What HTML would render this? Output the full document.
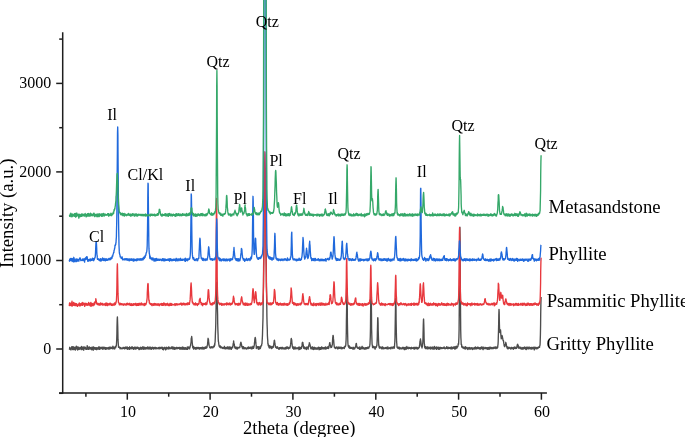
<!DOCTYPE html>
<html><head><meta charset="utf-8"><style>
html,body{margin:0;padding:0;background:#fff;}
svg{display:block;will-change:transform;}
text{font-family:"Liberation Serif",serif;fill:#000;}
</style></head><body>
<svg width="685" height="437" viewBox="0 0 685 437">
<rect width="685" height="437" fill="#fff"/>
<g fill="none" stroke-width="1.35" stroke-linejoin="round"><path d="M69.3 349.8L69.5 349.3L69.7 347.3L69.8 348.6L70.0 348.8L70.2 348.2L70.3 348.1L70.5 348.4L70.7 349.0L70.8 349.9L71.0 349.9L71.1 348.2L71.3 347.8L71.5 348.8L71.6 346.8L71.8 348.3L72.0 348.2L72.1 348.7L72.3 349.0L72.5 346.8L72.6 349.6L72.8 347.9L73.0 348.4L73.1 346.7L73.3 348.6L73.5 347.1L73.6 349.5L73.8 347.1L74.0 349.2L74.1 348.2L74.3 349.0L74.5 349.4L74.6 347.5L74.8 349.2L75.0 347.3L75.1 347.5L75.3 350.1L75.5 348.7L75.6 347.8L75.8 349.1L76.0 348.8L76.1 346.8L76.3 346.1L76.4 348.0L76.6 348.6L76.8 348.8L76.9 349.0L77.1 346.8L77.3 348.7L77.4 347.1L77.6 350.0L77.8 348.5L77.9 347.0L78.1 348.0L78.3 347.1L78.4 347.9L78.6 348.5L78.8 348.4L78.9 349.5L79.1 347.3L79.3 348.3L79.4 349.4L79.6 348.6L79.8 347.9L79.9 349.0L80.1 348.5L80.3 348.4L80.4 348.8L80.6 347.8L80.8 347.3L80.9 349.0L81.1 348.0L81.3 349.6L81.4 349.0L81.6 346.5L81.7 346.7L81.9 348.7L82.1 349.5L82.2 347.4L82.4 347.8L82.6 348.2L82.7 347.4L82.9 347.1L83.1 349.0L83.2 349.3L83.4 348.8L83.6 347.4L83.7 350.2L83.9 347.9L84.1 346.8L84.2 348.7L84.4 348.5L84.6 348.1L84.7 348.5L84.9 347.8L85.1 347.1L85.2 348.5L85.4 349.1L85.6 348.9L85.7 348.9L85.9 347.9L86.1 349.2L86.2 348.9L86.4 349.2L86.6 348.1L86.7 349.0L86.9 349.2L87.0 348.1L87.2 345.6L87.4 348.6L87.5 349.0L87.7 348.2L87.9 348.6L88.0 347.0L88.2 348.2L88.4 348.8L88.5 349.4L88.7 347.8L88.9 348.0L89.0 348.7L89.2 348.4L89.4 346.9L89.5 348.4L89.7 347.2L89.9 349.1L90.0 348.6L90.2 348.7L90.4 348.1L90.5 348.4L90.7 347.7L90.9 348.9L91.0 349.0L91.2 348.6L91.4 347.8L91.5 347.9L91.7 349.8L91.9 347.2L92.0 349.4L92.2 347.8L92.3 349.2L92.5 348.7L92.7 348.0L92.8 347.4L93.0 347.3L93.2 350.3L93.3 346.8L93.5 348.8L93.7 349.2L93.8 347.6L94.0 347.3L94.2 347.6L94.3 348.5L94.5 349.1L94.7 348.2L94.8 348.7L95.0 347.8L95.2 348.0L95.3 349.3L95.5 347.8L95.7 349.0L95.8 348.0L96.0 348.0L96.2 347.6L96.3 348.2L96.5 347.9L96.7 349.7L96.8 348.9L97.0 348.5L97.2 348.8L97.3 348.5L97.5 348.1L97.7 347.7L97.8 349.0L98.0 347.6L98.1 348.2L98.3 348.4L98.5 349.0L98.6 347.0L98.8 348.0L99.0 347.5L99.1 347.8L99.3 346.9L99.5 349.4L99.6 348.0L99.8 348.5L100.0 347.5L100.1 348.3L100.3 348.3L100.5 347.9L100.6 347.8L100.8 348.8L101.0 348.5L101.1 347.3L101.3 348.3L101.5 347.6L101.6 348.0L101.8 347.6L102.0 347.2L102.1 347.7L102.3 348.3L102.5 349.2L102.6 347.5L102.8 348.4L103.0 348.6L103.1 349.1L103.3 348.9L103.4 347.7L103.6 347.2L103.8 348.4L103.9 347.7L104.1 348.7L104.3 347.8L104.4 348.5L104.6 348.6L104.8 347.7L104.9 347.3L105.1 348.3L105.3 349.4L105.4 348.3L105.6 347.7L105.8 348.7L105.9 348.4L106.1 347.6L106.3 347.7L106.4 349.0L106.6 348.0L106.8 348.2L106.9 348.9L107.1 348.5L107.3 348.0L107.4 348.4L107.6 348.7L107.8 348.5L107.9 347.8L108.1 347.9L108.3 347.4L108.4 347.9L108.6 348.9L108.7 348.4L108.9 349.2L109.1 348.9L109.2 348.3L109.4 348.2L109.6 347.3L109.7 348.7L109.9 349.0L110.1 347.0L110.2 348.1L110.4 348.6L110.6 348.5L110.7 347.7L110.9 347.8L111.1 347.5L111.2 348.3L111.4 348.3L111.6 347.4L111.7 347.5L111.9 348.2L112.1 347.4L112.2 347.5L112.4 348.9L112.6 348.0L112.7 347.9L112.9 346.2L113.1 347.5L113.2 347.3L113.4 347.5L113.6 348.7L113.7 347.5L113.9 347.7L114.0 347.2L114.2 348.1L114.4 347.6L114.5 347.6L114.7 349.0L114.9 347.6L115.0 348.0L115.2 346.9L115.4 347.4L115.5 346.2L115.7 347.7L115.9 346.4L116.0 346.0L116.2 346.3L116.4 345.4L116.5 343.7L116.7 339.7L116.9 333.4L117.0 326.7L117.2 319.4L117.4 316.9L117.5 319.5L117.7 325.2L117.9 333.9L118.0 339.4L118.2 342.6L118.4 345.3L118.5 347.3L118.7 347.1L118.9 347.2L119.0 346.8L119.2 346.8L119.3 347.3L119.5 347.6L119.7 347.9L119.8 347.3L120.0 348.7L120.2 348.0L120.3 347.6L120.5 347.5L120.7 348.5L120.8 348.8L121.0 348.2L121.2 348.8L121.3 348.5L121.5 348.1L121.7 348.2L121.8 348.5L122.0 348.3L122.2 348.5L122.3 348.7L122.5 348.2L122.7 348.5L122.8 348.6L123.0 347.4L123.2 348.0L123.3 348.4L123.5 347.4L123.7 348.1L123.8 347.9L124.0 348.5L124.2 348.4L124.3 348.0L124.5 348.9L124.6 347.4L124.8 348.6L125.0 348.0L125.1 348.2L125.3 348.4L125.5 348.3L125.6 348.5L125.8 346.9L126.0 348.1L126.1 347.8L126.3 348.4L126.5 348.4L126.6 347.9L126.8 347.1L127.0 347.3L127.1 346.9L127.3 349.4L127.5 348.5L127.6 347.6L127.8 347.5L128.0 347.6L128.1 348.9L128.3 347.6L128.5 348.7L128.6 347.8L128.8 347.6L129.0 349.1L129.1 349.4L129.3 348.6L129.5 348.2L129.6 346.8L129.8 349.4L130.0 347.8L130.1 348.4L130.3 348.3L130.4 347.8L130.6 347.9L130.8 347.9L130.9 347.9L131.1 347.9L131.3 348.4L131.4 347.1L131.6 348.1L131.8 348.8L131.9 348.5L132.1 346.6L132.3 348.2L132.4 347.9L132.6 348.6L132.8 347.7L132.9 348.2L133.1 347.7L133.3 347.8L133.4 348.2L133.6 349.3L133.8 348.3L133.9 347.9L134.1 348.8L134.3 347.3L134.4 348.5L134.6 347.7L134.8 348.9L134.9 347.3L135.1 348.7L135.3 349.0L135.4 347.3L135.6 348.7L135.7 349.0L135.9 348.5L136.1 347.3L136.2 348.9L136.4 347.9L136.6 348.6L136.7 347.9L136.9 348.2L137.1 347.3L137.2 347.1L137.4 348.4L137.6 347.5L137.7 347.9L137.9 347.5L138.1 347.4L138.2 348.4L138.4 347.8L138.6 348.9L138.7 348.4L138.9 348.0L139.1 349.6L139.2 348.8L139.4 347.9L139.6 349.3L139.7 348.1L139.9 348.4L140.1 348.4L140.2 348.3L140.4 347.5L140.6 349.0L140.7 347.2L140.9 348.3L141.0 347.6L141.2 347.9L141.4 348.0L141.5 349.2L141.7 347.6L141.9 347.6L142.0 347.9L142.2 348.7L142.4 347.1L142.5 348.0L142.7 348.7L142.9 346.6L143.0 347.8L143.2 349.1L143.4 348.1L143.5 347.4L143.7 349.1L143.9 349.4L144.0 347.4L144.2 347.2L144.4 348.6L144.5 347.7L144.7 348.0L144.9 347.5L145.0 348.4L145.2 348.2L145.4 349.1L145.5 348.6L145.7 348.4L145.9 348.2L146.0 347.6L146.2 348.4L146.3 347.7L146.5 348.8L146.7 348.2L146.8 348.6L147.0 348.6L147.2 347.7L147.3 348.4L147.5 346.9L147.7 347.1L147.8 347.8L148.0 349.0L148.2 347.8L148.3 347.8L148.5 348.1L148.7 348.8L148.8 348.9L149.0 347.2L149.2 347.4L149.3 348.7L149.5 348.7L149.7 347.8L149.8 347.1L150.0 349.0L150.2 347.5L150.3 348.6L150.5 347.1L150.7 348.1L150.8 348.2L151.0 347.4L151.2 349.3L151.3 348.5L151.5 348.1L151.6 349.1L151.8 348.3L152.0 348.0L152.1 347.7L152.3 348.4L152.5 347.1L152.6 347.5L152.8 348.4L153.0 348.8L153.1 348.1L153.3 348.6L153.5 347.6L153.6 349.1L153.8 347.7L154.0 347.4L154.1 348.1L154.3 347.7L154.5 347.8L154.6 348.5L154.8 348.2L155.0 348.5L155.1 348.1L155.3 347.3L155.5 348.7L155.6 348.8L155.8 348.2L156.0 348.3L156.1 348.7L156.3 348.7L156.5 347.8L156.6 348.5L156.8 347.9L156.9 348.6L157.1 347.8L157.3 348.2L157.4 348.4L157.6 348.2L157.8 348.4L157.9 348.6L158.1 348.1L158.3 347.7L158.4 348.0L158.6 348.1L158.8 348.7L158.9 347.5L159.1 348.7L159.3 347.9L159.4 347.5L159.6 348.0L159.8 348.9L159.9 347.4L160.1 347.7L160.3 348.1L160.4 347.6L160.6 348.1L160.8 347.4L160.9 348.2L161.1 347.8L161.3 347.9L161.4 347.7L161.6 347.3L161.8 348.4L161.9 347.7L162.1 348.7L162.3 348.2L162.4 347.4L162.6 349.4L162.7 347.5L162.9 348.7L163.1 348.3L163.2 349.1L163.4 349.8L163.6 348.4L163.7 348.0L163.9 348.7L164.1 348.3L164.2 347.8L164.4 347.3L164.6 348.6L164.7 348.7L164.9 348.1L165.1 348.4L165.2 348.3L165.4 348.3L165.6 349.9L165.7 348.4L165.9 347.5L166.1 348.1L166.2 348.7L166.4 348.3L166.6 347.3L166.7 348.1L166.9 349.0L167.1 348.7L167.2 348.3L167.4 348.6L167.6 347.8L167.7 348.1L167.9 348.4L168.0 348.6L168.2 348.8L168.4 347.5L168.5 347.0L168.7 347.2L168.9 349.0L169.0 348.9L169.2 348.6L169.4 348.3L169.5 347.6L169.7 348.1L169.9 347.3L170.0 347.8L170.2 348.2L170.4 348.2L170.5 348.3L170.7 348.7L170.9 348.5L171.0 348.1L171.2 348.1L171.4 348.5L171.5 347.0L171.7 347.9L171.9 347.6L172.0 348.4L172.2 348.6L172.4 348.8L172.5 347.6L172.7 348.7L172.9 346.7L173.0 347.6L173.2 348.1L173.3 349.1L173.5 348.0L173.7 347.6L173.8 347.8L174.0 348.7L174.2 348.8L174.3 348.1L174.5 347.5L174.7 349.4L174.8 348.1L175.0 347.9L175.2 348.7L175.3 347.9L175.5 348.8L175.7 347.8L175.8 348.3L176.0 348.4L176.2 348.9L176.3 347.4L176.5 347.8L176.7 347.9L176.8 347.5L177.0 347.9L177.2 348.3L177.3 348.3L177.5 348.7L177.7 347.8L177.8 348.4L178.0 347.5L178.2 347.7L178.3 348.2L178.5 347.7L178.6 348.3L178.8 347.7L179.0 348.4L179.1 348.5L179.3 348.0L179.5 348.8L179.6 347.4L179.8 349.1L180.0 347.5L180.1 349.0L180.3 348.2L180.5 349.0L180.6 347.7L180.8 347.6L181.0 349.0L181.1 348.8L181.3 348.7L181.5 348.2L181.6 347.7L181.8 347.9L182.0 349.2L182.1 349.2L182.3 347.0L182.5 349.2L182.6 347.9L182.8 348.0L183.0 348.2L183.1 347.7L183.3 348.2L183.5 349.2L183.6 347.4L183.8 348.3L183.9 347.5L184.1 348.6L184.3 348.6L184.4 348.4L184.6 348.4L184.8 349.4L184.9 348.5L185.1 347.7L185.3 348.0L185.4 348.5L185.6 348.4L185.8 348.5L185.9 347.8L186.1 349.2L186.3 349.2L186.4 348.8L186.6 348.5L186.8 348.3L186.9 349.1L187.1 348.5L187.3 347.0L187.4 349.4L187.6 348.0L187.8 347.6L187.9 349.0L188.1 347.8L188.3 347.3L188.4 348.1L188.6 347.0L188.8 347.7L188.9 348.1L189.1 347.4L189.2 347.8L189.4 347.2L189.6 348.9L189.7 347.8L189.9 347.0L190.1 347.2L190.2 346.4L190.4 345.8L190.6 345.6L190.7 344.4L190.9 343.0L191.1 341.8L191.2 338.9L191.4 338.3L191.6 336.9L191.7 336.5L191.9 338.1L192.1 340.5L192.2 342.3L192.4 344.0L192.6 346.2L192.7 347.4L192.9 346.8L193.1 348.1L193.2 347.7L193.4 348.2L193.6 349.1L193.7 346.5L193.9 347.6L194.1 348.8L194.2 347.6L194.4 347.8L194.5 347.9L194.7 348.5L194.9 347.6L195.0 347.6L195.2 348.1L195.4 347.7L195.5 347.7L195.7 347.7L195.9 349.3L196.0 348.9L196.2 348.3L196.4 347.4L196.5 348.1L196.7 348.1L196.9 348.7L197.0 348.4L197.2 348.6L197.4 348.1L197.5 347.5L197.7 348.2L197.9 348.3L198.0 348.3L198.2 348.6L198.4 347.5L198.5 348.4L198.7 348.3L198.9 348.8L199.0 347.8L199.2 348.8L199.4 348.6L199.5 349.1L199.7 347.8L199.9 347.6L200.0 348.2L200.2 348.5L200.3 347.9L200.5 347.8L200.7 347.7L200.8 347.6L201.0 347.9L201.2 348.9L201.3 348.1L201.5 347.6L201.7 348.5L201.8 347.7L202.0 347.8L202.2 347.2L202.3 349.0L202.5 347.7L202.7 347.5L202.8 347.5L203.0 347.4L203.2 348.6L203.3 348.3L203.5 348.9L203.7 348.7L203.8 348.3L204.0 349.2L204.2 348.1L204.3 347.3L204.5 347.9L204.7 348.5L204.8 347.9L205.0 348.1L205.2 347.4L205.3 347.3L205.5 347.4L205.6 348.4L205.8 347.5L206.0 346.8L206.1 347.7L206.3 348.0L206.5 347.4L206.6 348.0L206.8 347.1L207.0 347.5L207.1 345.7L207.3 345.4L207.5 345.0L207.6 343.6L207.8 341.6L208.0 338.7L208.1 338.3L208.3 339.1L208.5 339.8L208.6 341.6L208.8 342.7L209.0 344.6L209.1 345.3L209.3 346.2L209.5 346.5L209.6 347.1L209.8 347.5L210.0 347.7L210.1 347.8L210.3 347.7L210.5 346.9L210.6 347.3L210.8 348.0L210.9 347.8L211.1 347.9L211.3 347.6L211.4 347.6L211.6 346.7L211.8 347.4L211.9 347.5L212.1 347.1L212.3 347.2L212.4 347.7L212.6 347.2L212.8 347.9L212.9 346.7L213.1 346.8L213.3 347.2L213.4 346.7L213.6 347.0L213.8 347.1L213.9 346.0L214.1 345.5L214.3 346.4L214.4 346.3L214.6 343.7L214.8 345.1L214.9 343.2L215.1 342.1L215.3 337.5L215.4 333.9L215.6 329.5L215.8 323.0L215.9 315.3L216.1 306.9L216.2 297.1L216.4 289.4L216.6 284.1L216.7 282.1L216.9 285.3L217.1 289.7L217.2 298.6L217.4 307.6L217.6 314.4L217.7 323.5L217.9 330.1L218.1 334.9L218.2 338.7L218.4 341.8L218.6 342.0L218.7 343.5L218.9 344.7L219.1 345.9L219.2 346.2L219.4 346.4L219.6 346.6L219.7 345.8L219.9 347.3L220.1 346.5L220.2 346.6L220.4 346.0L220.6 347.8L220.7 347.3L220.9 347.9L221.1 347.9L221.2 347.3L221.4 346.9L221.5 347.1L221.7 347.2L221.9 347.9L222.0 347.7L222.2 347.9L222.4 348.3L222.5 348.0L222.7 348.0L222.9 347.4L223.0 347.6L223.2 348.5L223.4 347.8L223.5 347.8L223.7 347.9L223.9 348.0L224.0 347.9L224.2 348.2L224.4 346.3L224.5 347.4L224.7 347.3L224.9 347.4L225.0 348.9L225.2 347.9L225.4 348.0L225.5 348.6L225.7 348.0L225.9 348.8L226.0 347.5L226.2 348.7L226.4 348.3L226.5 347.9L226.7 347.4L226.8 347.9L227.0 347.7L227.2 348.5L227.3 346.9L227.5 347.5L227.7 348.6L227.8 346.9L228.0 347.7L228.2 348.9L228.3 347.6L228.5 347.9L228.7 347.1L228.8 347.8L229.0 347.0L229.2 347.8L229.3 349.1L229.5 348.3L229.7 347.6L229.8 347.0L230.0 347.8L230.2 347.5L230.3 348.8L230.5 347.2L230.7 348.0L230.8 348.4L231.0 348.2L231.2 347.9L231.3 349.4L231.5 347.7L231.7 348.2L231.8 348.1L232.0 347.5L232.2 347.4L232.3 346.7L232.5 347.7L232.6 347.9L232.8 346.1L233.0 346.0L233.1 344.4L233.3 343.1L233.5 343.1L233.6 340.9L233.8 342.4L234.0 343.0L234.1 343.7L234.3 344.3L234.5 346.0L234.6 347.2L234.8 347.1L235.0 346.7L235.1 348.2L235.3 347.7L235.5 347.7L235.6 348.3L235.8 347.6L236.0 348.6L236.1 347.2L236.3 348.9L236.5 348.2L236.6 347.7L236.8 348.0L237.0 348.7L237.1 347.2L237.3 349.0L237.5 349.0L237.6 348.1L237.8 347.9L237.9 347.9L238.1 347.9L238.3 347.5L238.4 348.0L238.6 347.6L238.8 347.9L238.9 347.7L239.1 347.5L239.3 347.2L239.4 347.8L239.6 347.4L239.8 347.6L239.9 346.4L240.1 345.9L240.3 345.0L240.4 344.1L240.6 343.0L240.8 342.4L240.9 342.3L241.1 342.8L241.3 343.8L241.4 343.9L241.6 345.2L241.8 346.8L241.9 347.0L242.1 346.1L242.3 347.1L242.4 348.1L242.6 347.3L242.8 348.7L242.9 348.0L243.1 346.7L243.2 347.7L243.4 347.5L243.6 346.8L243.7 348.4L243.9 348.6L244.1 348.9L244.2 348.0L244.4 347.8L244.6 347.8L244.7 347.7L244.9 348.5L245.1 348.2L245.2 348.4L245.4 347.8L245.6 348.6L245.7 348.6L245.9 347.9L246.1 348.1L246.2 348.1L246.4 349.0L246.6 348.7L246.7 348.2L246.9 348.2L247.1 348.2L247.2 348.7L247.4 348.6L247.6 348.3L247.7 347.4L247.9 348.2L248.1 347.7L248.2 348.6L248.4 346.9L248.5 348.0L248.7 348.6L248.9 347.4L249.0 347.7L249.2 347.9L249.4 348.4L249.5 347.4L249.7 348.3L249.9 348.2L250.0 348.1L250.2 347.2L250.4 347.8L250.5 348.0L250.7 348.1L250.9 347.2L251.0 348.6L251.2 348.8L251.4 347.1L251.5 347.2L251.7 348.2L251.9 347.2L252.0 348.9L252.2 347.3L252.4 347.7L252.5 347.4L252.7 348.1L252.9 348.2L253.0 346.3L253.2 347.5L253.4 347.6L253.5 348.3L253.7 347.0L253.8 347.6L254.0 346.4L254.2 345.6L254.3 344.9L254.5 342.6L254.7 341.7L254.8 339.6L255.0 338.3L255.2 337.4L255.3 337.7L255.5 338.6L255.7 340.5L255.8 342.7L256.0 344.2L256.2 345.3L256.3 348.5L256.5 346.1L256.7 347.1L256.8 347.2L257.0 346.6L257.2 346.9L257.3 347.6L257.5 346.9L257.7 348.0L257.8 347.0L258.0 347.0L258.2 348.9L258.3 347.2L258.5 348.1L258.7 346.6L258.8 349.4L259.0 348.9L259.1 346.9L259.3 347.8L259.5 348.5L259.6 348.6L259.8 347.2L260.0 346.8L260.1 347.2L260.3 348.6L260.5 347.8L260.6 347.6L260.8 346.4L261.0 345.7L261.1 346.0L261.3 345.9L261.5 345.8L261.6 345.3L261.8 343.8L262.0 343.7L262.1 341.2L262.3 338.6L262.5 334.4L262.6 330.3L262.8 324.1L263.0 317.8L263.1 307.4L263.3 295.4L263.5 280.9L263.6 267.7L263.8 252.0L264.0 234.5L264.1 218.2L264.3 202.5L264.4 190.1L264.6 179.3L264.8 171.6L264.9 170.8L265.1 172.8L265.3 179.9L265.4 190.3L265.6 203.4L265.8 218.7L265.9 234.6L266.1 252.4L266.3 267.2L266.4 282.1L266.6 295.4L266.8 307.2L266.9 316.3L267.1 324.8L267.3 329.8L267.4 335.5L267.6 338.6L267.8 340.8L267.9 343.9L268.1 343.6L268.3 345.7L268.4 344.7L268.6 345.1L268.8 346.4L268.9 347.3L269.1 346.6L269.3 348.0L269.4 347.6L269.6 347.9L269.8 347.8L269.9 345.7L270.1 346.9L270.2 346.3L270.4 347.6L270.6 347.0L270.7 347.7L270.9 347.2L271.1 347.7L271.2 346.4L271.4 347.8L271.6 347.7L271.7 348.6L271.9 347.7L272.1 346.9L272.2 347.0L272.4 347.9L272.6 347.7L272.7 346.9L272.9 346.4L273.1 346.2L273.2 346.1L273.4 347.2L273.6 345.3L273.7 345.3L273.9 342.9L274.1 342.6L274.2 340.8L274.4 340.2L274.6 340.8L274.7 341.9L274.9 343.7L275.1 344.8L275.2 345.2L275.4 346.2L275.5 347.3L275.7 347.0L275.9 347.2L276.0 346.6L276.2 347.4L276.4 348.2L276.5 348.1L276.7 348.1L276.9 347.8L277.0 347.4L277.2 347.6L277.4 346.8L277.5 347.1L277.7 347.6L277.9 348.3L278.0 347.9L278.2 347.9L278.4 348.1L278.5 348.2L278.7 348.5L278.9 349.3L279.0 348.3L279.2 347.6L279.4 348.4L279.5 349.0L279.7 348.0L279.9 347.8L280.0 348.3L280.2 347.7L280.4 348.3L280.5 348.1L280.7 348.6L280.8 347.4L281.0 348.3L281.2 348.9L281.3 347.8L281.5 348.1L281.7 348.5L281.8 348.8L282.0 347.5L282.2 347.2L282.3 347.9L282.5 347.8L282.7 347.9L282.8 348.4L283.0 348.9L283.2 347.8L283.3 348.4L283.5 348.5L283.7 348.3L283.8 348.7L284.0 348.4L284.2 348.3L284.3 348.8L284.5 348.1L284.7 348.6L284.8 347.8L285.0 349.1L285.2 347.7L285.3 347.8L285.5 348.5L285.7 348.6L285.8 347.4L286.0 348.9L286.1 348.0L286.3 347.3L286.5 348.7L286.6 347.0L286.8 347.4L287.0 348.1L287.1 348.2L287.3 347.7L287.5 347.4L287.6 347.0L287.8 347.8L288.0 347.5L288.1 347.3L288.3 348.6L288.5 348.9L288.6 347.8L288.8 347.8L289.0 347.6L289.1 348.1L289.3 347.8L289.5 347.3L289.6 347.4L289.8 348.2L290.0 347.8L290.1 346.7L290.3 346.2L290.5 345.0L290.6 344.4L290.8 342.8L291.0 340.1L291.1 339.1L291.3 338.4L291.4 340.0L291.6 339.4L291.8 340.8L291.9 343.1L292.1 344.1L292.3 346.4L292.4 346.3L292.6 347.6L292.8 347.2L292.9 348.4L293.1 347.7L293.3 347.7L293.4 347.2L293.6 347.0L293.8 349.3L293.9 347.9L294.1 347.9L294.3 347.4L294.4 347.8L294.6 348.8L294.8 347.9L294.9 347.8L295.1 346.9L295.3 347.9L295.4 348.8L295.6 348.2L295.8 348.1L295.9 348.7L296.1 348.1L296.3 348.3L296.4 348.0L296.6 348.2L296.7 348.3L296.9 347.6L297.1 347.6L297.2 348.9L297.4 348.1L297.6 348.2L297.7 348.2L297.9 348.3L298.1 348.1L298.2 347.6L298.4 348.4L298.6 347.9L298.7 347.3L298.9 349.7L299.1 348.3L299.2 346.9L299.4 347.6L299.6 348.9L299.7 348.5L299.9 348.3L300.1 349.4L300.2 349.0L300.4 347.4L300.6 348.1L300.7 347.7L300.9 347.6L301.1 347.6L301.2 348.4L301.4 348.6L301.6 346.5L301.7 347.4L301.9 346.7L302.1 345.6L302.2 343.1L302.4 342.4L302.5 342.9L302.7 342.3L302.9 342.8L303.0 344.1L303.2 344.6L303.4 346.4L303.5 346.6L303.7 348.2L303.9 348.4L304.0 347.7L304.2 348.3L304.4 347.0L304.5 347.5L304.7 348.1L304.9 348.9L305.0 347.6L305.2 348.9L305.4 348.5L305.5 347.9L305.7 347.8L305.9 348.5L306.0 348.3L306.2 347.2L306.4 347.5L306.5 349.5L306.7 348.4L306.9 347.1L307.0 347.4L307.2 348.2L307.4 347.1L307.5 347.5L307.7 347.4L307.8 347.4L308.0 347.9L308.2 349.1L308.3 347.3L308.5 346.2L308.7 346.6L308.8 345.2L309.0 345.2L309.2 343.9L309.3 342.8L309.5 342.9L309.7 344.0L309.8 343.9L310.0 344.9L310.2 345.0L310.3 346.8L310.5 347.1L310.7 347.5L310.8 348.6L311.0 347.8L311.2 348.9L311.3 347.1L311.5 348.2L311.7 348.0L311.8 348.5L312.0 347.8L312.2 347.2L312.3 347.9L312.5 349.1L312.7 346.8L312.8 348.6L313.0 347.9L313.1 348.1L313.3 347.9L313.5 349.5L313.6 347.6L313.8 349.0L314.0 349.2L314.1 348.5L314.3 347.8L314.5 347.3L314.6 348.8L314.8 347.9L315.0 348.0L315.1 348.2L315.3 349.2L315.5 348.1L315.6 347.8L315.8 348.7L316.0 348.8L316.1 348.2L316.3 348.3L316.5 348.5L316.6 348.4L316.8 347.9L317.0 349.3L317.1 348.5L317.3 349.1L317.5 348.1L317.6 348.3L317.8 347.8L318.0 347.5L318.1 348.6L318.3 348.4L318.4 347.9L318.6 347.3L318.8 349.3L318.9 347.3L319.1 349.7L319.3 348.4L319.4 347.8L319.6 349.5L319.8 348.2L319.9 347.5L320.1 349.3L320.3 347.8L320.4 348.4L320.6 347.8L320.8 348.9L320.9 347.8L321.1 349.3L321.3 348.4L321.4 347.5L321.6 347.9L321.8 346.8L321.9 347.6L322.1 348.5L322.3 347.4L322.4 347.8L322.6 348.1L322.8 348.8L322.9 347.6L323.1 347.6L323.3 348.9L323.4 347.8L323.6 347.9L323.7 348.8L323.9 348.1L324.1 347.6L324.2 347.7L324.4 347.8L324.6 348.8L324.7 347.4L324.9 347.7L325.1 348.0L325.2 347.6L325.4 347.8L325.6 347.0L325.7 348.4L325.9 349.2L326.1 348.6L326.2 347.9L326.4 347.9L326.6 348.4L326.7 348.0L326.9 348.0L327.1 347.3L327.2 348.1L327.4 348.4L327.6 348.3L327.7 348.0L327.9 346.8L328.1 347.8L328.2 347.1L328.4 346.8L328.6 348.5L328.7 347.1L328.9 347.6L329.0 345.9L329.2 345.9L329.4 344.6L329.5 343.7L329.7 342.6L329.9 342.8L330.0 344.1L330.2 344.6L330.4 345.4L330.5 345.6L330.7 346.7L330.9 347.5L331.0 347.0L331.2 346.6L331.4 347.4L331.5 347.3L331.7 347.0L331.9 346.3L332.0 345.5L332.2 345.1L332.4 344.1L332.5 341.6L332.7 337.8L332.9 336.5L333.0 335.4L333.2 335.5L333.4 337.4L333.5 338.9L333.7 340.5L333.9 343.3L334.0 344.4L334.2 346.3L334.4 347.2L334.5 347.7L334.7 347.6L334.8 347.8L335.0 347.5L335.2 347.4L335.3 348.1L335.5 348.6L335.7 347.8L335.8 348.0L336.0 347.4L336.2 347.2L336.3 347.8L336.5 347.9L336.7 347.6L336.8 347.0L337.0 347.2L337.2 348.5L337.3 347.8L337.5 348.9L337.7 347.5L337.8 347.8L338.0 348.4L338.2 347.4L338.3 348.2L338.5 348.2L338.7 348.6L338.8 347.0L339.0 347.6L339.2 348.4L339.3 347.8L339.5 348.0L339.7 348.2L339.8 347.3L340.0 348.2L340.1 347.5L340.3 347.7L340.5 348.0L340.6 347.2L340.8 348.3L341.0 347.9L341.1 348.8L341.3 347.1L341.5 348.7L341.6 347.4L341.8 347.7L342.0 348.3L342.1 347.7L342.3 347.9L342.5 347.9L342.6 348.6L342.8 348.4L343.0 347.8L343.1 347.9L343.3 347.5L343.5 347.8L343.6 347.9L343.8 347.7L344.0 347.3L344.1 347.4L344.3 348.6L344.5 347.7L344.6 347.3L344.8 346.3L345.0 346.9L345.1 346.9L345.3 346.1L345.4 346.5L345.6 345.9L345.8 345.1L345.9 342.9L346.1 340.0L346.3 331.7L346.4 321.0L346.6 309.9L346.8 295.9L346.9 289.5L347.1 295.8L347.3 308.2L347.4 322.5L347.6 332.5L347.8 340.5L347.9 343.2L348.1 345.2L348.3 346.4L348.4 346.4L348.6 346.3L348.8 347.5L348.9 346.7L349.1 347.7L349.3 347.6L349.4 345.9L349.6 347.0L349.8 347.6L349.9 348.3L350.1 347.7L350.3 347.8L350.4 348.1L350.6 347.9L350.7 347.3L350.9 348.3L351.1 347.5L351.2 348.2L351.4 348.4L351.6 348.1L351.7 348.2L351.9 347.8L352.1 348.4L352.2 348.1L352.4 348.2L352.6 347.9L352.7 349.0L352.9 348.5L353.1 347.1L353.2 348.1L353.4 348.0L353.6 349.0L353.7 347.7L353.9 347.7L354.1 347.9L354.2 348.6L354.4 348.6L354.6 349.0L354.7 348.8L354.9 348.1L355.1 347.8L355.2 347.5L355.4 347.1L355.6 346.0L355.7 346.5L355.9 345.5L356.0 343.8L356.2 344.4L356.4 343.5L356.5 344.4L356.7 346.9L356.9 347.1L357.0 347.3L357.2 347.9L357.4 347.3L357.5 348.0L357.7 347.2L357.9 348.4L358.0 348.2L358.2 347.4L358.4 348.0L358.5 348.0L358.7 348.6L358.9 348.6L359.0 348.2L359.2 348.6L359.4 348.2L359.5 347.6L359.7 349.4L359.9 346.8L360.0 347.5L360.2 349.0L360.4 348.5L360.5 349.1L360.7 348.7L360.9 348.4L361.0 347.9L361.2 348.4L361.3 348.9L361.5 347.8L361.7 347.0L361.8 347.6L362.0 348.2L362.2 346.3L362.3 348.1L362.5 348.7L362.7 347.3L362.8 348.3L363.0 347.9L363.2 348.0L363.3 347.4L363.5 348.4L363.7 348.9L363.8 348.4L364.0 348.2L364.2 348.1L364.3 348.3L364.5 348.4L364.7 349.2L364.8 347.8L365.0 347.8L365.2 348.4L365.3 348.4L365.5 349.0L365.7 347.6L365.8 348.6L366.0 348.2L366.2 347.7L366.3 348.4L366.5 348.9L366.6 348.6L366.8 347.7L367.0 347.9L367.1 347.7L367.3 348.4L367.5 347.4L367.6 347.1L367.8 348.3L368.0 348.0L368.1 348.5L368.3 347.3L368.5 347.2L368.6 348.0L368.8 348.1L369.0 347.3L369.1 347.1L369.3 346.7L369.5 346.5L369.6 346.4L369.8 345.2L370.0 343.8L370.1 341.3L370.3 336.7L370.5 326.8L370.6 314.1L370.8 298.6L371.0 289.4L371.1 289.4L371.3 299.8L371.5 313.7L371.6 328.3L371.8 335.3L372.0 341.5L372.1 344.1L372.3 345.1L372.4 345.9L372.6 347.6L372.8 346.1L372.9 347.6L373.1 346.6L373.3 346.3L373.4 347.3L373.6 347.4L373.8 347.7L373.9 347.7L374.1 347.0L374.3 347.6L374.4 347.1L374.6 348.0L374.8 347.3L374.9 346.8L375.1 349.2L375.3 347.1L375.4 346.9L375.6 348.0L375.8 347.4L375.9 347.4L376.1 347.5L376.3 347.1L376.4 347.0L376.6 346.3L376.8 345.0L376.9 345.5L377.1 341.6L377.3 336.4L377.4 330.8L377.6 323.2L377.7 317.8L377.9 317.9L378.1 323.0L378.2 330.4L378.4 336.5L378.6 342.2L378.7 344.7L378.9 346.1L379.1 345.8L379.2 347.7L379.4 347.2L379.6 346.8L379.7 348.2L379.9 347.7L380.1 346.9L380.2 347.6L380.4 347.9L380.6 347.8L380.7 347.8L380.9 347.3L381.1 347.7L381.2 348.2L381.4 347.1L381.6 348.7L381.7 347.7L381.9 348.6L382.1 348.0L382.2 348.9L382.4 347.3L382.6 347.5L382.7 346.8L382.9 347.6L383.0 348.1L383.2 347.6L383.4 347.6L383.5 348.0L383.7 348.8L383.9 348.3L384.0 347.8L384.2 348.6L384.4 348.5L384.5 348.2L384.7 348.5L384.9 347.9L385.0 347.6L385.2 347.8L385.4 348.2L385.5 348.2L385.7 347.9L385.9 348.0L386.0 347.4L386.2 348.6L386.4 348.4L386.5 347.4L386.7 348.6L386.9 348.2L387.0 348.6L387.2 348.7L387.4 348.9L387.5 348.8L387.7 348.8L387.9 346.8L388.0 347.5L388.2 348.8L388.3 348.2L388.5 348.1L388.7 348.1L388.8 348.1L389.0 348.0L389.2 348.2L389.3 347.8L389.5 348.3L389.7 347.9L389.8 348.3L390.0 348.6L390.2 347.8L390.3 348.1L390.5 347.8L390.7 348.8L390.8 348.8L391.0 347.3L391.2 347.5L391.3 347.6L391.5 347.2L391.7 348.0L391.8 347.3L392.0 347.8L392.2 347.2L392.3 347.2L392.5 347.1L392.7 348.3L392.8 348.6L393.0 347.4L393.2 347.7L393.3 347.7L393.5 347.2L393.6 346.9L393.8 346.7L394.0 347.5L394.1 346.9L394.3 348.2L394.5 346.7L394.6 344.7L394.8 342.3L395.0 337.5L395.1 330.7L395.3 318.6L395.5 306.8L395.6 298.2L395.8 298.1L396.0 307.2L396.1 319.8L396.3 330.0L396.5 338.0L396.6 341.9L396.8 343.6L397.0 346.8L397.1 347.5L397.3 346.8L397.5 347.3L397.6 347.8L397.8 347.3L398.0 348.4L398.1 348.2L398.3 347.7L398.5 347.3L398.6 348.5L398.8 348.5L398.9 347.3L399.1 347.4L399.3 347.2L399.4 348.9L399.6 348.9L399.8 349.1L399.9 348.1L400.1 348.2L400.3 348.2L400.4 347.8L400.6 348.0L400.8 348.0L400.9 348.1L401.1 348.4L401.3 348.9L401.4 347.9L401.6 348.8L401.8 348.9L401.9 348.1L402.1 348.4L402.3 348.2L402.4 348.3L402.6 347.4L402.8 348.5L402.9 347.4L403.1 347.4L403.3 348.7L403.4 347.9L403.6 348.3L403.8 347.4L403.9 347.9L404.1 349.1L404.3 348.8L404.4 349.6L404.6 347.9L404.7 349.0L404.9 349.6L405.1 347.5L405.2 348.0L405.4 348.0L405.6 348.8L405.7 347.9L405.9 348.1L406.1 347.3L406.2 349.3L406.4 346.9L406.6 347.9L406.7 348.4L406.9 346.5L407.1 347.6L407.2 347.4L407.4 347.8L407.6 347.8L407.7 347.6L407.9 348.5L408.1 348.0L408.2 348.6L408.4 348.1L408.6 348.3L408.7 348.7L408.9 347.3L409.1 348.3L409.2 347.4L409.4 347.9L409.6 348.4L409.7 348.2L409.9 347.9L410.0 348.2L410.2 348.1L410.4 347.7L410.5 348.0L410.7 348.4L410.9 349.0L411.0 348.1L411.2 348.6L411.4 348.1L411.5 347.3L411.7 348.6L411.9 348.3L412.0 348.1L412.2 348.3L412.4 347.9L412.5 348.3L412.7 347.8L412.9 348.4L413.0 348.4L413.2 347.9L413.4 348.3L413.5 348.1L413.7 347.4L413.9 348.1L414.0 348.2L414.2 349.3L414.4 347.4L414.5 347.9L414.7 348.4L414.9 347.6L415.0 347.5L415.2 348.2L415.3 347.3L415.5 347.7L415.7 348.4L415.8 347.7L416.0 348.9L416.2 348.6L416.3 348.7L416.5 347.5L416.7 348.2L416.8 348.0L417.0 347.3L417.2 347.9L417.3 347.8L417.5 348.2L417.7 349.0L417.8 348.2L418.0 347.9L418.2 348.0L418.3 348.6L418.5 348.3L418.7 347.9L418.8 348.0L419.0 347.4L419.2 347.0L419.3 347.4L419.5 345.6L419.7 345.2L419.8 343.6L420.0 341.3L420.2 340.9L420.3 339.8L420.5 338.9L420.6 339.9L420.8 341.0L421.0 342.7L421.1 343.8L421.3 346.2L421.5 346.1L421.6 346.6L421.8 346.9L422.0 348.0L422.1 347.1L422.3 346.7L422.5 346.2L422.6 344.2L422.8 342.6L423.0 337.8L423.1 332.8L423.3 324.4L423.5 319.2L423.6 319.0L423.8 324.4L424.0 331.9L424.1 338.2L424.3 343.7L424.5 344.5L424.6 345.6L424.8 347.9L425.0 347.4L425.1 347.9L425.3 347.8L425.5 346.7L425.6 348.6L425.8 348.2L425.9 347.1L426.1 347.4L426.3 347.1L426.4 347.3L426.6 347.2L426.8 348.6L426.9 348.9L427.1 347.7L427.3 347.7L427.4 346.8L427.6 347.3L427.8 348.7L427.9 348.5L428.1 347.9L428.3 348.7L428.4 347.2L428.6 348.3L428.8 347.5L428.9 347.6L429.1 348.5L429.3 347.5L429.4 348.5L429.6 347.9L429.8 348.0L429.9 347.8L430.1 347.1L430.3 348.5L430.4 347.2L430.6 348.5L430.8 348.2L430.9 349.2L431.1 347.7L431.2 348.6L431.4 348.1L431.6 348.2L431.7 348.1L431.9 348.2L432.1 346.9L432.2 348.2L432.4 348.1L432.6 348.0L432.7 347.5L432.9 349.2L433.1 348.0L433.2 347.1L433.4 348.8L433.6 347.3L433.7 348.7L433.9 348.8L434.1 347.6L434.2 349.2L434.4 347.8L434.6 346.4L434.7 347.8L434.9 348.3L435.1 347.8L435.2 348.2L435.4 347.7L435.6 348.2L435.7 348.2L435.9 348.7L436.1 348.2L436.2 348.1L436.4 349.4L436.5 346.9L436.7 348.0L436.9 347.7L437.0 348.2L437.2 347.9L437.4 348.6L437.5 348.3L437.7 348.7L437.9 347.1L438.0 348.5L438.2 347.7L438.4 349.1L438.5 347.3L438.7 349.3L438.9 348.0L439.0 347.5L439.2 347.6L439.4 347.6L439.5 348.3L439.7 347.8L439.9 349.2L440.0 347.4L440.2 347.3L440.4 348.1L440.5 347.8L440.7 347.9L440.9 348.3L441.0 347.7L441.2 348.3L441.4 348.3L441.5 347.8L441.7 348.5L441.9 347.7L442.0 347.8L442.2 348.3L442.3 348.5L442.5 347.9L442.7 348.1L442.8 348.0L443.0 347.8L443.2 348.1L443.3 348.2L443.5 347.8L443.7 347.2L443.8 348.1L444.0 347.9L444.2 347.0L444.3 347.7L444.5 348.5L444.7 347.9L444.8 348.3L445.0 348.2L445.2 348.3L445.3 348.4L445.5 348.7L445.7 348.0L445.8 347.8L446.0 347.7L446.2 347.9L446.3 348.3L446.5 348.2L446.7 346.6L446.8 346.9L447.0 348.1L447.2 348.3L447.3 347.7L447.5 347.6L447.6 348.7L447.8 348.3L448.0 347.1L448.1 347.3L448.3 348.6L448.5 348.3L448.6 348.2L448.8 348.0L449.0 347.4L449.1 348.4L449.3 347.8L449.5 348.3L449.6 347.7L449.8 348.4L450.0 348.1L450.1 348.0L450.3 347.6L450.5 348.5L450.6 347.5L450.8 347.7L451.0 348.9L451.1 347.7L451.3 347.0L451.5 348.3L451.6 348.6L451.8 347.7L452.0 348.8L452.1 348.0L452.3 347.6L452.5 348.2L452.6 347.6L452.8 347.2L452.9 348.5L453.1 348.2L453.3 347.6L453.4 347.7L453.6 348.1L453.8 346.9L453.9 347.3L454.1 348.4L454.3 347.9L454.4 347.7L454.6 347.5L454.8 349.1L454.9 346.6L455.1 348.4L455.3 347.8L455.4 347.6L455.6 346.9L455.8 348.7L455.9 347.5L456.1 347.4L456.3 346.1L456.4 347.2L456.6 346.5L456.8 347.8L456.9 348.1L457.1 346.6L457.3 347.0L457.4 347.2L457.6 346.8L457.8 346.6L457.9 346.0L458.1 345.3L458.2 343.8L458.4 344.2L458.6 344.2L458.7 341.8L458.9 337.7L459.1 329.5L459.2 315.6L459.4 294.4L459.6 265.7L459.7 237.9L459.9 227.2L460.1 238.6L460.2 265.4L460.4 293.5L460.6 318.0L460.7 330.0L460.9 337.8L461.1 341.0L461.2 344.4L461.4 344.2L461.6 344.5L461.7 346.9L461.9 345.9L462.1 346.7L462.2 347.4L462.4 347.0L462.6 346.8L462.7 347.6L462.9 348.1L463.1 346.9L463.2 347.6L463.4 347.5L463.5 347.8L463.7 347.6L463.9 348.2L464.0 348.5L464.2 347.1L464.4 347.7L464.5 348.3L464.7 347.9L464.9 347.9L465.0 348.9L465.2 348.4L465.4 347.6L465.5 346.6L465.7 349.0L465.9 348.3L466.0 347.8L466.2 347.7L466.4 347.6L466.5 347.5L466.7 347.9L466.9 348.0L467.0 348.1L467.2 348.3L467.4 348.6L467.5 349.0L467.7 347.9L467.9 349.5L468.0 347.4L468.2 348.2L468.4 348.3L468.5 347.9L468.7 348.3L468.8 348.6L469.0 348.0L469.2 348.7L469.3 347.8L469.5 348.9L469.7 348.5L469.8 347.5L470.0 349.3L470.2 349.1L470.3 347.9L470.5 348.1L470.7 348.3L470.8 348.5L471.0 348.7L471.2 348.6L471.3 347.6L471.5 348.8L471.7 348.8L471.8 348.4L472.0 348.2L472.2 348.8L472.3 348.1L472.5 349.5L472.7 347.9L472.8 348.8L473.0 347.8L473.2 348.1L473.3 348.6L473.5 348.5L473.7 348.7L473.8 348.2L474.0 349.1L474.2 348.8L474.3 348.1L474.5 347.5L474.6 348.8L474.8 348.4L475.0 348.7L475.1 348.2L475.3 348.9L475.5 348.3L475.6 347.0L475.8 348.4L476.0 348.4L476.1 348.5L476.3 348.9L476.5 348.8L476.6 347.7L476.8 348.9L477.0 348.5L477.1 348.5L477.3 347.9L477.5 347.1L477.6 348.4L477.8 348.4L478.0 348.1L478.1 347.4L478.3 348.1L478.5 347.5L478.6 348.4L478.8 348.1L479.0 348.7L479.1 348.8L479.3 347.7L479.5 347.8L479.6 347.8L479.8 347.9L479.9 348.7L480.1 349.3L480.3 348.5L480.4 347.9L480.6 347.7L480.8 347.5L480.9 348.5L481.1 347.1L481.3 348.5L481.4 347.8L481.6 348.2L481.8 347.0L481.9 347.3L482.1 348.2L482.3 348.7L482.4 348.2L482.6 347.4L482.8 347.3L482.9 348.5L483.1 349.6L483.3 347.4L483.4 348.4L483.6 347.4L483.8 348.3L483.9 348.1L484.1 347.3L484.3 348.5L484.4 348.1L484.6 348.4L484.8 348.1L484.9 348.5L485.1 348.0L485.2 348.5L485.4 348.6L485.6 347.4L485.7 347.9L485.9 348.6L486.1 347.8L486.2 348.3L486.4 347.7L486.6 348.6L486.7 348.5L486.9 348.8L487.1 349.1L487.2 347.8L487.4 348.0L487.6 347.7L487.7 348.3L487.9 349.4L488.1 347.7L488.2 349.4L488.4 347.8L488.6 348.0L488.7 347.9L488.9 348.1L489.1 348.2L489.2 347.3L489.4 347.5L489.6 348.9L489.7 349.2L489.9 347.6L490.1 347.2L490.2 348.4L490.4 348.6L490.5 348.1L490.7 347.5L490.9 348.2L491.0 348.3L491.2 348.1L491.4 347.7L491.5 348.6L491.7 348.3L491.9 347.4L492.0 348.0L492.2 348.8L492.4 348.4L492.5 348.3L492.7 347.9L492.9 348.0L493.0 348.3L493.2 348.2L493.4 347.8L493.5 347.3L493.7 348.6L493.9 347.6L494.0 348.2L494.2 348.4L494.4 348.0L494.5 348.1L494.7 347.2L494.9 347.0L495.0 347.4L495.2 347.9L495.4 347.7L495.5 347.0L495.7 348.3L495.8 348.2L496.0 348.7L496.2 347.4L496.3 347.2L496.5 347.6L496.7 347.2L496.8 347.6L497.0 347.4L497.2 348.2L497.3 347.1L497.5 347.0L497.7 347.4L497.8 345.6L498.0 344.6L498.2 341.5L498.3 337.2L498.5 331.0L498.7 322.4L498.8 315.1L499.0 309.4L499.2 312.3L499.3 319.7L499.5 327.0L499.7 332.2L499.8 332.3L500.0 332.5L500.2 329.8L500.3 329.8L500.5 329.9L500.7 331.9L500.8 334.2L501.0 336.4L501.1 337.4L501.3 338.8L501.5 338.2L501.6 336.8L501.8 336.5L502.0 335.5L502.1 335.8L502.3 336.4L502.5 337.2L502.6 338.2L502.8 339.2L503.0 339.6L503.1 340.6L503.3 340.2L503.5 340.9L503.6 341.7L503.8 343.4L504.0 344.2L504.1 345.4L504.3 346.2L504.5 346.2L504.6 346.2L504.8 346.7L505.0 345.2L505.1 344.6L505.3 345.0L505.5 344.0L505.6 343.6L505.8 342.3L506.0 343.9L506.1 343.5L506.3 344.2L506.4 345.6L506.6 346.0L506.8 347.0L506.9 347.1L507.1 348.1L507.3 347.8L507.4 346.8L507.6 347.9L507.8 348.8L507.9 348.5L508.1 347.8L508.3 348.5L508.4 348.7L508.6 348.4L508.8 347.1L508.9 348.4L509.1 347.5L509.3 348.4L509.4 348.0L509.6 347.7L509.8 348.0L509.9 347.5L510.1 347.7L510.3 348.2L510.4 347.8L510.6 348.3L510.8 348.4L510.9 349.2L511.1 348.4L511.3 347.7L511.4 347.9L511.6 347.7L511.8 348.1L511.9 347.3L512.1 347.9L512.2 348.6L512.4 348.1L512.6 348.4L512.7 348.0L512.9 348.1L513.1 347.8L513.2 347.8L513.4 349.3L513.6 347.5L513.7 347.9L513.9 348.3L514.1 347.5L514.2 347.6L514.4 348.1L514.6 348.5L514.7 346.9L514.9 348.3L515.1 347.7L515.2 348.1L515.4 347.5L515.6 347.4L515.7 347.8L515.9 348.6L516.1 348.4L516.2 348.2L516.4 347.1L516.6 348.4L516.7 348.1L516.9 347.6L517.1 346.3L517.2 344.9L517.4 345.2L517.5 344.5L517.7 344.3L517.9 345.1L518.0 345.4L518.2 345.3L518.4 347.7L518.5 346.9L518.7 346.3L518.9 347.7L519.0 348.4L519.2 347.6L519.4 347.7L519.5 347.8L519.7 347.4L519.9 347.3L520.0 347.8L520.2 347.2L520.4 348.6L520.5 347.6L520.7 348.7L520.9 348.3L521.0 348.6L521.2 348.6L521.4 348.0L521.5 349.0L521.7 348.2L521.9 347.5L522.0 348.4L522.2 348.3L522.4 349.1L522.5 348.3L522.7 348.0L522.8 347.8L523.0 349.1L523.2 347.8L523.3 348.8L523.5 347.6L523.7 347.4L523.8 347.6L524.0 347.8L524.2 347.9L524.3 347.8L524.5 348.6L524.7 347.0L524.8 347.4L525.0 348.3L525.2 348.2L525.3 347.7L525.5 348.2L525.7 348.3L525.8 349.4L526.0 347.5L526.2 349.0L526.3 349.5L526.5 348.1L526.7 348.0L526.8 347.1L527.0 348.5L527.2 348.3L527.3 347.6L527.5 348.5L527.7 347.2L527.8 348.4L528.0 347.7L528.1 348.9L528.3 347.6L528.5 348.2L528.6 348.8L528.8 347.5L529.0 348.6L529.1 347.0L529.3 347.7L529.5 348.5L529.6 348.2L529.8 347.9L530.0 348.2L530.1 348.5L530.3 347.6L530.5 348.6L530.6 348.7L530.8 348.8L531.0 347.8L531.1 349.1L531.3 347.3L531.5 349.0L531.6 348.7L531.8 348.0L532.0 347.7L532.1 348.1L532.3 348.2L532.5 347.5L532.6 347.8L532.8 348.8L533.0 348.1L533.1 348.4L533.3 347.5L533.4 348.1L533.6 348.5L533.8 348.2L533.9 347.1L534.1 348.1L534.3 349.9L534.4 347.5L534.6 348.9L534.8 347.4L534.9 347.4L535.1 348.6L535.3 347.5L535.4 347.9L535.6 347.8L535.8 347.5L535.9 348.5L536.1 347.4L536.3 347.6L536.4 348.7L536.6 348.8L536.8 348.9L536.9 348.4L537.1 348.0L537.3 348.7L537.4 348.0L537.6 347.5L537.8 348.2L537.9 347.4L538.1 348.2L538.3 347.9L538.4 347.9L538.6 346.9L538.7 347.5L538.9 347.1L539.1 347.3L539.2 347.1L539.4 347.0L539.6 347.2L539.7 345.8L539.9 345.7L540.1 344.1L540.2 341.0L540.4 334.9L540.6 324.6L540.7 314.1L540.9 303.0L541.1 297.0" stroke="#4d4d4d"/><path d="M69.3 306.1L69.5 303.2L69.7 305.4L69.8 302.8L70.0 303.5L70.2 303.2L70.3 303.8L70.5 305.4L70.7 305.5L70.8 303.7L71.0 304.6L71.1 304.2L71.3 303.0L71.5 305.9L71.6 304.2L71.8 304.2L72.0 301.1L72.1 303.8L72.3 306.0L72.5 303.8L72.6 304.4L72.8 303.3L73.0 305.2L73.1 304.5L73.3 303.3L73.5 305.2L73.6 302.5L73.8 304.8L74.0 305.3L74.1 304.3L74.3 303.9L74.5 303.1L74.6 304.7L74.8 303.6L75.0 305.6L75.1 304.2L75.3 303.5L75.5 304.5L75.6 304.2L75.8 305.5L76.0 304.5L76.1 304.4L76.3 305.2L76.4 303.6L76.6 303.7L76.8 304.2L76.9 305.7L77.1 304.8L77.3 304.8L77.4 306.4L77.6 304.9L77.8 304.8L77.9 305.8L78.1 305.7L78.3 305.4L78.4 304.1L78.6 304.8L78.8 305.1L78.9 304.4L79.1 304.2L79.3 302.9L79.4 303.3L79.6 305.6L79.8 304.8L79.9 306.0L80.1 303.8L80.3 304.0L80.4 304.3L80.6 305.6L80.8 304.6L80.9 303.7L81.1 303.6L81.3 305.2L81.4 304.1L81.6 305.1L81.7 304.0L81.9 304.5L82.1 304.6L82.2 302.4L82.4 304.8L82.6 304.2L82.7 305.4L82.9 303.5L83.1 303.1L83.2 303.0L83.4 304.4L83.6 304.3L83.7 304.3L83.9 304.5L84.1 304.4L84.2 303.3L84.4 304.4L84.6 305.3L84.7 306.4L84.9 303.6L85.1 304.3L85.2 303.2L85.4 304.5L85.6 304.7L85.7 304.1L85.9 304.4L86.1 303.8L86.2 305.2L86.4 304.3L86.6 304.6L86.7 303.3L86.9 303.3L87.0 305.0L87.2 304.8L87.4 305.1L87.5 305.3L87.7 305.1L87.9 304.0L88.0 304.8L88.2 304.3L88.4 305.0L88.5 303.3L88.7 302.4L88.9 303.9L89.0 303.3L89.2 304.1L89.4 304.8L89.5 304.0L89.7 304.5L89.9 305.5L90.0 303.5L90.2 303.7L90.4 304.6L90.5 305.6L90.7 303.5L90.9 302.4L91.0 306.4L91.2 305.0L91.4 305.0L91.5 303.9L91.7 303.8L91.9 303.8L92.0 303.4L92.2 305.5L92.3 305.2L92.5 305.3L92.7 304.6L92.8 305.2L93.0 303.7L93.2 305.7L93.3 303.9L93.5 304.2L93.7 304.7L93.8 304.6L94.0 304.9L94.2 303.9L94.3 302.5L94.5 304.8L94.7 303.8L94.8 303.3L95.0 301.7L95.2 301.9L95.3 302.3L95.5 301.7L95.7 300.5L95.8 298.7L96.0 299.5L96.2 301.0L96.3 301.0L96.5 303.6L96.7 303.5L96.8 303.2L97.0 303.1L97.2 304.5L97.3 304.6L97.5 303.2L97.7 304.3L97.8 304.3L98.0 304.6L98.1 303.7L98.3 303.5L98.5 304.0L98.6 304.4L98.8 305.0L99.0 305.1L99.1 304.6L99.3 303.9L99.5 304.3L99.6 304.0L99.8 303.4L100.0 304.5L100.1 305.0L100.3 304.1L100.5 303.0L100.6 304.9L100.8 303.9L101.0 304.1L101.1 304.7L101.3 304.1L101.5 304.3L101.6 303.5L101.8 304.0L102.0 304.2L102.1 304.5L102.3 303.3L102.5 303.8L102.6 304.9L102.8 305.2L103.0 305.0L103.1 304.2L103.3 304.3L103.4 304.2L103.6 304.9L103.8 303.9L103.9 304.6L104.1 304.5L104.3 304.8L104.4 304.2L104.6 304.6L104.8 304.6L104.9 303.8L105.1 304.0L105.3 305.4L105.4 304.0L105.6 303.2L105.8 305.5L105.9 303.7L106.1 304.3L106.3 305.1L106.4 304.4L106.6 304.5L106.8 302.9L106.9 304.9L107.1 304.4L107.3 304.4L107.4 305.6L107.6 303.7L107.8 304.2L107.9 304.2L108.1 303.9L108.3 305.0L108.4 304.3L108.6 304.0L108.7 304.2L108.9 304.8L109.1 304.4L109.2 304.7L109.4 303.4L109.6 304.8L109.7 304.9L109.9 303.6L110.1 303.2L110.2 304.4L110.4 304.3L110.6 303.9L110.7 303.5L110.9 304.7L111.1 303.8L111.2 304.2L111.4 305.3L111.6 304.2L111.7 303.9L111.9 304.6L112.1 305.3L112.2 305.5L112.4 304.9L112.6 304.2L112.7 304.4L112.9 304.3L113.1 304.4L113.2 304.1L113.4 305.1L113.6 304.5L113.7 303.9L113.9 303.8L114.0 304.7L114.2 305.3L114.4 303.4L114.5 303.0L114.7 303.9L114.9 303.9L115.0 304.2L115.2 304.0L115.4 304.6L115.5 302.7L115.7 303.4L115.9 303.2L116.0 302.5L116.2 301.8L116.4 300.4L116.5 299.0L116.7 294.2L116.9 285.8L117.0 277.2L117.2 266.9L117.4 263.8L117.5 267.6L117.7 277.4L117.9 287.1L118.0 293.4L118.2 297.9L118.4 302.1L118.5 302.7L118.7 302.5L118.9 302.8L119.0 302.8L119.2 303.4L119.3 304.8L119.5 303.5L119.7 304.3L119.8 304.8L120.0 304.5L120.2 303.6L120.3 304.1L120.5 303.3L120.7 304.3L120.8 303.6L121.0 303.8L121.2 304.8L121.3 304.7L121.5 304.2L121.7 304.3L121.8 303.6L122.0 303.6L122.2 304.3L122.3 304.6L122.5 304.7L122.7 304.9L122.8 304.8L123.0 304.0L123.2 303.9L123.3 304.4L123.5 304.5L123.7 305.2L123.8 304.3L124.0 304.3L124.2 304.6L124.3 304.0L124.5 304.2L124.6 303.8L124.8 304.3L125.0 304.3L125.1 304.8L125.3 304.2L125.5 304.1L125.6 304.9L125.8 305.0L126.0 304.9L126.1 305.2L126.3 304.0L126.5 303.5L126.6 304.9L126.8 304.7L127.0 304.2L127.1 304.7L127.3 303.6L127.5 304.3L127.6 303.1L127.8 304.5L128.0 304.4L128.1 304.1L128.3 304.1L128.5 304.4L128.6 304.7L128.8 303.8L129.0 304.4L129.1 304.2L129.3 304.7L129.5 304.8L129.6 303.3L129.8 303.4L130.0 305.0L130.1 304.5L130.3 304.1L130.4 305.4L130.6 304.4L130.8 304.8L130.9 305.0L131.1 305.3L131.3 304.0L131.4 303.6L131.6 304.4L131.8 304.6L131.9 305.5L132.1 304.6L132.3 304.5L132.4 304.3L132.6 304.1L132.8 304.4L132.9 305.4L133.1 304.8L133.3 304.4L133.4 303.7L133.6 304.7L133.8 305.3L133.9 304.7L134.1 303.9L134.3 304.1L134.4 304.7L134.6 304.0L134.8 304.1L134.9 303.6L135.1 304.6L135.3 304.7L135.4 304.7L135.6 305.1L135.7 304.2L135.9 303.3L136.1 305.0L136.2 304.5L136.4 304.9L136.6 305.5L136.7 304.6L136.9 304.0L137.1 304.2L137.2 303.8L137.4 304.7L137.6 305.4L137.7 303.7L137.9 304.3L138.1 305.4L138.2 303.4L138.4 304.2L138.6 303.6L138.7 305.3L138.9 303.7L139.1 304.4L139.2 304.4L139.4 304.1L139.6 304.7L139.7 303.3L139.9 303.7L140.1 304.2L140.2 305.0L140.4 304.4L140.6 304.4L140.7 303.7L140.9 304.9L141.0 304.9L141.2 302.9L141.4 304.3L141.5 304.9L141.7 304.0L141.9 304.7L142.0 303.3L142.2 304.2L142.4 304.1L142.5 304.9L142.7 304.3L142.9 304.6L143.0 304.9L143.2 304.1L143.4 303.9L143.5 304.0L143.7 304.3L143.9 304.1L144.0 304.0L144.2 305.6L144.4 303.4L144.5 303.9L144.7 303.7L144.9 303.8L145.0 305.2L145.2 303.6L145.4 304.1L145.5 304.3L145.7 304.7L145.9 304.0L146.0 304.5L146.2 303.4L146.3 303.1L146.5 302.4L146.7 302.0L146.8 300.4L147.0 299.3L147.2 297.2L147.3 292.5L147.5 289.3L147.7 285.4L147.8 283.8L148.0 283.5L148.2 284.3L148.3 289.8L148.5 292.5L148.7 296.6L148.8 299.4L149.0 301.0L149.2 300.4L149.3 302.9L149.5 303.2L149.7 303.5L149.8 303.5L150.0 303.6L150.2 303.8L150.3 304.5L150.5 303.3L150.7 304.0L150.8 304.0L151.0 303.9L151.2 303.6L151.3 303.7L151.5 304.5L151.6 305.0L151.8 305.0L152.0 305.1L152.1 305.6L152.3 303.9L152.5 304.9L152.6 304.1L152.8 304.5L153.0 304.5L153.1 304.6L153.3 303.8L153.5 305.1L153.6 304.1L153.8 305.3L154.0 304.4L154.1 304.7L154.3 303.5L154.5 304.6L154.6 305.0L154.8 304.4L155.0 304.3L155.1 304.3L155.3 303.7L155.5 304.5L155.6 305.0L155.8 304.9L156.0 304.0L156.1 304.5L156.3 304.8L156.5 305.1L156.6 304.5L156.8 304.2L156.9 304.0L157.1 304.8L157.3 304.4L157.4 304.8L157.6 305.2L157.8 303.9L157.9 304.1L158.1 303.6L158.3 304.3L158.4 304.1L158.6 305.0L158.8 304.2L158.9 304.9L159.1 305.6L159.3 305.7L159.4 304.3L159.6 304.5L159.8 304.3L159.9 304.5L160.1 304.2L160.3 304.3L160.4 303.8L160.6 304.5L160.8 304.2L160.9 304.8L161.1 304.5L161.3 303.9L161.4 305.2L161.6 303.4L161.8 304.6L161.9 304.0L162.1 303.7L162.3 303.8L162.4 305.4L162.6 303.6L162.7 304.7L162.9 303.9L163.1 304.8L163.2 304.9L163.4 305.3L163.6 304.6L163.7 303.0L163.9 304.0L164.1 304.5L164.2 304.3L164.4 304.4L164.6 303.7L164.7 303.3L164.9 303.8L165.1 305.5L165.2 304.6L165.4 305.3L165.6 304.1L165.7 304.2L165.9 304.5L166.1 304.3L166.2 303.7L166.4 304.3L166.6 303.9L166.7 305.1L166.9 304.0L167.1 305.2L167.2 304.5L167.4 303.6L167.6 303.3L167.7 304.0L167.9 304.7L168.0 304.8L168.2 305.1L168.4 304.8L168.5 305.5L168.7 304.8L168.9 304.2L169.0 305.3L169.2 304.3L169.4 305.6L169.5 304.0L169.7 304.2L169.9 304.6L170.0 305.2L170.2 303.3L170.4 304.5L170.5 304.5L170.7 305.2L170.9 304.0L171.0 303.9L171.2 303.5L171.4 305.4L171.5 303.6L171.7 304.6L171.9 304.3L172.0 304.7L172.2 305.0L172.4 304.7L172.5 304.4L172.7 304.2L172.9 304.3L173.0 304.7L173.2 304.5L173.3 304.7L173.5 304.6L173.7 304.6L173.8 304.7L174.0 304.3L174.2 304.3L174.3 304.4L174.5 304.1L174.7 303.7L174.8 304.4L175.0 305.5L175.2 304.2L175.3 304.3L175.5 304.3L175.7 304.2L175.8 305.1L176.0 303.7L176.2 303.8L176.3 303.8L176.5 304.7L176.7 303.9L176.8 304.8L177.0 303.6L177.2 304.8L177.3 304.5L177.5 304.7L177.7 305.0L177.8 304.3L178.0 304.4L178.2 304.5L178.3 304.1L178.5 304.1L178.6 304.6L178.8 304.3L179.0 304.6L179.1 304.2L179.3 304.1L179.5 304.5L179.6 304.6L179.8 303.6L180.0 304.0L180.1 304.0L180.3 303.5L180.5 303.2L180.6 303.8L180.8 304.0L181.0 304.5L181.1 304.4L181.3 304.2L181.5 303.1L181.6 303.7L181.8 305.2L182.0 304.5L182.1 305.0L182.3 304.3L182.5 304.1L182.6 303.4L182.8 304.6L183.0 304.0L183.1 304.6L183.3 304.3L183.5 303.2L183.6 303.4L183.8 303.6L183.9 303.5L184.1 304.1L184.3 304.7L184.4 303.4L184.6 304.8L184.8 303.8L184.9 304.8L185.1 303.8L185.3 304.0L185.4 304.8L185.6 304.5L185.8 304.7L185.9 304.7L186.1 303.4L186.3 304.4L186.4 304.6L186.6 303.9L186.8 304.3L186.9 304.0L187.1 304.1L187.3 304.6L187.4 303.0L187.6 303.9L187.8 304.4L187.9 304.7L188.1 304.3L188.3 302.8L188.4 303.8L188.6 303.9L188.8 303.7L188.9 304.0L189.1 304.1L189.2 303.2L189.4 304.3L189.6 303.0L189.7 302.2L189.9 301.2L190.1 299.9L190.2 298.3L190.4 294.7L190.6 291.1L190.7 287.9L190.9 284.7L191.1 282.9L191.2 284.0L191.4 287.2L191.6 291.4L191.7 295.1L191.9 297.6L192.1 299.4L192.2 301.7L192.4 302.7L192.6 302.9L192.7 302.1L192.9 302.6L193.1 303.2L193.2 303.9L193.4 303.5L193.6 304.0L193.7 303.4L193.9 304.7L194.1 303.6L194.2 304.6L194.4 304.9L194.5 304.3L194.7 303.8L194.9 304.3L195.0 303.8L195.2 303.5L195.4 303.7L195.5 302.8L195.7 305.0L195.9 303.6L196.0 304.5L196.2 303.9L196.4 304.4L196.5 304.7L196.7 303.7L196.9 303.7L197.0 303.8L197.2 304.4L197.4 304.0L197.5 305.5L197.7 304.4L197.9 304.1L198.0 303.7L198.2 304.1L198.4 303.4L198.5 303.4L198.7 304.4L198.9 303.7L199.0 303.8L199.2 301.7L199.4 299.7L199.5 300.2L199.7 299.3L199.9 298.6L200.0 300.1L200.2 298.3L200.3 300.3L200.5 301.7L200.7 302.5L200.8 302.8L201.0 302.3L201.2 303.7L201.3 304.8L201.5 303.9L201.7 303.0L201.8 303.9L202.0 304.3L202.2 304.5L202.3 303.5L202.5 304.6L202.7 305.7L202.8 304.5L203.0 304.3L203.2 303.4L203.3 304.4L203.5 304.3L203.7 303.9L203.8 303.6L204.0 304.2L204.2 304.4L204.3 303.9L204.5 304.1L204.7 304.2L204.8 303.5L205.0 303.9L205.2 303.7L205.3 303.1L205.5 304.4L205.6 303.2L205.8 304.9L206.0 302.8L206.1 303.1L206.3 303.8L206.5 303.4L206.6 304.5L206.8 304.4L207.0 303.7L207.1 301.6L207.3 302.0L207.5 300.6L207.6 299.5L207.8 297.4L208.0 293.9L208.1 291.8L208.3 289.6L208.5 289.6L208.6 289.9L208.8 292.6L209.0 295.5L209.1 297.4L209.3 299.4L209.5 300.9L209.6 301.8L209.8 302.7L210.0 302.1L210.1 303.9L210.3 304.3L210.5 303.8L210.6 304.4L210.8 304.2L210.9 304.7L211.1 304.0L211.3 303.6L211.4 303.7L211.6 304.8L211.8 303.5L211.9 303.7L212.1 303.4L212.3 304.2L212.4 302.9L212.6 304.8L212.8 303.0L212.9 303.2L213.1 303.1L213.3 304.1L213.4 303.5L213.6 303.4L213.8 303.9L213.9 302.6L214.1 302.4L214.3 303.7L214.4 302.1L214.6 302.0L214.8 302.5L214.9 301.5L215.1 301.1L215.3 300.0L215.4 298.6L215.6 295.5L215.8 288.8L215.9 276.4L216.1 257.6L216.2 232.6L216.4 208.4L216.6 198.5L216.7 208.4L216.9 231.9L217.1 258.3L217.2 276.8L217.4 288.9L217.6 295.3L217.7 296.9L217.9 299.9L218.1 300.5L218.2 302.1L218.4 302.3L218.6 302.3L218.7 302.5L218.9 303.7L219.1 303.6L219.2 303.7L219.4 303.8L219.6 304.6L219.7 303.3L219.9 303.8L220.1 303.5L220.2 304.2L220.4 303.8L220.6 303.8L220.7 303.5L220.9 304.4L221.1 303.4L221.2 304.3L221.4 304.3L221.5 305.3L221.7 303.4L221.9 304.6L222.0 304.3L222.2 304.6L222.4 305.1L222.5 304.0L222.7 304.4L222.9 304.3L223.0 304.1L223.2 304.3L223.4 304.4L223.5 303.9L223.7 304.6L223.9 303.9L224.0 305.2L224.2 305.1L224.4 304.3L224.5 304.5L224.7 303.8L224.9 303.7L225.0 304.0L225.2 304.1L225.4 303.8L225.5 304.0L225.7 304.2L225.9 304.1L226.0 304.5L226.2 304.3L226.4 303.0L226.5 305.0L226.7 303.9L226.8 304.9L227.0 303.7L227.2 303.2L227.3 303.7L227.5 303.1L227.7 303.5L227.8 304.2L228.0 304.0L228.2 303.8L228.3 303.4L228.5 304.7L228.7 303.8L228.8 304.2L229.0 304.3L229.2 303.7L229.3 304.6L229.5 303.6L229.7 302.9L229.8 304.3L230.0 303.2L230.2 304.0L230.3 304.5L230.5 305.0L230.7 303.7L230.8 304.3L231.0 304.7L231.2 303.7L231.3 304.1L231.5 304.4L231.7 303.7L231.8 304.0L232.0 304.0L232.2 303.0L232.3 302.5L232.5 303.6L232.6 302.3L232.8 301.8L233.0 300.5L233.1 299.3L233.3 297.6L233.5 296.2L233.6 297.5L233.8 298.5L234.0 298.1L234.1 300.7L234.3 302.3L234.5 302.1L234.6 302.5L234.8 303.6L235.0 304.1L235.1 304.2L235.3 304.9L235.5 303.7L235.6 304.3L235.8 303.6L236.0 304.5L236.1 303.9L236.3 303.7L236.5 304.4L236.6 304.4L236.8 304.1L237.0 304.2L237.1 303.7L237.3 305.0L237.5 304.0L237.6 304.4L237.8 304.2L237.9 304.4L238.1 305.1L238.3 305.2L238.4 303.3L238.6 303.8L238.8 304.1L238.9 303.9L239.1 303.4L239.3 304.2L239.4 304.7L239.6 304.9L239.8 303.6L239.9 304.2L240.1 304.9L240.3 303.3L240.4 303.6L240.6 303.3L240.8 302.9L240.9 301.4L241.1 298.8L241.3 298.7L241.4 298.1L241.6 296.8L241.8 297.3L241.9 298.0L242.1 300.2L242.3 301.0L242.4 301.2L242.6 302.1L242.8 302.8L242.9 303.5L243.1 303.0L243.2 304.6L243.4 304.4L243.6 303.4L243.7 304.7L243.9 303.6L244.1 304.8L244.2 303.3L244.4 304.2L244.6 304.6L244.7 303.5L244.9 303.8L245.1 305.4L245.2 304.6L245.4 304.6L245.6 304.5L245.7 303.0L245.9 303.6L246.1 304.1L246.2 305.2L246.4 304.1L246.6 304.1L246.7 303.4L246.9 304.9L247.1 303.2L247.2 303.9L247.4 305.0L247.6 305.4L247.7 304.2L247.9 304.5L248.1 304.3L248.2 304.4L248.4 305.0L248.5 303.8L248.7 304.4L248.9 304.3L249.0 304.0L249.2 305.0L249.4 304.4L249.5 304.4L249.7 304.2L249.9 304.5L250.0 304.1L250.2 303.9L250.4 303.8L250.5 303.5L250.7 304.8L250.9 304.2L251.0 304.5L251.2 304.0L251.4 304.4L251.5 303.5L251.7 303.1L251.9 302.1L252.0 301.8L252.2 299.7L252.4 297.1L252.5 294.0L252.7 291.0L252.9 289.6L253.0 288.7L253.2 289.2L253.4 291.5L253.5 293.7L253.7 296.8L253.8 298.9L254.0 300.6L254.2 300.3L254.3 302.7L254.5 302.5L254.7 299.3L254.8 299.7L255.0 297.8L255.2 294.6L255.3 293.5L255.5 292.0L255.7 291.7L255.8 292.2L256.0 293.7L256.2 295.9L256.3 298.5L256.5 299.0L256.7 302.5L256.8 303.2L257.0 303.2L257.2 304.0L257.3 303.7L257.5 303.1L257.7 303.2L257.8 302.6L258.0 304.2L258.2 305.1L258.3 303.1L258.5 303.3L258.7 304.1L258.8 304.1L259.0 303.4L259.1 303.7L259.3 302.5L259.5 304.0L259.6 302.9L259.8 303.6L260.0 304.7L260.1 303.3L260.3 305.1L260.5 304.1L260.6 303.8L260.8 304.4L261.0 302.9L261.1 304.1L261.3 303.5L261.5 303.2L261.6 303.3L261.8 303.0L262.0 304.7L262.1 302.9L262.3 303.4L262.5 302.5L262.6 303.0L262.8 302.1L263.0 300.3L263.1 297.0L263.3 292.7L263.5 286.6L263.6 276.3L263.8 264.7L264.0 247.3L264.1 227.0L264.3 205.6L264.4 185.4L264.6 166.9L264.8 155.1L264.9 151.8L265.1 155.3L265.3 168.1L265.4 184.6L265.6 205.0L265.8 227.5L265.9 246.2L266.1 263.5L266.3 277.2L266.4 286.5L266.6 292.0L266.8 297.5L266.9 299.7L267.1 302.0L267.3 303.1L267.4 302.7L267.6 302.8L267.8 303.4L267.9 303.5L268.1 303.7L268.3 303.0L268.4 303.8L268.6 303.3L268.8 304.6L268.9 303.6L269.1 304.2L269.3 303.2L269.4 303.5L269.6 303.2L269.8 303.5L269.9 303.4L270.1 303.4L270.2 304.9L270.4 304.0L270.6 303.0L270.7 304.0L270.9 302.9L271.1 302.9L271.2 304.1L271.4 304.7L271.6 303.3L271.7 304.5L271.9 303.7L272.1 304.3L272.2 303.4L272.4 303.6L272.6 302.7L272.7 303.6L272.9 303.5L273.1 302.8L273.2 303.0L273.4 303.3L273.6 300.8L273.7 299.7L273.9 297.7L274.1 295.3L274.2 292.8L274.4 289.5L274.6 290.2L274.7 290.4L274.9 291.9L275.1 294.6L275.2 296.6L275.4 299.7L275.5 300.9L275.7 302.7L275.9 302.7L276.0 302.3L276.2 304.0L276.4 303.5L276.5 304.5L276.7 304.5L276.9 303.7L277.0 303.8L277.2 304.2L277.4 302.5L277.5 304.3L277.7 303.8L277.9 304.1L278.0 303.6L278.2 305.1L278.4 304.2L278.5 305.2L278.7 303.6L278.9 304.3L279.0 303.4L279.2 304.8L279.4 304.1L279.5 304.9L279.7 304.4L279.9 304.2L280.0 304.7L280.2 303.5L280.4 303.3L280.5 304.7L280.7 303.3L280.8 303.7L281.0 304.5L281.2 305.0L281.3 303.6L281.5 304.4L281.7 305.0L281.8 304.5L282.0 304.6L282.2 304.2L282.3 304.4L282.5 303.7L282.7 304.1L282.8 305.1L283.0 304.4L283.2 303.8L283.3 303.5L283.5 305.1L283.7 304.7L283.8 304.0L284.0 305.0L284.2 304.4L284.3 305.0L284.5 304.7L284.7 303.2L284.8 304.0L285.0 303.9L285.2 304.6L285.3 304.9L285.5 304.7L285.7 304.3L285.8 303.9L286.0 304.7L286.1 304.6L286.3 304.1L286.5 304.7L286.6 303.7L286.8 304.5L287.0 305.3L287.1 304.9L287.3 303.9L287.5 303.8L287.6 303.6L287.8 305.2L288.0 304.2L288.1 304.4L288.3 304.4L288.5 304.9L288.6 304.7L288.8 304.3L289.0 304.4L289.1 303.5L289.3 302.7L289.5 303.8L289.6 303.9L289.8 302.6L290.0 302.9L290.1 300.8L290.3 301.6L290.5 298.9L290.6 297.6L290.8 294.7L291.0 291.5L291.1 288.0L291.3 288.7L291.4 289.8L291.6 291.6L291.8 295.2L291.9 296.5L292.1 298.7L292.3 302.1L292.4 303.2L292.6 303.3L292.8 303.4L292.9 302.6L293.1 303.4L293.3 302.5L293.4 303.0L293.6 304.3L293.8 304.8L293.9 304.6L294.1 302.7L294.3 304.8L294.4 303.9L294.6 303.3L294.8 304.1L294.9 304.5L295.1 304.6L295.3 303.3L295.4 304.0L295.6 304.6L295.8 303.8L295.9 304.9L296.1 303.6L296.3 305.5L296.4 304.4L296.6 304.4L296.7 304.7L296.9 304.5L297.1 304.6L297.2 305.2L297.4 305.1L297.6 304.3L297.7 303.7L297.9 305.0L298.1 303.8L298.2 304.0L298.4 304.6L298.6 304.0L298.7 305.1L298.9 304.4L299.1 304.4L299.2 304.6L299.4 304.1L299.6 304.0L299.7 304.1L299.9 304.6L300.1 303.3L300.2 304.6L300.4 303.5L300.6 304.8L300.7 305.0L300.9 303.6L301.1 303.1L301.2 303.7L301.4 303.7L301.6 303.8L301.7 303.0L301.9 302.3L302.1 300.6L302.2 299.7L302.4 297.8L302.5 296.3L302.7 294.1L302.9 293.7L303.0 294.8L303.2 296.0L303.4 297.7L303.5 299.4L303.7 301.6L303.9 302.3L304.0 302.8L304.2 304.0L304.4 303.4L304.5 303.7L304.7 304.2L304.9 304.0L305.0 304.6L305.2 304.5L305.4 304.0L305.5 303.8L305.7 304.7L305.9 304.3L306.0 303.4L306.2 304.4L306.4 304.6L306.5 303.6L306.7 303.8L306.9 304.1L307.0 304.4L307.2 303.9L307.4 304.3L307.5 303.5L307.7 304.1L307.8 304.8L308.0 303.6L308.2 304.7L308.3 303.5L308.5 303.4L308.7 301.2L308.8 300.4L309.0 299.8L309.2 298.5L309.3 297.6L309.5 296.6L309.7 296.9L309.8 297.8L310.0 299.5L310.2 300.4L310.3 301.5L310.5 302.9L310.7 303.6L310.8 303.3L311.0 304.9L311.2 304.2L311.3 303.8L311.5 303.3L311.7 304.3L311.8 304.8L312.0 304.4L312.2 305.4L312.3 304.1L312.5 304.0L312.7 304.4L312.8 304.3L313.0 304.2L313.1 304.6L313.3 305.7L313.5 304.9L313.6 303.5L313.8 303.0L314.0 304.4L314.1 303.8L314.3 304.5L314.5 304.1L314.6 305.1L314.8 305.1L315.0 304.7L315.1 304.3L315.3 304.4L315.5 304.5L315.6 303.6L315.8 303.8L316.0 304.8L316.1 305.7L316.3 305.0L316.5 305.4L316.6 304.2L316.8 304.4L317.0 303.5L317.1 303.6L317.3 304.7L317.5 304.3L317.6 304.3L317.8 304.3L318.0 303.7L318.1 304.5L318.3 305.0L318.4 305.0L318.6 303.5L318.8 304.0L318.9 305.2L319.1 304.1L319.3 304.5L319.4 303.9L319.6 304.8L319.8 303.7L319.9 304.4L320.1 302.8L320.3 304.0L320.4 303.5L320.6 304.9L320.8 305.4L320.9 304.0L321.1 303.8L321.3 303.8L321.4 304.8L321.6 303.0L321.8 304.4L321.9 304.8L322.1 303.6L322.3 305.0L322.4 304.3L322.6 304.8L322.8 303.3L322.9 304.1L323.1 303.5L323.3 304.0L323.4 304.8L323.6 304.7L323.7 303.6L323.9 304.7L324.1 304.9L324.2 305.2L324.4 304.6L324.6 304.8L324.7 303.8L324.9 305.0L325.1 304.1L325.2 304.7L325.4 303.9L325.6 303.9L325.7 305.1L325.9 303.2L326.1 304.1L326.2 304.6L326.4 304.9L326.6 304.1L326.7 304.3L326.9 304.3L327.1 304.5L327.2 304.4L327.4 303.8L327.6 304.4L327.7 303.7L327.9 304.7L328.1 303.5L328.2 304.1L328.4 303.0L328.6 304.0L328.7 303.7L328.9 304.4L329.0 303.4L329.2 304.5L329.4 301.4L329.5 300.9L329.7 298.7L329.9 297.4L330.0 295.4L330.2 294.7L330.4 294.9L330.5 295.1L330.7 296.3L330.9 298.0L331.0 299.9L331.2 301.8L331.4 302.1L331.5 303.7L331.7 303.6L331.9 302.4L332.0 303.1L332.2 302.5L332.4 303.2L332.5 302.2L332.7 302.2L332.9 301.2L333.0 298.8L333.2 296.7L333.4 293.6L333.5 289.5L333.7 286.3L333.9 282.0L334.0 281.8L334.2 282.7L334.4 286.5L334.5 290.3L334.7 294.5L334.8 297.3L335.0 299.0L335.2 301.4L335.3 302.1L335.5 303.0L335.7 303.1L335.8 303.4L336.0 303.8L336.2 303.2L336.3 302.9L336.5 304.7L336.7 303.5L336.8 302.5L337.0 304.2L337.2 303.5L337.3 304.0L337.5 304.1L337.7 304.8L337.8 304.5L338.0 304.5L338.2 304.6L338.3 304.0L338.5 304.0L338.7 303.8L338.8 305.0L339.0 304.7L339.2 304.6L339.3 303.1L339.5 304.0L339.7 304.1L339.8 304.2L340.0 304.5L340.1 303.6L340.3 304.3L340.5 304.4L340.6 303.4L340.8 302.5L341.0 301.9L341.1 300.9L341.3 298.3L341.5 297.2L341.6 297.5L341.8 298.2L342.0 299.4L342.1 299.4L342.3 301.0L342.5 302.1L342.6 302.8L342.8 302.6L343.0 302.5L343.1 303.8L343.3 304.1L343.5 304.4L343.6 303.2L343.8 304.3L344.0 303.7L344.1 304.6L344.3 304.0L344.5 303.3L344.6 303.6L344.8 303.9L345.0 303.4L345.1 303.0L345.3 302.4L345.4 301.4L345.6 301.5L345.8 299.1L345.9 295.8L346.1 288.5L346.3 278.3L346.4 266.3L346.6 258.6L346.8 258.7L346.9 266.3L347.1 277.9L347.3 287.9L347.4 294.5L347.6 298.0L347.8 301.2L347.9 303.3L348.1 302.2L348.3 302.3L348.4 303.0L348.6 303.4L348.8 304.1L348.9 303.5L349.1 303.6L349.3 304.4L349.4 303.5L349.6 303.3L349.8 303.2L349.9 303.3L350.1 304.1L350.3 304.4L350.4 305.2L350.6 304.7L350.7 305.0L350.9 303.9L351.1 304.2L351.2 304.4L351.4 303.6L351.6 303.7L351.7 305.1L351.9 304.6L352.1 304.1L352.2 304.3L352.4 304.2L352.6 304.0L352.7 304.5L352.9 304.9L353.1 303.8L353.2 304.4L353.4 303.5L353.6 303.6L353.7 304.1L353.9 304.5L354.1 302.9L354.2 303.3L354.4 302.6L354.6 303.7L354.7 302.4L354.9 300.6L355.1 299.6L355.2 299.6L355.4 298.1L355.6 298.4L355.7 297.9L355.9 299.2L356.0 301.7L356.2 302.0L356.4 302.3L356.5 303.8L356.7 303.0L356.9 303.4L357.0 304.5L357.2 304.2L357.4 304.0L357.5 304.4L357.7 304.4L357.9 304.9L358.0 303.8L358.2 305.2L358.4 304.0L358.5 303.5L358.7 303.7L358.9 304.8L359.0 304.6L359.2 303.7L359.4 305.4L359.5 303.4L359.7 304.3L359.9 305.2L360.0 305.1L360.2 304.6L360.4 303.8L360.5 304.5L360.7 304.8L360.9 304.2L361.0 305.0L361.2 304.2L361.3 304.2L361.5 304.6L361.7 305.0L361.8 304.4L362.0 304.0L362.2 303.8L362.3 305.6L362.5 304.8L362.7 303.6L362.8 304.9L363.0 304.6L363.2 306.0L363.3 304.3L363.5 304.9L363.7 304.1L363.8 304.6L364.0 304.6L364.2 304.2L364.3 304.1L364.5 304.7L364.7 304.2L364.8 303.4L365.0 304.5L365.2 305.3L365.3 303.8L365.5 304.3L365.7 305.0L365.8 303.9L366.0 303.6L366.2 303.8L366.3 304.8L366.5 303.9L366.6 305.0L366.8 304.5L367.0 304.1L367.1 304.8L367.3 304.4L367.5 304.2L367.6 304.6L367.8 304.0L368.0 303.3L368.1 304.3L368.3 304.2L368.5 303.6L368.6 302.8L368.8 304.1L369.0 303.4L369.1 303.3L369.3 303.5L369.5 303.3L369.6 301.2L369.8 299.6L370.0 299.3L370.1 294.0L370.3 286.6L370.5 277.5L370.6 268.2L370.8 265.2L371.0 268.6L371.1 277.1L371.3 287.0L371.5 294.0L371.6 297.9L371.8 300.6L372.0 302.0L372.1 303.1L372.3 303.1L372.4 303.4L372.6 303.7L372.8 303.6L372.9 304.0L373.1 303.7L373.3 304.3L373.4 304.8L373.6 304.3L373.8 304.2L373.9 304.4L374.1 304.4L374.3 303.9L374.4 304.1L374.6 303.6L374.8 304.2L374.9 304.1L375.1 303.3L375.3 303.1L375.4 303.1L375.6 302.9L375.8 303.4L375.9 302.6L376.1 303.3L376.3 302.4L376.4 303.0L376.6 301.3L376.8 297.9L376.9 295.3L377.1 292.3L377.3 289.4L377.4 285.7L377.6 282.7L377.7 282.9L377.9 285.6L378.1 288.3L378.2 292.3L378.4 294.7L378.6 299.1L378.7 300.2L378.9 301.3L379.1 303.2L379.2 302.8L379.4 303.8L379.6 303.9L379.7 303.3L379.9 303.4L380.1 304.0L380.2 304.3L380.4 305.2L380.6 304.8L380.7 304.6L380.9 304.8L381.1 304.2L381.2 303.5L381.4 304.7L381.6 303.0L381.7 304.1L381.9 303.7L382.1 305.2L382.2 303.9L382.4 303.6L382.6 304.0L382.7 303.7L382.9 304.4L383.0 304.7L383.2 304.9L383.4 304.8L383.5 304.0L383.7 304.3L383.9 304.8L384.0 304.6L384.2 304.0L384.4 305.2L384.5 304.3L384.7 304.2L384.9 304.6L385.0 304.9L385.2 305.7L385.4 304.3L385.5 303.7L385.7 304.2L385.9 304.7L386.0 304.3L386.2 304.5L386.4 304.6L386.5 304.4L386.7 304.6L386.9 304.8L387.0 304.8L387.2 304.8L387.4 304.2L387.5 304.6L387.7 304.2L387.9 304.1L388.0 304.1L388.2 303.9L388.3 304.4L388.5 304.3L388.7 303.8L388.8 304.4L389.0 303.6L389.2 303.8L389.3 304.3L389.5 304.8L389.7 303.6L389.8 304.2L390.0 303.5L390.2 303.7L390.3 304.3L390.5 304.1L390.7 303.9L390.8 305.0L391.0 304.0L391.2 304.8L391.3 304.8L391.5 303.9L391.7 303.7L391.8 304.2L392.0 304.8L392.2 304.8L392.3 305.5L392.5 304.5L392.7 303.7L392.8 305.3L393.0 304.2L393.2 305.0L393.3 303.8L393.5 305.0L393.6 304.4L393.8 303.3L394.0 304.3L394.1 303.7L394.3 303.8L394.5 303.2L394.6 301.5L394.8 301.4L395.0 298.5L395.1 293.8L395.3 288.3L395.5 280.2L395.6 276.2L395.8 275.3L396.0 280.3L396.1 288.0L396.3 295.5L396.5 297.7L396.6 301.3L396.8 302.6L397.0 302.8L397.1 302.7L397.3 303.9L397.5 303.1L397.6 303.5L397.8 304.4L398.0 303.6L398.1 304.2L398.3 304.1L398.5 305.5L398.6 304.5L398.8 304.5L398.9 304.2L399.1 303.8L399.3 304.3L399.4 303.6L399.6 304.6L399.8 305.1L399.9 304.4L400.1 304.6L400.3 304.5L400.4 303.8L400.6 304.1L400.8 302.8L400.9 304.1L401.1 303.8L401.3 304.1L401.4 303.1L401.6 304.2L401.8 304.5L401.9 304.5L402.1 304.7L402.3 304.7L402.4 304.5L402.6 304.6L402.8 304.2L402.9 303.9L403.1 304.3L403.3 303.4L403.4 303.8L403.6 304.3L403.8 303.9L403.9 304.6L404.1 304.6L404.3 304.3L404.4 303.8L404.6 305.0L404.7 305.1L404.9 304.0L405.1 303.4L405.2 304.0L405.4 304.4L405.6 304.4L405.7 303.7L405.9 304.8L406.1 304.6L406.2 304.8L406.4 304.1L406.6 304.4L406.7 305.8L406.9 305.4L407.1 304.7L407.2 304.4L407.4 305.0L407.6 304.2L407.7 304.0L407.9 304.3L408.1 304.5L408.2 304.8L408.4 304.0L408.6 305.1L408.7 303.6L408.9 304.7L409.1 305.0L409.2 304.7L409.4 304.7L409.6 304.2L409.7 304.5L409.9 304.4L410.0 305.0L410.2 303.7L410.4 303.8L410.5 304.8L410.7 304.2L410.9 305.1L411.0 304.5L411.2 303.6L411.4 303.3L411.5 305.4L411.7 304.1L411.9 304.2L412.0 303.7L412.2 304.6L412.4 304.5L412.5 304.3L412.7 304.2L412.9 303.9L413.0 303.6L413.2 304.4L413.4 304.6L413.5 304.4L413.7 303.7L413.9 305.3L414.0 302.9L414.2 304.9L414.4 303.7L414.5 305.2L414.7 304.4L414.9 303.8L415.0 304.4L415.2 304.4L415.3 303.7L415.5 303.7L415.7 304.3L415.8 304.8L416.0 303.5L416.2 304.4L416.3 303.7L416.5 303.7L416.7 303.9L416.8 303.4L417.0 303.8L417.2 305.2L417.3 303.9L417.5 303.9L417.7 303.9L417.8 303.5L418.0 303.7L418.2 304.9L418.3 303.0L418.5 303.7L418.7 304.5L418.8 303.1L419.0 301.7L419.2 302.8L419.3 299.4L419.5 297.9L419.7 294.8L419.8 292.0L420.0 287.2L420.2 284.1L420.3 283.8L420.5 285.0L420.6 287.7L420.8 291.4L421.0 295.1L421.1 297.1L421.3 299.5L421.5 300.0L421.6 302.3L421.8 301.5L422.0 302.3L422.1 301.5L422.3 301.0L422.5 298.3L422.6 296.2L422.8 293.4L423.0 288.2L423.1 285.6L423.3 284.1L423.5 282.8L423.6 285.4L423.8 288.6L424.0 293.5L424.1 296.3L424.3 297.5L424.5 301.4L424.6 302.6L424.8 303.4L425.0 302.7L425.1 303.3L425.3 303.9L425.5 303.3L425.6 303.7L425.8 303.8L425.9 302.7L426.1 303.5L426.3 304.1L426.4 304.4L426.6 303.7L426.8 304.0L426.9 304.5L427.1 304.4L427.3 305.5L427.4 304.1L427.6 304.0L427.8 303.6L427.9 305.0L428.1 303.4L428.3 303.0L428.4 303.9L428.6 303.9L428.8 305.6L428.9 305.0L429.1 304.7L429.3 305.0L429.4 303.7L429.6 305.1L429.8 305.3L429.9 304.7L430.1 304.3L430.3 304.7L430.4 303.3L430.6 303.4L430.8 304.2L430.9 304.8L431.1 303.9L431.2 304.0L431.4 305.0L431.6 304.9L431.7 305.0L431.9 304.8L432.1 304.9L432.2 303.8L432.4 305.1L432.6 304.5L432.7 303.7L432.9 304.0L433.1 305.0L433.2 303.7L433.4 303.8L433.6 304.9L433.7 302.8L433.9 303.7L434.1 304.1L434.2 304.1L434.4 304.1L434.6 304.1L434.7 303.7L434.9 304.7L435.1 303.6L435.2 304.2L435.4 304.7L435.6 305.5L435.7 305.3L435.9 303.4L436.1 305.0L436.2 305.2L436.4 304.1L436.5 304.8L436.7 305.2L436.9 304.9L437.0 304.0L437.2 304.7L437.4 306.1L437.5 304.6L437.7 304.7L437.9 305.5L438.0 304.7L438.2 303.6L438.4 304.3L438.5 304.4L438.7 303.4L438.9 305.0L439.0 304.5L439.2 304.5L439.4 303.8L439.5 303.7L439.7 305.0L439.9 304.8L440.0 304.1L440.2 305.1L440.4 304.4L440.5 305.0L440.7 303.9L440.9 304.2L441.0 305.0L441.2 304.6L441.4 304.4L441.5 304.3L441.7 302.8L441.9 303.4L442.0 303.3L442.2 304.5L442.3 304.6L442.5 304.3L442.7 305.0L442.8 304.8L443.0 304.3L443.2 305.1L443.3 303.7L443.5 303.8L443.7 304.2L443.8 303.6L444.0 303.6L444.2 304.1L444.3 305.4L444.5 305.0L444.7 303.9L444.8 304.0L445.0 304.9L445.2 304.3L445.3 304.1L445.5 305.2L445.7 304.7L445.8 304.4L446.0 305.2L446.2 304.1L446.3 303.8L446.5 305.5L446.7 304.5L446.8 304.0L447.0 304.6L447.2 305.0L447.3 303.2L447.5 304.2L447.6 304.0L447.8 305.0L448.0 304.4L448.1 303.6L448.3 305.0L448.5 304.7L448.6 303.6L448.8 304.2L449.0 305.0L449.1 304.5L449.3 304.9L449.5 304.4L449.6 304.8L449.8 304.1L450.0 304.6L450.1 304.8L450.3 304.3L450.5 304.7L450.6 304.7L450.8 305.3L451.0 304.5L451.1 304.1L451.3 305.0L451.5 303.2L451.6 304.4L451.8 304.3L452.0 304.4L452.1 304.1L452.3 304.4L452.5 304.2L452.6 303.7L452.8 304.3L452.9 304.8L453.1 304.0L453.3 304.8L453.4 306.0L453.6 304.9L453.8 304.0L453.9 304.4L454.1 304.4L454.3 304.0L454.4 304.3L454.6 304.3L454.8 303.9L454.9 304.6L455.1 304.6L455.3 303.8L455.4 305.1L455.6 304.2L455.8 303.4L455.9 303.0L456.1 303.5L456.3 304.0L456.4 302.9L456.6 304.3L456.8 303.2L456.9 303.8L457.1 303.2L457.3 303.3L457.4 304.0L457.6 303.3L457.8 302.7L457.9 302.8L458.1 301.0L458.2 300.7L458.4 300.1L458.6 297.7L458.7 293.8L458.9 284.3L459.1 269.7L459.2 251.6L459.4 234.5L459.6 227.6L459.7 235.4L459.9 252.4L460.1 269.5L460.2 283.6L460.4 293.1L460.6 298.7L460.7 299.8L460.9 301.5L461.1 301.4L461.2 302.0L461.4 302.9L461.6 303.1L461.7 304.0L461.9 302.4L462.1 303.0L462.2 302.7L462.4 303.5L462.6 303.6L462.7 304.0L462.9 303.9L463.1 303.5L463.2 304.5L463.4 303.2L463.5 303.7L463.7 305.0L463.9 304.1L464.0 303.8L464.2 304.0L464.4 303.7L464.5 304.4L464.7 303.6L464.9 304.8L465.0 304.0L465.2 303.5L465.4 304.1L465.5 304.2L465.7 305.0L465.9 304.6L466.0 304.8L466.2 304.3L466.4 305.7L466.5 304.7L466.7 304.5L466.9 303.7L467.0 304.8L467.2 304.9L467.4 305.5L467.5 303.0L467.7 303.3L467.9 304.4L468.0 303.3L468.2 304.3L468.4 303.7L468.5 304.0L468.7 304.3L468.8 303.9L469.0 304.4L469.2 304.7L469.3 303.8L469.5 304.7L469.7 304.2L469.8 304.0L470.0 304.6L470.2 303.6L470.3 304.2L470.5 304.5L470.7 304.4L470.8 305.7L471.0 305.0L471.2 303.6L471.3 304.4L471.5 303.1L471.7 304.1L471.8 303.3L472.0 303.1L472.2 305.0L472.3 304.5L472.5 304.8L472.7 304.2L472.8 304.4L473.0 304.5L473.2 304.4L473.3 303.8L473.5 304.2L473.7 304.1L473.8 304.0L474.0 303.9L474.2 304.5L474.3 303.5L474.5 304.9L474.6 305.0L474.8 303.4L475.0 304.8L475.1 304.2L475.3 303.6L475.5 304.1L475.6 304.7L475.8 304.2L476.0 303.6L476.1 304.9L476.3 304.9L476.5 303.9L476.6 304.4L476.8 304.6L477.0 303.8L477.1 304.0L477.3 304.2L477.5 305.2L477.6 303.5L477.8 304.8L478.0 304.0L478.1 304.5L478.3 305.1L478.5 304.8L478.6 304.2L478.8 305.2L479.0 304.1L479.1 305.1L479.3 303.9L479.5 304.9L479.6 304.2L479.8 304.4L479.9 304.2L480.1 304.4L480.3 304.4L480.4 304.7L480.6 303.6L480.8 304.2L480.9 304.0L481.1 304.5L481.3 304.1L481.4 304.3L481.6 305.1L481.8 304.5L481.9 304.7L482.1 304.7L482.3 304.5L482.4 304.5L482.6 303.9L482.8 304.7L482.9 304.0L483.1 303.9L483.3 304.5L483.4 304.5L483.6 303.9L483.8 304.3L483.9 303.8L484.1 303.2L484.3 302.8L484.4 301.8L484.6 301.4L484.8 298.9L484.9 300.1L485.1 299.3L485.2 298.6L485.4 300.1L485.6 301.5L485.7 301.7L485.9 302.5L486.1 302.9L486.2 302.3L486.4 303.5L486.6 304.1L486.7 303.9L486.9 304.2L487.1 304.0L487.2 304.2L487.4 303.6L487.6 304.0L487.7 303.9L487.9 304.6L488.1 303.3L488.2 304.7L488.4 303.9L488.6 304.9L488.7 304.5L488.9 304.6L489.1 304.7L489.2 304.0L489.4 304.9L489.6 303.9L489.7 304.3L489.9 304.6L490.1 305.1L490.2 304.2L490.4 304.9L490.5 304.5L490.7 304.4L490.9 304.6L491.0 303.9L491.2 304.1L491.4 304.3L491.5 304.5L491.7 304.5L491.9 303.6L492.0 303.3L492.2 304.6L492.4 304.9L492.5 304.3L492.7 303.7L492.9 304.2L493.0 304.0L493.2 304.0L493.4 303.1L493.5 304.0L493.7 303.2L493.9 304.0L494.0 304.0L494.2 305.8L494.4 304.7L494.5 303.0L494.7 304.5L494.9 304.2L495.0 304.7L495.2 305.0L495.4 304.4L495.5 303.9L495.7 303.7L495.8 304.0L496.0 304.1L496.2 304.4L496.3 303.0L496.5 303.2L496.7 304.1L496.8 303.1L497.0 302.8L497.2 301.8L497.3 301.2L497.5 299.8L497.7 297.1L497.8 294.6L498.0 290.4L498.2 288.7L498.3 283.2L498.5 283.8L498.7 284.2L498.8 287.3L499.0 291.1L499.2 293.6L499.3 296.2L499.5 298.8L499.7 300.2L499.8 300.4L500.0 299.2L500.2 297.7L500.3 296.7L500.5 294.3L500.7 293.3L500.8 292.3L501.0 293.8L501.1 293.8L501.3 295.7L501.5 296.7L501.6 298.1L501.8 298.1L502.0 297.2L502.1 296.3L502.3 296.1L502.5 295.3L502.6 295.2L502.8 296.0L503.0 299.1L503.1 299.9L503.3 301.4L503.5 302.4L503.6 303.5L503.8 303.3L504.0 303.4L504.1 304.5L504.3 302.9L504.5 303.4L504.6 303.0L504.8 304.5L505.0 302.1L505.1 301.2L505.3 301.7L505.5 300.2L505.6 299.3L505.8 298.9L506.0 299.3L506.1 299.9L506.3 301.0L506.4 301.2L506.6 302.5L506.8 303.3L506.9 303.0L507.1 303.5L507.3 304.4L507.4 304.4L507.6 303.3L507.8 303.9L507.9 304.8L508.1 304.1L508.3 304.5L508.4 304.8L508.6 304.0L508.8 304.8L508.9 303.4L509.1 305.5L509.3 304.6L509.4 304.3L509.6 304.1L509.8 303.8L509.9 303.5L510.1 303.9L510.3 304.5L510.4 304.7L510.6 303.7L510.8 305.4L510.9 304.3L511.1 304.3L511.3 303.8L511.4 304.0L511.6 304.3L511.8 304.5L511.9 304.9L512.1 304.8L512.2 304.5L512.4 304.2L512.6 304.1L512.7 304.5L512.9 304.2L513.1 303.9L513.2 304.8L513.4 304.0L513.6 305.7L513.7 303.9L513.9 304.4L514.1 305.1L514.2 304.4L514.4 304.5L514.6 305.0L514.7 304.1L514.9 304.3L515.1 303.8L515.2 305.2L515.4 303.7L515.6 304.9L515.7 303.9L515.9 304.4L516.1 303.3L516.2 303.7L516.4 304.1L516.6 303.7L516.7 305.0L516.9 303.6L517.1 304.6L517.2 305.3L517.4 304.1L517.5 304.7L517.7 304.4L517.9 304.5L518.0 303.7L518.2 305.0L518.4 303.5L518.5 303.8L518.7 305.3L518.9 304.9L519.0 304.7L519.2 304.5L519.4 304.7L519.5 304.9L519.7 304.9L519.9 304.9L520.0 304.3L520.2 304.1L520.4 304.2L520.5 304.3L520.7 303.4L520.9 305.0L521.0 304.0L521.2 303.5L521.4 304.2L521.5 304.9L521.7 304.2L521.9 304.7L522.0 305.0L522.2 305.0L522.4 304.6L522.5 305.3L522.7 303.3L522.8 304.1L523.0 304.6L523.2 304.1L523.3 303.4L523.5 303.9L523.7 305.0L523.8 304.9L524.0 304.5L524.2 303.2L524.3 303.3L524.5 303.9L524.7 304.8L524.8 304.4L525.0 304.5L525.2 304.1L525.3 304.7L525.5 304.4L525.7 305.5L525.8 305.2L526.0 303.8L526.2 305.0L526.3 305.1L526.5 305.0L526.7 304.2L526.8 305.2L527.0 305.4L527.2 303.3L527.3 303.5L527.5 304.1L527.7 303.4L527.8 304.3L528.0 303.1L528.1 304.7L528.3 304.2L528.5 304.1L528.6 304.0L528.8 303.3L529.0 304.6L529.1 305.0L529.3 304.5L529.5 303.9L529.6 305.3L529.8 304.5L530.0 305.4L530.1 303.6L530.3 305.0L530.5 304.4L530.6 304.0L530.8 303.6L531.0 304.5L531.1 303.6L531.3 303.7L531.5 305.2L531.6 304.1L531.8 304.5L532.0 304.5L532.1 304.0L532.3 304.5L532.5 304.1L532.6 305.3L532.8 303.9L533.0 304.8L533.1 304.0L533.3 304.7L533.4 304.8L533.6 303.9L533.8 304.3L533.9 303.4L534.1 304.6L534.3 304.8L534.4 304.4L534.6 304.5L534.8 303.9L534.9 304.2L535.1 302.8L535.3 304.1L535.4 304.0L535.6 304.0L535.8 304.4L535.9 303.9L536.1 304.1L536.3 303.7L536.4 303.9L536.6 304.1L536.8 305.2L536.9 304.0L537.1 304.0L537.3 303.9L537.4 304.8L537.6 304.1L537.8 304.0L537.9 304.1L538.1 304.2L538.3 305.4L538.4 303.8L538.6 304.7L538.7 303.8L538.9 303.3L539.1 303.6L539.2 304.2L539.4 302.2L539.6 303.5L539.7 303.5L539.9 301.4L540.1 299.8L540.2 297.8L540.4 291.3L540.6 282.6L540.7 271.3L540.9 262.0L541.1 257.6" stroke="#e8383d"/><path d="M69.3 259.8L69.5 261.2L69.7 259.1L69.8 260.1L70.0 260.5L70.2 260.6L70.3 260.6L70.5 258.5L70.7 258.6L70.8 258.7L71.0 260.0L71.1 259.7L71.3 260.3L71.5 260.1L71.6 259.8L71.8 258.5L72.0 258.5L72.1 261.5L72.3 259.8L72.5 259.3L72.6 261.0L72.8 259.4L73.0 258.8L73.1 260.0L73.3 258.4L73.5 259.4L73.6 261.9L73.8 257.3L74.0 261.9L74.1 258.1L74.3 260.1L74.5 259.4L74.6 260.2L74.8 260.8L75.0 261.2L75.1 260.4L75.3 259.9L75.5 260.9L75.6 259.9L75.8 259.5L76.0 261.8L76.1 258.7L76.3 259.9L76.4 259.7L76.6 260.3L76.8 260.4L76.9 261.4L77.1 260.9L77.3 260.5L77.4 259.4L77.6 259.2L77.8 259.1L77.9 260.8L78.1 259.7L78.3 260.5L78.4 260.7L78.6 259.7L78.8 259.9L78.9 261.2L79.1 259.6L79.3 259.4L79.4 259.0L79.6 259.0L79.8 258.0L79.9 258.6L80.1 257.8L80.3 259.1L80.4 259.3L80.6 258.9L80.8 260.6L80.9 260.0L81.1 259.9L81.3 260.0L81.4 260.2L81.6 260.4L81.7 260.3L81.9 259.9L82.1 260.5L82.2 260.0L82.4 259.6L82.6 260.3L82.7 258.9L82.9 259.6L83.1 260.1L83.2 260.4L83.4 260.6L83.6 259.7L83.7 258.9L83.9 259.9L84.1 259.1L84.2 259.5L84.4 259.9L84.6 262.1L84.7 260.3L84.9 258.4L85.1 260.2L85.2 259.8L85.4 258.0L85.6 258.9L85.7 259.4L85.9 258.5L86.1 257.5L86.2 259.2L86.4 257.0L86.6 257.3L86.7 256.6L86.9 257.8L87.0 258.4L87.2 256.8L87.4 259.6L87.5 259.1L87.7 261.2L87.9 259.3L88.0 260.4L88.2 260.8L88.4 261.2L88.5 259.9L88.7 260.0L88.9 260.1L89.0 260.0L89.2 259.3L89.4 259.7L89.5 259.8L89.7 259.5L89.9 260.9L90.0 259.6L90.2 259.4L90.4 260.5L90.5 258.9L90.7 259.3L90.9 260.7L91.0 260.3L91.2 260.1L91.4 260.1L91.5 260.2L91.7 259.1L91.9 259.1L92.0 260.2L92.2 258.7L92.3 260.0L92.5 258.2L92.7 259.3L92.8 258.7L93.0 260.2L93.2 260.4L93.3 258.7L93.5 260.6L93.7 260.7L93.8 259.9L94.0 258.4L94.2 259.6L94.3 259.4L94.5 258.7L94.7 258.1L94.8 258.1L95.0 257.4L95.2 257.3L95.3 255.6L95.5 253.0L95.7 248.2L95.8 246.1L96.0 242.2L96.2 242.0L96.3 241.6L96.5 244.4L96.7 248.1L96.8 252.0L97.0 255.2L97.2 255.6L97.3 257.9L97.5 259.3L97.7 259.0L97.8 259.1L98.0 258.9L98.1 258.9L98.3 258.7L98.5 259.3L98.6 259.4L98.8 260.1L99.0 259.3L99.1 259.5L99.3 260.1L99.5 259.5L99.6 260.4L99.8 259.2L100.0 260.9L100.1 258.9L100.3 259.0L100.5 258.7L100.6 259.6L100.8 258.9L101.0 261.1L101.1 258.8L101.3 260.0L101.5 260.0L101.6 259.1L101.8 260.3L102.0 259.5L102.1 259.0L102.3 259.9L102.5 259.2L102.6 258.0L102.8 259.6L103.0 260.3L103.1 260.3L103.3 258.9L103.4 259.6L103.6 259.9L103.8 260.5L103.9 260.2L104.1 258.5L104.3 259.1L104.4 258.8L104.6 260.0L104.8 260.2L104.9 259.2L105.1 259.2L105.3 260.8L105.4 260.2L105.6 259.3L105.8 259.6L105.9 258.7L106.1 258.8L106.3 258.9L106.4 260.4L106.6 259.0L106.8 259.1L106.9 259.7L107.1 259.3L107.3 259.4L107.4 260.1L107.6 260.3L107.8 259.6L107.9 259.5L108.1 258.9L108.3 258.9L108.4 258.9L108.6 259.8L108.7 259.5L108.9 258.5L109.1 259.5L109.2 259.5L109.4 259.0L109.6 259.1L109.7 258.9L109.9 259.8L110.1 258.1L110.2 259.7L110.4 259.3L110.6 259.2L110.7 258.9L110.9 259.2L111.1 259.0L111.2 257.4L111.4 258.0L111.6 258.4L111.7 258.2L111.9 257.8L112.1 258.1L112.2 256.0L112.4 256.2L112.6 256.5L112.7 256.1L112.9 255.1L113.1 254.0L113.2 254.1L113.4 253.5L113.6 252.6L113.7 252.4L113.9 252.4L114.0 250.8L114.2 250.1L114.4 250.0L114.5 248.6L114.7 248.3L114.9 247.1L115.0 245.2L115.2 245.8L115.4 245.3L115.5 244.3L115.7 244.8L115.9 242.6L116.0 242.7L116.2 239.1L116.4 237.0L116.5 231.0L116.7 223.4L116.9 210.4L117.0 192.3L117.2 170.9L117.4 149.7L117.5 133.1L117.7 127.0L117.9 134.8L118.0 151.8L118.2 175.3L118.4 197.9L118.5 215.9L118.7 229.6L118.9 239.6L119.0 245.2L119.2 249.5L119.3 251.9L119.5 253.6L119.7 254.0L119.8 255.0L120.0 255.0L120.2 256.9L120.3 256.7L120.5 257.0L120.7 256.7L120.8 256.9L121.0 257.9L121.2 257.5L121.3 258.3L121.5 257.9L121.7 258.6L121.8 257.5L122.0 258.0L122.2 257.0L122.3 258.7L122.5 258.5L122.7 259.9L122.8 259.0L123.0 259.8L123.2 259.2L123.3 259.1L123.5 259.1L123.7 259.2L123.8 259.3L124.0 259.5L124.2 259.7L124.3 259.7L124.5 259.3L124.6 259.9L124.8 258.6L125.0 259.2L125.1 259.6L125.3 259.5L125.5 259.8L125.6 259.3L125.8 258.7L126.0 259.4L126.1 259.5L126.3 259.2L126.5 259.5L126.6 259.1L126.8 258.6L127.0 260.1L127.1 258.9L127.3 260.4L127.5 259.5L127.6 259.0L127.8 259.6L128.0 259.4L128.1 259.9L128.3 259.3L128.5 259.9L128.6 259.7L128.8 260.5L129.0 258.9L129.1 258.8L129.3 260.0L129.5 259.6L129.6 260.8L129.8 260.1L130.0 260.0L130.1 260.2L130.3 259.3L130.4 259.4L130.6 259.2L130.8 260.0L130.9 260.3L131.1 258.8L131.3 259.2L131.4 259.2L131.6 259.0L131.8 260.2L131.9 259.7L132.1 259.2L132.3 260.1L132.4 260.1L132.6 259.3L132.8 259.6L132.9 260.7L133.1 259.7L133.3 258.8L133.4 258.8L133.6 261.1L133.8 259.3L133.9 260.1L134.1 259.4L134.3 259.2L134.4 260.7L134.6 259.6L134.8 259.4L134.9 260.4L135.1 259.9L135.3 259.4L135.4 260.3L135.6 260.0L135.7 259.7L135.9 260.4L136.1 260.8L136.2 260.7L136.4 259.3L136.6 259.5L136.7 260.3L136.9 258.9L137.1 260.5L137.2 260.3L137.4 258.9L137.6 259.5L137.7 259.6L137.9 259.0L138.1 259.4L138.2 260.1L138.4 259.2L138.6 259.6L138.7 259.3L138.9 258.9L139.1 259.9L139.2 259.8L139.4 260.1L139.6 258.9L139.7 259.8L139.9 259.3L140.1 259.2L140.2 259.8L140.4 260.1L140.6 258.6L140.7 259.4L140.9 259.7L141.0 259.9L141.2 260.1L141.4 259.5L141.5 259.7L141.7 258.8L141.9 259.7L142.0 260.0L142.2 258.7L142.4 259.1L142.5 259.8L142.7 258.4L142.9 258.8L143.0 259.9L143.2 259.6L143.4 257.4L143.5 258.1L143.7 258.1L143.9 257.8L144.0 257.1L144.2 257.8L144.4 258.5L144.5 257.5L144.7 256.7L144.9 256.0L145.0 257.0L145.2 257.3L145.4 255.3L145.5 255.1L145.7 255.5L145.9 254.6L146.0 253.9L146.2 252.8L146.3 252.9L146.5 252.3L146.7 252.0L146.8 251.1L147.0 249.1L147.2 245.6L147.3 240.0L147.5 229.6L147.7 215.0L147.8 196.0L148.0 183.1L148.2 184.2L148.3 197.2L148.5 215.5L148.7 230.7L148.8 241.6L149.0 248.9L149.2 251.6L149.3 253.8L149.5 253.9L149.7 256.4L149.8 258.3L150.0 255.8L150.2 256.3L150.3 258.7L150.5 257.6L150.7 258.3L150.8 258.4L151.0 257.8L151.2 258.2L151.3 258.8L151.5 258.1L151.6 258.0L151.8 259.8L152.0 258.7L152.1 259.6L152.3 259.4L152.5 259.2L152.6 259.4L152.8 260.0L153.0 257.8L153.1 259.5L153.3 259.2L153.5 259.8L153.6 260.1L153.8 259.1L154.0 260.0L154.1 261.1L154.3 259.7L154.5 259.1L154.6 260.8L154.8 258.6L155.0 259.7L155.1 259.3L155.3 261.0L155.5 258.9L155.6 259.5L155.8 258.7L156.0 259.9L156.1 260.0L156.3 259.2L156.5 258.5L156.6 260.6L156.8 258.6L156.9 259.7L157.1 259.5L157.3 259.3L157.4 259.4L157.6 260.3L157.8 259.3L157.9 259.5L158.1 259.3L158.3 259.5L158.4 259.8L158.6 260.2L158.8 259.1L158.9 259.8L159.1 260.4L159.3 259.2L159.4 260.2L159.6 259.7L159.8 259.9L159.9 260.2L160.1 259.8L160.3 259.5L160.4 259.8L160.6 259.4L160.8 259.3L160.9 259.9L161.1 259.9L161.3 260.1L161.4 260.5L161.6 260.5L161.8 259.9L161.9 259.8L162.1 260.5L162.3 259.2L162.4 258.7L162.6 259.2L162.7 260.2L162.9 260.5L163.1 258.9L163.2 259.6L163.4 258.8L163.6 259.9L163.7 260.7L163.9 259.6L164.1 259.2L164.2 261.0L164.4 259.7L164.6 259.8L164.7 260.2L164.9 258.9L165.1 259.2L165.2 260.3L165.4 260.4L165.6 260.6L165.7 260.1L165.9 259.4L166.1 260.4L166.2 260.2L166.4 259.9L166.6 259.6L166.7 259.9L166.9 260.4L167.1 259.5L167.2 260.0L167.4 259.6L167.6 259.5L167.7 259.3L167.9 259.4L168.0 259.4L168.2 260.4L168.4 259.9L168.5 260.2L168.7 259.0L168.9 260.2L169.0 259.9L169.2 259.8L169.4 258.8L169.5 261.1L169.7 259.9L169.9 259.4L170.0 260.6L170.2 260.3L170.4 258.8L170.5 259.6L170.7 258.8L170.9 259.1L171.0 259.8L171.2 259.4L171.4 260.7L171.5 259.6L171.7 259.5L171.9 259.5L172.0 259.8L172.2 259.4L172.4 259.9L172.5 260.6L172.7 260.3L172.9 260.5L173.0 259.9L173.2 260.3L173.3 259.4L173.5 259.8L173.7 259.9L173.8 260.2L174.0 258.9L174.2 259.6L174.3 259.6L174.5 259.9L174.7 260.4L174.8 259.8L175.0 259.8L175.2 259.8L175.3 259.1L175.5 259.4L175.7 261.0L175.8 260.1L176.0 260.7L176.2 260.2L176.3 258.3L176.5 260.4L176.7 260.1L176.8 260.6L177.0 259.3L177.2 260.7L177.3 259.9L177.5 259.2L177.7 259.1L177.8 259.4L178.0 260.0L178.2 260.7L178.3 258.8L178.5 260.0L178.6 259.8L178.8 260.1L179.0 260.0L179.1 260.0L179.3 260.0L179.5 259.0L179.6 259.2L179.8 259.4L180.0 260.6L180.1 260.2L180.3 260.3L180.5 259.8L180.6 258.3L180.8 260.2L181.0 259.7L181.1 259.9L181.3 259.9L181.5 259.8L181.6 260.3L181.8 259.7L182.0 260.2L182.1 259.2L182.3 260.1L182.5 260.3L182.6 259.6L182.8 260.3L183.0 259.3L183.1 259.4L183.3 259.8L183.5 259.6L183.6 259.6L183.8 259.7L183.9 259.3L184.1 259.0L184.3 259.9L184.4 260.0L184.6 260.8L184.8 260.6L184.9 259.8L185.1 259.6L185.3 258.1L185.4 261.3L185.6 259.6L185.8 259.7L185.9 260.0L186.1 259.9L186.3 260.2L186.4 258.9L186.6 259.3L186.8 260.1L186.9 259.9L187.1 260.5L187.3 260.7L187.4 259.7L187.6 259.7L187.8 258.8L187.9 259.4L188.1 259.3L188.3 259.1L188.4 259.4L188.6 259.9L188.8 258.9L188.9 258.7L189.1 259.0L189.2 258.3L189.4 259.4L189.6 258.4L189.7 258.7L189.9 258.0L190.1 256.6L190.2 255.8L190.4 252.7L190.6 246.4L190.7 236.9L190.9 222.3L191.1 206.5L191.2 194.0L191.4 195.3L191.6 206.6L191.7 221.8L191.9 236.6L192.1 247.1L192.2 251.6L192.4 254.9L192.6 256.3L192.7 257.6L192.9 258.3L193.1 259.0L193.2 259.1L193.4 258.8L193.6 258.3L193.7 257.7L193.9 259.4L194.1 259.3L194.2 259.2L194.4 260.3L194.5 259.8L194.7 259.6L194.9 259.4L195.0 259.8L195.2 260.6L195.4 259.5L195.5 259.6L195.7 259.7L195.9 259.8L196.0 259.7L196.2 259.7L196.4 259.0L196.5 258.7L196.7 259.3L196.9 259.4L197.0 260.6L197.2 259.3L197.4 258.9L197.5 260.4L197.7 260.7L197.9 258.8L198.0 258.6L198.2 259.1L198.4 258.6L198.5 258.4L198.7 258.6L198.9 256.9L199.0 254.8L199.2 250.8L199.4 247.1L199.5 244.2L199.7 240.3L199.9 238.2L200.0 238.5L200.2 239.8L200.3 243.8L200.5 247.0L200.7 251.7L200.8 253.7L201.0 256.4L201.2 256.9L201.3 258.5L201.5 258.2L201.7 258.9L201.8 258.4L202.0 259.0L202.2 258.2L202.3 259.8L202.5 260.0L202.7 260.3L202.8 259.5L203.0 259.9L203.2 260.5L203.3 258.3L203.5 259.5L203.7 259.7L203.8 259.9L204.0 258.8L204.2 259.8L204.3 259.4L204.5 260.0L204.7 259.6L204.8 259.4L205.0 259.7L205.2 260.5L205.3 259.6L205.5 259.4L205.6 258.9L205.8 259.3L206.0 259.5L206.1 260.0L206.3 259.2L206.5 259.8L206.6 259.0L206.8 260.1L207.0 260.2L207.1 258.8L207.3 259.5L207.5 257.9L207.6 258.0L207.8 256.5L208.0 255.5L208.1 253.0L208.3 250.9L208.5 248.3L208.6 246.8L208.8 247.1L209.0 248.7L209.1 249.8L209.3 253.8L209.5 254.6L209.6 255.9L209.8 257.2L210.0 258.1L210.1 259.2L210.3 258.3L210.5 258.8L210.6 259.2L210.8 259.4L210.9 259.8L211.1 259.6L211.3 259.8L211.4 258.7L211.6 259.9L211.8 259.5L211.9 258.8L212.1 259.6L212.3 259.5L212.4 259.4L212.6 260.3L212.8 259.9L212.9 258.8L213.1 259.1L213.3 259.3L213.4 259.4L213.6 259.2L213.8 259.7L213.9 259.0L214.1 259.4L214.3 259.0L214.4 259.4L214.6 259.0L214.8 259.8L214.9 258.0L215.1 257.8L215.3 259.2L215.4 259.1L215.6 256.6L215.8 256.7L215.9 253.5L216.1 249.2L216.2 242.7L216.4 231.3L216.6 223.7L216.7 218.9L216.9 222.7L217.1 231.6L217.2 242.2L217.4 249.8L217.6 253.5L217.7 256.3L217.9 256.6L218.1 258.2L218.2 258.0L218.4 258.3L218.6 258.6L218.7 258.0L218.9 259.5L219.1 259.9L219.2 258.8L219.4 260.5L219.6 258.0L219.7 259.6L219.9 260.5L220.1 258.6L220.2 259.0L220.4 260.2L220.6 259.3L220.7 259.0L220.9 259.9L221.1 261.0L221.2 259.4L221.4 260.3L221.5 260.7L221.7 260.0L221.9 260.5L222.0 259.4L222.2 259.6L222.4 260.1L222.5 260.1L222.7 259.6L222.9 258.9L223.0 260.1L223.2 258.9L223.4 259.6L223.5 259.4L223.7 260.7L223.9 259.6L224.0 259.1L224.2 260.5L224.4 259.6L224.5 259.1L224.7 260.5L224.9 259.6L225.0 258.9L225.2 260.2L225.4 260.3L225.5 259.3L225.7 260.8L225.9 260.3L226.0 259.9L226.2 259.8L226.4 259.6L226.5 259.8L226.7 259.0L226.8 259.4L227.0 260.9L227.2 259.5L227.3 259.8L227.5 260.6L227.7 260.2L227.8 259.5L228.0 260.4L228.2 259.4L228.3 259.2L228.5 260.1L228.7 259.6L228.8 259.4L229.0 259.5L229.2 260.1L229.3 259.3L229.5 259.9L229.7 259.3L229.8 261.1L230.0 258.9L230.2 258.8L230.3 259.8L230.5 260.1L230.7 260.2L230.8 258.8L231.0 258.8L231.2 259.3L231.3 259.3L231.5 259.5L231.7 259.6L231.8 259.7L232.0 259.2L232.2 258.5L232.3 259.5L232.5 259.2L232.6 259.5L232.8 257.7L233.0 257.7L233.1 256.7L233.3 255.4L233.5 253.6L233.6 251.0L233.8 250.4L234.0 247.5L234.1 249.5L234.3 251.6L234.5 253.1L234.6 254.8L234.8 255.9L235.0 258.0L235.1 258.7L235.3 258.3L235.5 258.5L235.6 258.7L235.8 259.7L236.0 259.6L236.1 260.4L236.3 258.6L236.5 259.2L236.6 259.6L236.8 259.6L237.0 258.6L237.1 260.8L237.3 258.9L237.5 259.3L237.6 258.9L237.8 259.7L237.9 260.7L238.1 258.9L238.3 259.7L238.4 258.6L238.6 260.2L238.8 261.1L238.9 259.1L239.1 259.3L239.3 260.4L239.4 259.3L239.6 259.4L239.8 258.9L239.9 260.6L240.1 259.6L240.3 258.3L240.4 258.5L240.6 256.9L240.8 254.8L240.9 254.2L241.1 252.9L241.3 250.4L241.4 248.5L241.6 248.9L241.8 249.1L241.9 250.0L242.1 252.6L242.3 255.2L242.4 255.4L242.6 257.7L242.8 257.8L242.9 258.5L243.1 258.8L243.2 259.0L243.4 260.1L243.6 258.7L243.7 259.0L243.9 259.0L244.1 259.1L244.2 260.1L244.4 260.0L244.6 259.2L244.7 261.4L244.9 259.5L245.1 259.1L245.2 260.1L245.4 259.5L245.6 259.7L245.7 260.2L245.9 259.5L246.1 259.9L246.2 259.5L246.4 260.1L246.6 258.3L246.7 260.2L246.9 259.6L247.1 259.5L247.2 259.3L247.4 260.5L247.6 259.6L247.7 259.7L247.9 259.1L248.1 260.0L248.2 260.0L248.4 260.0L248.5 258.7L248.7 259.6L248.9 259.8L249.0 259.2L249.2 259.5L249.4 259.8L249.5 259.3L249.7 258.9L249.9 258.4L250.0 260.6L250.2 259.9L250.4 259.1L250.5 258.8L250.7 257.5L250.9 258.8L251.0 258.3L251.2 256.6L251.4 258.9L251.5 257.6L251.7 256.7L251.9 255.1L252.0 253.9L252.2 250.1L252.4 242.6L252.5 229.9L252.7 215.5L252.9 200.8L253.0 196.3L253.2 200.7L253.4 216.6L253.5 230.7L253.7 242.1L253.8 248.6L254.0 252.6L254.2 254.3L254.3 254.3L254.5 253.2L254.7 250.8L254.8 248.6L255.0 245.4L255.2 241.7L255.3 238.9L255.5 238.2L255.7 239.0L255.8 242.6L256.0 246.2L256.2 249.3L256.3 252.8L256.5 254.6L256.7 256.5L256.8 257.1L257.0 257.2L257.2 257.7L257.3 258.2L257.5 258.7L257.7 258.3L257.8 259.1L258.0 258.1L258.2 257.9L258.3 258.3L258.5 258.6L258.7 259.3L258.8 257.8L259.0 258.2L259.1 258.6L259.3 258.1L259.5 258.0L259.6 257.7L259.8 257.4L260.0 258.3L260.1 258.0L260.3 258.6L260.5 257.7L260.6 256.9L260.8 258.3L261.0 257.8L261.1 256.7L261.3 256.4L261.5 255.7L261.6 256.8L261.8 255.4L262.0 255.8L262.1 254.6L262.3 254.2L262.5 254.1L262.6 252.0L262.8 249.4L263.0 245.7L263.1 236.1L263.3 221.2L263.5 193.5L263.6 150.3L263.8 84.5L264.0 -6.8L264.1 -123.8L264.3 -259.4L264.4 -397.3L264.6 -521.4L264.8 -609.8L264.9 -641.1L265.1 -609.2L265.3 -523.3L265.4 -398.2L265.6 -258.6L265.8 -123.4L265.9 -8.3L266.1 84.1L266.3 149.3L266.4 194.2L266.6 220.1L266.8 236.0L266.9 244.3L267.1 249.9L267.3 251.8L267.4 252.9L267.6 254.0L267.8 255.7L267.9 255.4L268.1 256.8L268.3 256.9L268.4 255.8L268.6 256.7L268.8 258.1L268.9 257.5L269.1 257.2L269.3 258.6L269.4 257.6L269.6 258.7L269.8 258.0L269.9 256.7L270.1 259.3L270.2 258.0L270.4 259.0L270.6 258.2L270.7 258.7L270.9 257.8L271.1 258.1L271.2 257.7L271.4 259.5L271.6 259.2L271.7 259.3L271.9 258.2L272.1 260.2L272.2 258.8L272.4 258.9L272.6 257.9L272.7 259.0L272.9 258.7L273.1 258.2L273.2 258.2L273.4 258.2L273.6 259.2L273.7 258.1L273.9 257.7L274.1 255.3L274.2 251.8L274.4 248.6L274.6 241.7L274.7 236.2L274.9 233.3L275.1 236.1L275.2 241.4L275.4 247.7L275.5 252.8L275.7 255.0L275.9 256.9L276.0 258.5L276.2 258.0L276.4 259.0L276.5 257.9L276.7 258.9L276.9 259.4L277.0 259.7L277.2 260.1L277.4 259.2L277.5 260.0L277.7 260.0L277.9 259.3L278.0 258.7L278.2 259.9L278.4 260.6L278.5 259.2L278.7 259.8L278.9 259.9L279.0 259.9L279.2 260.1L279.4 260.0L279.5 259.3L279.7 259.6L279.9 260.0L280.0 259.1L280.2 259.3L280.4 260.5L280.5 259.7L280.7 260.5L280.8 259.8L281.0 259.9L281.2 260.4L281.3 260.0L281.5 259.2L281.7 260.0L281.8 259.0L282.0 260.0L282.2 259.3L282.3 259.7L282.5 259.3L282.7 259.6L282.8 259.6L283.0 260.6L283.2 259.1L283.3 259.7L283.5 259.5L283.7 259.8L283.8 259.5L284.0 259.9L284.2 259.8L284.3 259.6L284.5 258.8L284.7 259.9L284.8 259.1L285.0 260.2L285.2 259.8L285.3 259.3L285.5 258.8L285.7 259.8L285.8 259.9L286.0 259.6L286.1 259.4L286.3 259.6L286.5 259.5L286.6 260.4L286.8 259.5L287.0 259.1L287.1 260.6L287.3 258.7L287.5 258.0L287.6 258.6L287.8 259.9L288.0 260.1L288.1 259.7L288.3 260.1L288.5 259.5L288.6 259.7L288.8 260.1L289.0 259.1L289.1 259.2L289.3 259.8L289.5 260.0L289.6 259.7L289.8 259.1L290.0 259.4L290.1 259.6L290.3 259.5L290.5 256.8L290.6 256.8L290.8 257.5L291.0 255.6L291.1 250.7L291.3 245.5L291.4 238.4L291.6 233.2L291.8 232.1L291.9 237.4L292.1 244.3L292.3 251.6L292.4 254.9L292.6 256.4L292.8 258.7L292.9 258.4L293.1 259.7L293.3 259.0L293.4 259.5L293.6 259.4L293.8 259.9L293.9 259.2L294.1 259.4L294.3 259.1L294.4 260.0L294.6 259.7L294.8 258.8L294.9 259.0L295.1 259.1L295.3 259.1L295.4 259.3L295.6 259.5L295.8 260.4L295.9 259.8L296.1 260.5L296.3 259.2L296.4 260.3L296.6 259.8L296.7 260.9L296.9 260.6L297.1 259.8L297.2 259.4L297.4 259.9L297.6 259.4L297.7 259.9L297.9 260.3L298.1 259.6L298.2 259.4L298.4 259.3L298.6 259.5L298.7 258.9L298.9 260.2L299.1 258.2L299.2 259.0L299.4 258.8L299.6 259.4L299.7 259.8L299.9 260.2L300.1 259.2L300.2 260.4L300.4 260.4L300.6 259.2L300.7 259.5L300.9 259.3L301.1 259.8L301.2 259.5L301.4 259.5L301.6 258.0L301.7 257.2L301.9 257.2L302.1 255.1L302.2 253.7L302.4 251.9L302.5 247.8L302.7 244.0L302.9 240.3L303.0 237.5L303.2 239.2L303.4 241.5L303.5 244.2L303.7 248.3L303.9 252.2L304.0 254.0L304.2 255.6L304.4 257.6L304.5 257.6L304.7 259.1L304.9 257.9L305.0 258.5L305.2 258.1L305.4 257.5L305.5 256.7L305.7 257.3L305.9 256.1L306.0 253.1L306.2 251.5L306.4 249.8L306.5 248.2L306.7 249.4L306.9 250.4L307.0 251.6L307.2 254.2L307.4 254.7L307.5 257.6L307.7 257.6L307.8 258.6L308.0 258.1L308.2 257.9L308.3 257.4L308.5 256.7L308.7 255.4L308.8 255.0L309.0 251.6L309.2 247.5L309.3 244.9L309.5 243.2L309.7 241.2L309.8 243.8L310.0 245.1L310.2 248.5L310.3 251.4L310.5 253.9L310.7 256.4L310.8 257.1L311.0 258.5L311.2 258.1L311.3 257.7L311.5 259.2L311.7 260.6L311.8 259.1L312.0 259.3L312.2 259.4L312.3 258.6L312.5 259.7L312.7 258.9L312.8 259.8L313.0 259.9L313.1 260.4L313.3 258.9L313.5 260.5L313.6 260.3L313.8 260.0L314.0 260.1L314.1 258.4L314.3 259.8L314.5 260.0L314.6 260.1L314.8 259.4L315.0 260.8L315.1 259.4L315.3 258.7L315.5 258.5L315.6 260.3L315.8 259.8L316.0 259.9L316.1 259.5L316.3 260.1L316.5 259.8L316.6 260.2L316.8 259.9L317.0 260.0L317.1 259.6L317.3 259.7L317.5 260.2L317.6 259.3L317.8 259.9L318.0 259.9L318.1 260.0L318.3 258.7L318.4 260.0L318.6 259.4L318.8 259.0L318.9 259.2L319.1 260.7L319.3 259.6L319.4 260.0L319.6 260.5L319.8 260.8L319.9 259.6L320.1 260.5L320.3 260.0L320.4 259.8L320.6 259.3L320.8 260.7L320.9 260.6L321.1 259.4L321.3 260.5L321.4 259.1L321.6 260.6L321.8 259.8L321.9 259.7L322.1 259.2L322.3 260.6L322.4 259.8L322.6 260.0L322.8 260.4L322.9 259.6L323.1 259.4L323.3 260.7L323.4 259.8L323.6 259.6L323.7 260.6L323.9 260.2L324.1 259.5L324.2 259.4L324.4 259.8L324.6 259.7L324.7 259.9L324.9 260.7L325.1 260.6L325.2 259.7L325.4 259.6L325.6 258.6L325.7 260.2L325.9 259.1L326.1 261.1L326.2 259.8L326.4 259.7L326.6 259.4L326.7 259.2L326.9 259.2L327.1 259.3L327.2 259.4L327.4 259.4L327.6 258.5L327.7 259.5L327.9 259.5L328.1 259.2L328.2 259.5L328.4 259.0L328.6 259.9L328.7 259.4L328.9 259.9L329.0 259.8L329.2 258.0L329.4 258.7L329.5 259.3L329.7 259.0L329.9 258.0L330.0 257.8L330.2 256.4L330.4 255.1L330.5 253.3L330.7 252.1L330.9 252.1L331.0 252.2L331.2 253.5L331.4 255.3L331.5 255.4L331.7 256.1L331.9 256.9L332.0 258.2L332.2 259.1L332.4 258.7L332.5 258.1L332.7 257.1L332.9 256.5L333.0 255.1L333.2 252.6L333.4 249.6L333.5 245.2L333.7 242.2L333.9 237.2L334.0 236.7L334.2 238.0L334.4 243.0L334.5 245.5L334.7 249.5L334.8 252.6L335.0 254.9L335.2 256.4L335.3 257.4L335.5 258.8L335.7 258.7L335.8 258.9L336.0 258.0L336.2 259.5L336.3 260.5L336.5 258.5L336.7 259.8L336.8 259.6L337.0 260.2L337.2 260.3L337.3 258.8L337.5 259.8L337.7 260.1L337.8 260.4L338.0 258.7L338.2 259.2L338.3 259.4L338.5 260.1L338.7 259.3L338.8 259.9L339.0 260.1L339.2 260.0L339.3 259.9L339.5 260.3L339.7 259.8L339.8 259.6L340.0 259.2L340.1 260.2L340.3 258.5L340.5 259.5L340.6 258.6L340.8 259.1L341.0 258.3L341.1 256.8L341.3 256.2L341.5 252.7L341.6 250.3L341.8 246.5L342.0 244.4L342.1 241.4L342.3 241.2L342.5 244.1L342.6 247.6L342.8 250.6L343.0 253.7L343.1 254.2L343.3 258.0L343.5 258.6L343.6 257.8L343.8 259.0L344.0 258.7L344.1 258.2L344.3 259.6L344.5 259.5L344.6 258.8L344.8 258.9L345.0 258.7L345.1 259.2L345.3 258.1L345.4 257.5L345.6 257.4L345.8 254.9L345.9 253.4L346.1 250.7L346.3 247.6L346.4 245.6L346.6 243.7L346.8 243.3L346.9 245.3L347.1 248.1L347.3 250.9L347.4 254.2L347.6 254.0L347.8 256.5L347.9 257.0L348.1 258.9L348.3 258.6L348.4 258.7L348.6 259.1L348.8 259.4L348.9 259.4L349.1 260.5L349.3 258.8L349.4 259.3L349.6 259.8L349.8 258.7L349.9 260.1L350.1 259.7L350.3 260.0L350.4 259.3L350.6 259.7L350.7 260.1L350.9 259.0L351.1 260.1L351.2 260.3L351.4 259.4L351.6 259.4L351.7 260.6L351.9 259.9L352.1 259.9L352.2 259.6L352.4 258.8L352.6 259.4L352.7 258.9L352.9 259.6L353.1 260.3L353.2 259.1L353.4 260.1L353.6 260.2L353.7 259.7L353.9 260.0L354.1 259.8L354.2 260.1L354.4 259.8L354.6 260.1L354.7 259.6L354.9 260.4L355.1 260.3L355.2 259.0L355.4 259.9L355.6 259.3L355.7 259.6L355.9 258.3L356.0 257.9L356.2 256.0L356.4 256.0L356.5 253.8L356.7 252.9L356.9 252.2L357.0 253.9L357.2 254.2L357.4 255.0L357.5 256.2L357.7 258.0L357.9 258.1L358.0 259.4L358.2 259.3L358.4 260.7L358.5 259.8L358.7 261.1L358.9 260.0L359.0 259.7L359.2 259.3L359.4 260.0L359.5 258.9L359.7 260.9L359.9 259.8L360.0 259.2L360.2 261.0L360.4 258.8L360.5 259.1L360.7 260.0L360.9 259.2L361.0 259.5L361.2 260.3L361.3 259.7L361.5 259.2L361.7 259.6L361.8 260.3L362.0 259.5L362.2 259.9L362.3 260.0L362.5 259.8L362.7 260.0L362.8 259.4L363.0 259.8L363.2 259.9L363.3 260.2L363.5 260.8L363.7 259.4L363.8 259.9L364.0 260.2L364.2 260.6L364.3 259.8L364.5 259.6L364.7 259.8L364.8 260.3L365.0 259.3L365.2 259.2L365.3 259.6L365.5 259.6L365.7 259.9L365.8 260.1L366.0 259.5L366.2 259.1L366.3 260.0L366.5 259.7L366.6 260.1L366.8 259.0L367.0 258.9L367.1 260.8L367.3 260.6L367.5 259.6L367.6 260.5L367.8 259.1L368.0 259.8L368.1 260.7L368.3 258.8L368.5 260.3L368.6 259.1L368.8 260.1L369.0 260.3L369.1 259.4L369.3 259.6L369.5 258.7L369.6 258.2L369.8 258.5L370.0 257.3L370.1 255.8L370.3 254.0L370.5 252.5L370.6 252.1L370.8 251.1L371.0 251.5L371.1 252.3L371.3 253.5L371.5 256.0L371.6 257.6L371.8 258.9L372.0 257.9L372.1 259.2L372.3 258.9L372.4 260.1L372.6 259.6L372.8 259.3L372.9 259.9L373.1 259.6L373.3 260.1L373.4 260.1L373.6 260.8L373.8 259.6L373.9 259.8L374.1 258.7L374.3 259.1L374.4 259.0L374.6 260.2L374.8 259.9L374.9 259.9L375.1 259.4L375.3 259.0L375.4 260.0L375.6 260.7L375.8 259.6L375.9 259.1L376.1 258.5L376.3 258.9L376.4 258.6L376.6 259.2L376.8 258.9L376.9 256.6L377.1 255.9L377.3 254.7L377.4 254.2L377.6 252.7L377.7 252.9L377.9 253.6L378.1 255.2L378.2 256.2L378.4 257.7L378.6 258.9L378.7 258.2L378.9 259.8L379.1 259.7L379.2 259.0L379.4 260.0L379.6 259.7L379.7 259.0L379.9 259.8L380.1 260.0L380.2 259.6L380.4 259.9L380.6 259.0L380.7 259.9L380.9 258.9L381.1 260.8L381.2 260.4L381.4 259.7L381.6 259.1L381.7 259.2L381.9 259.2L382.1 259.8L382.2 260.4L382.4 260.6L382.6 259.3L382.7 259.8L382.9 259.1L383.0 259.6L383.2 259.3L383.4 260.4L383.5 258.9L383.7 260.0L383.9 259.5L384.0 258.7L384.2 260.1L384.4 259.4L384.5 260.0L384.7 259.9L384.9 258.9L385.0 258.8L385.2 259.7L385.4 260.2L385.5 260.3L385.7 260.2L385.9 259.3L386.0 259.8L386.2 260.2L386.4 259.6L386.5 259.0L386.7 259.9L386.9 260.0L387.0 261.3L387.2 260.6L387.4 259.9L387.5 258.9L387.7 260.6L387.9 260.6L388.0 260.0L388.2 259.6L388.3 258.7L388.5 258.4L388.7 259.4L388.8 259.4L389.0 260.1L389.2 259.6L389.3 260.2L389.5 260.3L389.7 259.4L389.8 259.9L390.0 260.3L390.2 261.2L390.3 259.5L390.5 259.3L390.7 259.9L390.8 259.4L391.0 260.6L391.2 260.1L391.3 260.3L391.5 260.3L391.7 260.9L391.8 259.3L392.0 259.9L392.2 259.5L392.3 258.9L392.5 259.9L392.7 260.0L392.8 259.8L393.0 259.6L393.2 259.6L393.3 259.5L393.5 258.9L393.6 259.7L393.8 259.1L394.0 260.1L394.1 258.0L394.3 258.3L394.5 256.8L394.6 256.4L394.8 253.8L395.0 250.4L395.1 247.7L395.3 243.3L395.5 239.6L395.6 236.9L395.8 236.4L396.0 238.8L396.1 241.7L396.3 246.6L396.5 250.1L396.6 254.3L396.8 255.9L397.0 257.6L397.1 257.7L397.3 257.7L397.5 258.8L397.6 258.6L397.8 259.6L398.0 260.3L398.1 259.2L398.3 260.3L398.5 259.0L398.6 259.4L398.8 260.0L398.9 258.8L399.1 259.6L399.3 259.0L399.4 260.8L399.6 260.4L399.8 260.2L399.9 260.4L400.1 259.5L400.3 258.4L400.4 260.1L400.6 259.2L400.8 261.0L400.9 260.0L401.1 260.1L401.3 259.8L401.4 259.0L401.6 259.4L401.8 259.9L401.9 260.0L402.1 260.4L402.3 259.6L402.4 259.2L402.6 260.0L402.8 258.8L402.9 259.8L403.1 259.8L403.3 259.7L403.4 259.1L403.6 258.5L403.8 260.2L403.9 260.5L404.1 260.6L404.3 259.5L404.4 260.8L404.6 259.2L404.7 259.8L404.9 260.1L405.1 259.5L405.2 259.7L405.4 259.0L405.6 260.2L405.7 260.8L405.9 260.3L406.1 260.2L406.2 259.6L406.4 259.3L406.6 260.2L406.7 260.2L406.9 260.1L407.1 260.8L407.2 259.2L407.4 259.8L407.6 260.8L407.7 260.1L407.9 259.9L408.1 260.7L408.2 260.3L408.4 259.5L408.6 259.2L408.7 260.3L408.9 259.4L409.1 259.5L409.2 260.2L409.4 259.7L409.6 259.9L409.7 260.3L409.9 259.4L410.0 260.2L410.2 259.8L410.4 260.2L410.5 259.2L410.7 260.9L410.9 260.3L411.0 260.2L411.2 260.0L411.4 260.1L411.5 258.8L411.7 260.1L411.9 260.6L412.0 260.1L412.2 259.6L412.4 260.0L412.5 259.6L412.7 259.4L412.9 259.4L413.0 260.0L413.2 259.6L413.4 260.3L413.5 260.5L413.7 259.4L413.9 259.8L414.0 259.9L414.2 260.0L414.4 260.0L414.5 259.9L414.7 260.4L414.9 259.6L415.0 259.0L415.2 259.4L415.3 259.6L415.5 259.2L415.7 260.5L415.8 259.0L416.0 260.2L416.2 260.1L416.3 261.0L416.5 258.8L416.7 260.1L416.8 259.8L417.0 260.7L417.2 260.2L417.3 259.6L417.5 260.5L417.7 259.7L417.8 260.1L418.0 259.6L418.2 259.7L418.3 258.1L418.5 259.6L418.7 258.5L418.8 257.4L419.0 258.8L419.2 258.4L419.3 257.4L419.5 256.7L419.7 254.4L419.8 252.2L420.0 245.7L420.2 234.9L420.3 219.3L420.5 201.3L420.6 188.6L420.8 188.3L421.0 201.9L421.1 219.9L421.3 234.6L421.5 245.4L421.6 251.4L421.8 255.1L422.0 256.1L422.1 257.3L422.3 257.3L422.5 258.4L422.6 258.3L422.8 259.4L423.0 259.1L423.1 259.2L423.3 259.1L423.5 260.4L423.6 258.9L423.8 259.7L424.0 259.1L424.1 259.6L424.3 259.3L424.5 259.0L424.6 257.4L424.8 259.5L425.0 259.0L425.1 260.0L425.3 260.0L425.5 259.8L425.6 258.7L425.8 259.9L425.9 261.2L426.1 259.7L426.3 259.1L426.4 259.8L426.6 259.8L426.8 259.0L426.9 258.6L427.1 259.4L427.3 259.2L427.4 260.2L427.6 259.0L427.8 259.4L427.9 259.9L428.1 259.0L428.3 260.6L428.4 259.3L428.6 260.1L428.8 260.3L428.9 259.9L429.1 258.7L429.3 259.1L429.4 258.1L429.6 256.7L429.8 258.2L429.9 257.2L430.1 255.6L430.3 255.9L430.4 256.1L430.6 254.7L430.8 255.6L430.9 255.9L431.1 257.0L431.2 256.9L431.4 258.8L431.6 257.7L431.7 259.5L431.9 259.3L432.1 259.6L432.2 260.4L432.4 260.1L432.6 259.7L432.7 259.4L432.9 259.0L433.1 259.9L433.2 259.5L433.4 259.7L433.6 259.2L433.7 258.3L433.9 259.8L434.1 260.8L434.2 260.5L434.4 259.9L434.6 259.2L434.7 258.7L434.9 259.4L435.1 260.2L435.2 259.5L435.4 260.1L435.6 260.7L435.7 261.0L435.9 259.2L436.1 260.6L436.2 260.3L436.4 259.6L436.5 260.1L436.7 259.0L436.9 259.9L437.0 258.6L437.2 259.7L437.4 260.4L437.5 259.5L437.7 260.3L437.9 260.7L438.0 259.5L438.2 260.3L438.4 259.8L438.5 259.6L438.7 259.9L438.9 258.9L439.0 260.5L439.2 259.8L439.4 259.9L439.5 260.6L439.7 259.3L439.9 259.2L440.0 260.7L440.2 260.4L440.4 260.6L440.5 259.9L440.7 259.4L440.9 260.1L441.0 259.6L441.2 259.6L441.4 260.3L441.5 260.6L441.7 260.1L441.9 260.2L442.0 259.0L442.2 259.6L442.3 259.5L442.5 259.1L442.7 260.4L442.8 259.1L443.0 259.3L443.2 257.5L443.3 257.7L443.5 257.2L443.7 256.1L443.8 256.7L444.0 256.0L444.2 256.4L444.3 255.6L444.5 258.5L444.7 258.9L444.8 260.0L445.0 259.3L445.2 258.7L445.3 260.3L445.5 259.3L445.7 259.7L445.8 260.2L446.0 259.3L446.2 259.7L446.3 258.7L446.5 260.7L446.7 258.6L446.8 258.9L447.0 259.6L447.2 258.8L447.3 258.8L447.5 260.0L447.6 259.3L447.8 259.4L448.0 259.8L448.1 259.5L448.3 260.7L448.5 260.6L448.6 260.7L448.8 259.7L449.0 260.3L449.1 259.8L449.3 260.1L449.5 259.6L449.6 260.3L449.8 259.3L450.0 260.0L450.1 259.6L450.3 259.8L450.5 258.8L450.6 259.6L450.8 259.6L451.0 259.5L451.1 260.6L451.3 260.5L451.5 259.6L451.6 259.7L451.8 260.1L452.0 260.6L452.1 260.1L452.3 259.5L452.5 259.8L452.6 259.5L452.8 260.0L452.9 259.6L453.1 259.2L453.3 260.1L453.4 260.4L453.6 259.3L453.8 258.8L453.9 259.9L454.1 260.5L454.3 260.0L454.4 259.7L454.6 259.0L454.8 260.7L454.9 260.6L455.1 261.1L455.3 261.0L455.4 259.2L455.6 259.3L455.8 260.0L455.9 260.0L456.1 259.2L456.3 259.5L456.4 259.8L456.6 258.7L456.8 258.8L456.9 259.8L457.1 259.3L457.3 259.1L457.4 258.7L457.6 259.0L457.8 258.7L457.9 258.5L458.1 258.2L458.2 257.5L458.4 256.7L458.6 256.2L458.7 252.5L458.9 249.7L459.1 247.6L459.2 245.2L459.4 241.2L459.6 240.9L459.7 241.2L459.9 243.9L460.1 248.3L460.2 251.3L460.4 253.6L460.6 256.2L460.7 257.3L460.9 256.8L461.1 258.7L461.2 258.6L461.4 258.2L461.6 259.4L461.7 259.4L461.9 260.0L462.1 259.3L462.2 260.6L462.4 259.6L462.6 259.7L462.7 260.5L462.9 259.6L463.1 259.9L463.2 260.3L463.4 260.8L463.5 259.1L463.7 259.4L463.9 259.9L464.0 260.3L464.2 259.7L464.4 259.5L464.5 260.3L464.7 258.8L464.9 258.6L465.0 260.1L465.2 259.9L465.4 260.0L465.5 259.2L465.7 260.9L465.9 259.7L466.0 259.4L466.2 259.4L466.4 258.8L466.5 260.2L466.7 259.8L466.9 259.7L467.0 259.6L467.2 259.8L467.4 260.2L467.5 260.2L467.7 259.0L467.9 259.7L468.0 260.4L468.2 259.7L468.4 260.3L468.5 260.4L468.7 260.1L468.8 260.1L469.0 260.6L469.2 260.2L469.3 259.0L469.5 260.5L469.7 260.7L469.8 259.4L470.0 260.1L470.2 259.0L470.3 259.7L470.5 260.6L470.7 260.2L470.8 259.5L471.0 260.3L471.2 259.7L471.3 260.0L471.5 259.4L471.7 260.4L471.8 259.5L472.0 260.3L472.2 260.6L472.3 259.4L472.5 259.8L472.7 258.8L472.8 260.4L473.0 259.7L473.2 259.1L473.3 260.4L473.5 259.8L473.7 259.4L473.8 259.9L474.0 259.3L474.2 260.2L474.3 259.7L474.5 259.8L474.6 259.2L474.8 260.2L475.0 259.3L475.1 259.5L475.3 259.5L475.5 259.8L475.6 259.9L475.8 259.9L476.0 260.5L476.1 259.4L476.3 259.8L476.5 260.8L476.6 260.5L476.8 259.9L477.0 259.3L477.1 259.8L477.3 259.9L477.5 260.1L477.6 259.4L477.8 259.7L478.0 259.9L478.1 259.4L478.3 258.2L478.5 258.4L478.6 258.9L478.8 259.5L479.0 260.3L479.1 259.1L479.3 260.3L479.5 260.2L479.6 260.4L479.8 259.9L479.9 260.1L480.1 259.5L480.3 259.1L480.4 259.1L480.6 260.2L480.8 260.2L480.9 259.9L481.1 260.0L481.3 259.3L481.4 258.7L481.6 259.2L481.8 258.4L481.9 258.5L482.1 256.3L482.3 256.1L482.4 255.0L482.6 254.0L482.8 254.8L482.9 254.6L483.1 256.6L483.3 258.0L483.4 258.7L483.6 258.4L483.8 259.4L483.9 259.3L484.1 259.7L484.3 260.0L484.4 260.2L484.6 259.7L484.8 259.9L484.9 259.6L485.1 260.4L485.2 260.0L485.4 258.8L485.6 260.0L485.7 259.5L485.9 260.6L486.1 259.9L486.2 259.8L486.4 259.5L486.6 260.1L486.7 259.9L486.9 260.5L487.1 260.3L487.2 259.2L487.4 260.5L487.6 260.4L487.7 259.9L487.9 260.0L488.1 260.0L488.2 259.7L488.4 260.2L488.6 260.2L488.7 260.3L488.9 261.4L489.1 260.1L489.2 259.6L489.4 260.5L489.6 259.7L489.7 259.2L489.9 259.9L490.1 259.9L490.2 260.7L490.4 259.2L490.5 259.4L490.7 260.1L490.9 261.2L491.0 259.0L491.2 260.5L491.4 259.9L491.5 260.1L491.7 259.3L491.9 259.7L492.0 260.1L492.2 260.4L492.4 259.6L492.5 259.7L492.7 259.8L492.9 259.5L493.0 259.7L493.2 259.7L493.4 261.0L493.5 260.7L493.7 259.7L493.9 259.3L494.0 259.5L494.2 260.6L494.4 259.8L494.5 259.7L494.7 259.4L494.9 259.3L495.0 259.5L495.2 259.7L495.4 258.9L495.5 259.4L495.7 259.4L495.8 259.0L496.0 259.9L496.2 259.5L496.3 259.1L496.5 260.6L496.7 258.5L496.8 259.1L497.0 259.7L497.2 260.2L497.3 259.6L497.5 259.1L497.7 259.9L497.8 260.2L498.0 260.2L498.2 260.0L498.3 259.8L498.5 259.6L498.7 260.2L498.8 259.0L499.0 258.6L499.2 260.1L499.3 259.3L499.5 259.7L499.7 260.1L499.8 260.1L500.0 259.3L500.2 259.0L500.3 257.9L500.5 258.3L500.7 256.7L500.8 257.2L501.0 253.9L501.1 253.5L501.3 252.0L501.5 252.0L501.6 252.4L501.8 255.4L502.0 254.0L502.1 255.7L502.3 256.0L502.5 258.1L502.6 259.0L502.8 259.4L503.0 259.9L503.1 259.6L503.3 258.6L503.5 260.0L503.6 258.7L503.8 259.7L504.0 259.8L504.1 259.7L504.3 259.5L504.5 259.9L504.6 259.5L504.8 258.6L505.0 258.7L505.1 258.7L505.3 258.7L505.5 258.7L505.6 257.7L505.8 255.9L506.0 254.7L506.1 252.1L506.3 250.8L506.4 247.9L506.6 247.4L506.8 248.8L506.9 250.4L507.1 252.1L507.3 254.3L507.4 256.8L507.6 257.4L507.8 259.4L507.9 258.1L508.1 258.7L508.3 258.6L508.4 259.3L508.6 259.6L508.8 259.0L508.9 260.0L509.1 259.7L509.3 259.4L509.4 260.3L509.6 259.0L509.8 259.6L509.9 259.1L510.1 258.5L510.3 259.1L510.4 259.5L510.6 259.2L510.8 260.0L510.9 258.8L511.1 259.8L511.3 260.5L511.4 259.3L511.6 259.0L511.8 259.8L511.9 259.9L512.1 259.0L512.2 259.7L512.4 259.4L512.6 260.2L512.7 258.5L512.9 259.8L513.1 260.4L513.2 260.3L513.4 259.9L513.6 260.3L513.7 260.7L513.9 259.1L514.1 259.9L514.2 261.1L514.4 259.1L514.6 259.1L514.7 259.8L514.9 260.5L515.1 259.9L515.2 259.5L515.4 259.8L515.6 259.5L515.7 260.2L515.9 260.0L516.1 259.9L516.2 258.5L516.4 260.0L516.6 259.7L516.7 260.3L516.9 258.4L517.1 259.9L517.2 259.7L517.4 260.6L517.5 259.8L517.7 261.3L517.9 258.8L518.0 259.4L518.2 259.5L518.4 259.9L518.5 259.9L518.7 259.7L518.9 260.2L519.0 259.9L519.2 260.7L519.4 260.6L519.5 259.8L519.7 259.8L519.9 259.9L520.0 259.2L520.2 259.1L520.4 260.2L520.5 259.4L520.7 259.8L520.9 259.3L521.0 260.3L521.2 259.6L521.4 259.3L521.5 260.2L521.7 259.4L521.9 260.3L522.0 259.9L522.2 259.3L522.4 259.8L522.5 259.8L522.7 259.0L522.8 259.5L523.0 260.2L523.2 260.8L523.3 260.0L523.5 259.5L523.7 260.6L523.8 261.3L524.0 260.4L524.2 259.9L524.3 259.6L524.5 260.2L524.7 259.2L524.8 260.5L525.0 259.8L525.2 260.4L525.3 260.3L525.5 259.9L525.7 259.6L525.8 259.8L526.0 259.0L526.2 259.2L526.3 259.2L526.5 260.0L526.7 260.1L526.8 260.2L527.0 259.9L527.2 260.4L527.3 260.2L527.5 259.6L527.7 261.2L527.8 260.4L528.0 260.0L528.1 258.8L528.3 259.8L528.5 259.6L528.6 261.2L528.8 260.5L529.0 259.6L529.1 260.1L529.3 259.5L529.5 260.0L529.6 259.6L529.8 259.6L530.0 259.9L530.1 258.8L530.3 260.0L530.5 260.1L530.6 260.4L530.8 260.1L531.0 259.0L531.1 258.7L531.3 259.1L531.5 258.4L531.6 257.4L531.8 257.2L532.0 255.5L532.1 255.4L532.3 254.7L532.5 254.6L532.6 256.1L532.8 258.5L533.0 257.9L533.1 258.0L533.3 258.3L533.4 258.7L533.6 259.3L533.8 259.4L533.9 259.9L534.1 258.9L534.3 261.2L534.4 259.6L534.6 259.3L534.8 259.1L534.9 260.5L535.1 258.8L535.3 259.4L535.4 260.1L535.6 259.6L535.8 259.4L535.9 259.4L536.1 259.3L536.3 259.3L536.4 260.8L536.6 259.1L536.8 260.0L536.9 259.7L537.1 260.1L537.3 260.3L537.4 259.5L537.6 259.6L537.8 259.2L537.9 259.5L538.1 259.3L538.3 258.8L538.4 260.3L538.6 260.0L538.7 259.6L538.9 260.0L539.1 259.1L539.2 258.3L539.4 258.7L539.6 260.1L539.7 257.7L539.9 257.4L540.1 256.6L540.2 255.1L540.4 252.7L540.6 250.8L540.7 248.2L540.9 245.3L541.1 244.9" stroke="#2069dc"/><path d="M69.3 214.9L69.5 215.0L69.7 216.4L69.8 215.8L70.0 215.1L70.2 214.0L70.3 214.9L70.5 215.9L70.7 216.2L70.8 213.1L71.0 214.8L71.1 216.7L71.3 215.4L71.5 214.9L71.6 214.4L71.8 214.5L72.0 216.8L72.1 214.0L72.3 216.5L72.5 214.7L72.6 214.1L72.8 214.9L73.0 215.8L73.1 215.1L73.3 216.0L73.5 215.4L73.6 214.7L73.8 214.8L74.0 214.6L74.1 215.1L74.3 213.8L74.5 216.3L74.6 214.8L74.8 214.4L75.0 214.8L75.1 213.5L75.3 214.9L75.5 216.1L75.6 217.1L75.8 214.1L76.0 216.3L76.1 215.4L76.3 213.3L76.4 216.5L76.6 214.8L76.8 215.2L76.9 213.1L77.1 216.0L77.3 215.8L77.4 215.0L77.6 215.4L77.8 215.3L77.9 214.6L78.1 214.9L78.3 214.3L78.4 214.5L78.6 214.6L78.8 218.1L78.9 215.7L79.1 214.1L79.3 214.5L79.4 215.8L79.6 215.4L79.8 216.8L79.9 215.4L80.1 214.8L80.3 214.8L80.4 216.2L80.6 216.5L80.8 214.4L80.9 216.3L81.1 214.5L81.3 214.3L81.4 215.4L81.6 216.4L81.7 214.0L81.9 215.7L82.1 213.9L82.2 214.0L82.4 214.4L82.6 215.8L82.7 215.4L82.9 215.3L83.1 214.4L83.2 215.8L83.4 214.4L83.6 214.5L83.7 214.6L83.9 215.4L84.1 214.6L84.2 215.6L84.4 215.0L84.6 216.1L84.7 214.0L84.9 215.1L85.1 214.6L85.2 213.5L85.4 214.7L85.6 214.6L85.7 214.6L85.9 215.8L86.1 215.6L86.2 216.9L86.4 214.7L86.6 214.5L86.7 214.6L86.9 215.6L87.0 215.5L87.2 216.2L87.4 215.7L87.5 213.8L87.7 215.2L87.9 215.2L88.0 215.0L88.2 213.4L88.4 216.0L88.5 215.2L88.7 215.2L88.9 213.6L89.0 214.1L89.2 214.6L89.4 216.1L89.5 214.5L89.7 215.4L89.9 214.7L90.0 216.1L90.2 214.4L90.4 214.5L90.5 213.2L90.7 215.7L90.9 215.2L91.0 213.6L91.2 215.2L91.4 213.9L91.5 215.6L91.7 214.9L91.9 215.6L92.0 214.4L92.2 214.7L92.3 215.2L92.5 215.3L92.7 215.8L92.8 215.5L93.0 215.3L93.2 215.8L93.3 213.4L93.5 214.3L93.7 214.9L93.8 214.7L94.0 213.2L94.2 214.5L94.3 214.2L94.5 214.3L94.7 216.6L94.8 215.7L95.0 214.1L95.2 214.9L95.3 216.2L95.5 214.7L95.7 215.2L95.8 214.6L96.0 215.1L96.2 214.5L96.3 214.5L96.5 214.3L96.7 215.1L96.8 216.6L97.0 214.7L97.2 215.2L97.3 215.6L97.5 215.6L97.7 214.0L97.8 214.2L98.0 216.8L98.1 215.0L98.3 214.0L98.5 214.2L98.6 214.5L98.8 214.4L99.0 215.7L99.1 214.8L99.3 216.5L99.5 214.3L99.6 213.8L99.8 214.2L100.0 214.6L100.1 214.8L100.3 214.9L100.5 215.6L100.6 214.9L100.8 214.5L101.0 215.4L101.1 214.0L101.3 215.7L101.5 216.3L101.6 214.8L101.8 215.4L102.0 214.0L102.1 213.7L102.3 215.3L102.5 216.2L102.6 215.2L102.8 214.3L103.0 215.8L103.1 215.9L103.3 215.3L103.4 214.2L103.6 213.5L103.8 214.9L103.9 214.7L104.1 214.5L104.3 216.0L104.4 215.8L104.6 214.1L104.8 214.4L104.9 214.1L105.1 215.1L105.3 215.0L105.4 214.2L105.6 214.7L105.8 215.1L105.9 215.4L106.1 215.1L106.3 214.8L106.4 215.1L106.6 214.9L106.8 214.9L106.9 214.4L107.1 214.4L107.3 215.1L107.4 214.6L107.6 213.7L107.8 214.6L107.9 215.0L108.1 214.7L108.3 213.8L108.4 214.9L108.6 213.7L108.7 216.2L108.9 214.7L109.1 214.8L109.2 214.4L109.4 214.2L109.6 215.4L109.7 214.9L109.9 215.0L110.1 215.0L110.2 215.6L110.4 214.5L110.6 215.1L110.7 214.0L110.9 213.2L111.1 214.5L111.2 214.7L111.4 214.2L111.6 215.7L111.7 214.2L111.9 215.1L112.1 214.8L112.2 214.6L112.4 214.6L112.6 213.7L112.7 213.9L112.9 213.8L113.1 213.1L113.2 212.3L113.4 213.2L113.6 213.7L113.7 212.3L113.9 211.6L114.0 210.2L114.2 209.4L114.4 210.4L114.5 209.9L114.7 208.5L114.9 209.0L115.0 207.5L115.2 206.4L115.4 205.3L115.5 203.9L115.7 202.2L115.9 200.8L116.0 196.6L116.2 195.3L116.4 191.1L116.5 187.6L116.7 181.8L116.9 178.3L117.0 174.8L117.2 173.7L117.4 173.3L117.5 176.4L117.7 180.1L117.9 183.5L118.0 189.7L118.2 195.0L118.4 199.1L118.5 202.4L118.7 204.9L118.9 207.0L119.0 208.3L119.2 210.8L119.3 211.8L119.5 212.6L119.7 212.4L119.8 212.9L120.0 212.3L120.2 213.0L120.3 213.3L120.5 214.3L120.7 214.1L120.8 213.4L121.0 214.9L121.2 213.4L121.3 213.7L121.5 213.8L121.7 214.8L121.8 214.4L122.0 213.7L122.2 213.7L122.3 213.2L122.5 214.6L122.7 214.7L122.8 215.6L123.0 214.1L123.2 215.2L123.3 215.0L123.5 213.7L123.7 215.4L123.8 214.8L124.0 215.7L124.2 213.4L124.3 216.1L124.5 213.8L124.6 215.2L124.8 214.7L125.0 215.5L125.1 215.3L125.3 214.2L125.5 214.4L125.6 214.2L125.8 215.1L126.0 214.4L126.1 215.3L126.3 215.1L126.5 215.7L126.6 215.4L126.8 215.6L127.0 214.8L127.1 215.3L127.3 214.5L127.5 214.5L127.6 214.1L127.8 215.0L128.0 214.9L128.1 214.8L128.3 214.6L128.5 213.4L128.6 214.6L128.8 215.2L129.0 214.9L129.1 215.4L129.3 214.9L129.5 214.7L129.6 214.2L129.8 215.5L130.0 214.7L130.1 215.2L130.3 215.7L130.4 214.7L130.6 214.9L130.8 216.2L130.9 213.9L131.1 215.0L131.3 214.7L131.4 214.3L131.6 215.7L131.8 214.9L131.9 215.3L132.1 215.0L132.3 215.6L132.4 215.0L132.6 213.6L132.8 215.2L132.9 214.7L133.1 214.9L133.3 215.1L133.4 215.0L133.6 215.1L133.8 213.9L133.9 214.3L134.1 214.2L134.3 216.2L134.4 216.0L134.6 215.3L134.8 214.3L134.9 215.5L135.1 214.7L135.3 214.5L135.4 215.7L135.6 214.2L135.7 214.1L135.9 213.7L136.1 215.0L136.2 213.8L136.4 215.7L136.6 216.0L136.7 215.0L136.9 214.7L137.1 214.4L137.2 214.9L137.4 215.9L137.6 216.1L137.7 215.1L137.9 215.7L138.1 214.6L138.2 215.3L138.4 214.2L138.6 214.8L138.7 214.4L138.9 214.4L139.1 215.0L139.2 215.0L139.4 214.8L139.6 215.2L139.7 214.9L139.9 214.3L140.1 214.5L140.2 214.3L140.4 215.1L140.6 215.1L140.7 214.6L140.9 215.5L141.0 214.8L141.2 215.5L141.4 215.1L141.5 214.5L141.7 214.5L141.9 214.6L142.0 214.5L142.2 215.5L142.4 214.9L142.5 214.5L142.7 215.2L142.9 215.1L143.0 215.2L143.2 215.9L143.4 214.5L143.5 215.0L143.7 214.7L143.9 215.0L144.0 215.2L144.2 215.7L144.4 214.4L144.5 214.7L144.7 214.7L144.9 215.6L145.0 215.3L145.2 214.9L145.4 216.0L145.5 215.5L145.7 213.9L145.9 214.6L146.0 215.5L146.2 215.4L146.3 215.8L146.5 214.9L146.7 214.9L146.8 214.8L147.0 215.1L147.2 215.4L147.3 215.8L147.5 215.0L147.7 215.0L147.8 215.6L148.0 215.4L148.2 215.2L148.3 215.0L148.5 215.4L148.7 215.5L148.8 215.2L149.0 215.9L149.2 215.1L149.3 215.2L149.5 215.1L149.7 214.7L149.8 214.9L150.0 214.1L150.2 215.1L150.3 215.4L150.5 216.0L150.7 214.3L150.8 215.1L151.0 215.0L151.2 214.2L151.3 214.5L151.5 215.0L151.6 215.3L151.8 214.4L152.0 214.6L152.1 214.6L152.3 214.5L152.5 215.1L152.6 214.5L152.8 215.5L153.0 214.4L153.1 214.7L153.3 215.2L153.5 215.3L153.6 215.0L153.8 214.5L154.0 215.4L154.1 214.7L154.3 215.5L154.5 215.4L154.6 214.1L154.8 214.1L155.0 215.9L155.1 215.4L155.3 215.8L155.5 215.9L155.6 214.9L155.8 214.9L156.0 214.9L156.1 215.5L156.3 215.3L156.5 214.8L156.6 214.8L156.8 215.3L156.9 214.3L157.1 215.4L157.3 213.7L157.4 215.0L157.6 213.7L157.8 215.1L157.9 214.7L158.1 215.2L158.3 214.5L158.4 214.3L158.6 214.1L158.8 212.3L158.9 212.8L159.1 210.8L159.3 209.3L159.4 209.7L159.6 209.9L159.8 209.5L159.9 211.0L160.1 211.2L160.3 212.8L160.4 213.4L160.6 215.0L160.8 214.0L160.9 214.9L161.1 214.2L161.3 215.7L161.4 214.6L161.6 215.2L161.8 216.1L161.9 214.8L162.1 214.6L162.3 214.3L162.4 215.8L162.6 214.2L162.7 215.5L162.9 214.5L163.1 215.2L163.2 215.2L163.4 214.6L163.6 214.7L163.7 215.2L163.9 214.9L164.1 215.1L164.2 215.3L164.4 214.3L164.6 214.7L164.7 214.2L164.9 214.7L165.1 213.8L165.2 215.6L165.4 215.0L165.6 215.8L165.7 213.7L165.9 214.8L166.1 214.0L166.2 215.0L166.4 215.2L166.6 215.8L166.7 215.7L166.9 215.8L167.1 216.1L167.2 214.2L167.4 214.5L167.6 215.1L167.7 214.7L167.9 214.3L168.0 214.6L168.2 213.7L168.4 215.8L168.5 216.3L168.7 215.4L168.9 214.6L169.0 214.4L169.2 214.8L169.4 213.5L169.5 215.3L169.7 214.5L169.9 215.2L170.0 214.7L170.2 214.1L170.4 214.5L170.5 214.3L170.7 215.8L170.9 214.4L171.0 214.5L171.2 215.6L171.4 214.3L171.5 215.2L171.7 214.4L171.9 215.0L172.0 214.3L172.2 216.0L172.4 215.0L172.5 215.8L172.7 214.8L172.9 214.7L173.0 214.4L173.2 215.3L173.3 214.2L173.5 214.1L173.7 215.2L173.8 215.4L174.0 214.9L174.2 214.6L174.3 214.7L174.5 215.8L174.7 215.3L174.8 214.6L175.0 215.1L175.2 214.9L175.3 214.7L175.5 216.3L175.7 215.6L175.8 215.4L176.0 213.7L176.2 215.0L176.3 215.1L176.5 215.5L176.7 215.2L176.8 215.9L177.0 213.8L177.2 215.3L177.3 215.4L177.5 215.1L177.7 214.1L177.8 215.0L178.0 214.6L178.2 215.3L178.3 215.4L178.5 213.7L178.6 214.5L178.8 215.1L179.0 215.2L179.1 214.9L179.3 215.7L179.5 215.0L179.6 214.8L179.8 214.7L180.0 215.5L180.1 213.8L180.3 214.9L180.5 215.0L180.6 215.0L180.8 215.6L181.0 214.9L181.1 215.3L181.3 215.0L181.5 214.5L181.6 215.5L181.8 215.0L182.0 215.7L182.1 215.1L182.3 214.4L182.5 213.7L182.6 214.4L182.8 215.4L183.0 215.4L183.1 214.0L183.3 215.2L183.5 214.1L183.6 214.6L183.8 214.8L183.9 214.8L184.1 215.3L184.3 215.0L184.4 214.4L184.6 214.1L184.8 214.6L184.9 215.0L185.1 215.2L185.3 215.5L185.4 215.3L185.6 215.7L185.8 215.8L185.9 214.7L186.1 214.4L186.3 213.5L186.4 214.0L186.6 215.9L186.8 214.9L186.9 215.5L187.1 214.8L187.3 214.2L187.4 214.3L187.6 215.5L187.8 215.3L187.9 213.9L188.1 214.4L188.3 214.9L188.4 214.2L188.6 215.2L188.8 213.5L188.9 215.5L189.1 215.4L189.2 214.6L189.4 214.3L189.6 214.6L189.7 213.0L189.9 214.2L190.1 214.9L190.2 214.1L190.4 214.3L190.6 211.9L190.7 213.1L190.9 211.6L191.1 208.4L191.2 207.9L191.4 207.9L191.6 208.3L191.7 207.9L191.9 208.7L192.1 212.0L192.2 212.0L192.4 212.7L192.6 214.4L192.7 214.0L192.9 215.1L193.1 214.1L193.2 213.6L193.4 215.3L193.6 215.7L193.7 213.4L193.9 216.0L194.1 214.8L194.2 215.3L194.4 215.8L194.5 214.7L194.7 215.8L194.9 214.8L195.0 215.0L195.2 214.8L195.4 214.6L195.5 214.0L195.7 216.4L195.9 215.1L196.0 214.4L196.2 215.6L196.4 215.0L196.5 214.5L196.7 214.5L196.9 215.2L197.0 216.2L197.2 214.5L197.4 215.7L197.5 215.5L197.7 214.9L197.9 214.1L198.0 215.2L198.2 213.8L198.4 215.1L198.5 215.3L198.7 214.3L198.9 214.5L199.0 214.1L199.2 215.0L199.4 215.3L199.5 215.0L199.7 214.6L199.9 215.9L200.0 214.9L200.2 214.9L200.3 215.5L200.5 215.0L200.7 213.8L200.8 215.1L201.0 213.7L201.2 214.9L201.3 214.7L201.5 213.7L201.7 215.3L201.8 214.5L202.0 215.5L202.2 213.4L202.3 214.6L202.5 215.7L202.7 214.0L202.8 215.3L203.0 214.5L203.2 214.8L203.3 215.0L203.5 214.2L203.7 214.9L203.8 214.5L204.0 215.6L204.2 215.2L204.3 215.9L204.5 215.1L204.7 214.7L204.8 215.5L205.0 215.2L205.2 214.9L205.3 214.3L205.5 214.9L205.6 214.9L205.8 215.9L206.0 214.1L206.1 215.7L206.3 214.0L206.5 214.6L206.6 214.5L206.8 214.3L207.0 214.4L207.1 215.2L207.3 214.4L207.5 213.5L207.6 214.0L207.8 213.5L208.0 213.2L208.1 212.6L208.3 212.4L208.5 210.2L208.6 210.1L208.8 209.0L209.0 209.5L209.1 210.0L209.3 210.9L209.5 212.1L209.6 213.5L209.8 213.2L210.0 213.8L210.1 213.7L210.3 214.1L210.5 214.1L210.6 214.7L210.8 214.4L210.9 214.5L211.1 214.6L211.3 214.3L211.4 214.6L211.6 212.8L211.8 215.1L211.9 213.8L212.1 215.3L212.3 215.2L212.4 215.1L212.6 214.2L212.8 213.7L212.9 213.9L213.1 213.5L213.3 214.2L213.4 214.3L213.6 214.9L213.8 214.8L213.9 213.6L214.1 213.3L214.3 213.7L214.4 213.3L214.6 212.0L214.8 213.3L214.9 212.3L215.1 212.5L215.3 211.6L215.4 210.9L215.6 208.9L215.8 207.5L215.9 202.1L216.1 194.1L216.2 176.7L216.4 151.1L216.6 118.0L216.7 85.7L216.9 70.4L217.1 86.0L217.2 116.9L217.4 151.0L217.6 176.7L217.7 193.9L217.9 203.2L218.1 207.2L218.2 209.7L218.4 209.8L218.6 211.8L218.7 211.8L218.9 212.9L219.1 212.4L219.2 213.4L219.4 212.8L219.6 212.7L219.7 214.0L219.9 214.0L220.1 214.0L220.2 213.3L220.4 214.5L220.6 214.9L220.7 213.2L220.9 215.4L221.1 215.2L221.2 214.8L221.4 214.4L221.5 215.1L221.7 214.7L221.9 214.3L222.0 214.7L222.2 215.5L222.4 214.1L222.5 214.3L222.7 214.5L222.9 216.2L223.0 214.6L223.2 215.2L223.4 214.3L223.5 214.7L223.7 214.6L223.9 214.6L224.0 214.1L224.2 213.6L224.4 213.8L224.5 214.3L224.7 214.2L224.9 213.6L225.0 213.8L225.2 213.5L225.4 213.5L225.5 212.1L225.7 210.9L225.9 208.4L226.0 205.9L226.2 203.6L226.4 199.4L226.5 195.9L226.7 195.4L226.8 195.7L227.0 198.3L227.2 202.8L227.3 207.2L227.5 208.4L227.7 210.3L227.8 211.9L228.0 213.0L228.2 214.0L228.3 213.2L228.5 215.0L228.7 214.5L228.8 214.6L229.0 214.4L229.2 214.5L229.3 214.2L229.5 214.9L229.7 214.0L229.8 214.7L230.0 214.4L230.2 213.9L230.3 215.6L230.5 215.0L230.7 214.1L230.8 216.1L231.0 214.6L231.2 214.6L231.3 215.0L231.5 215.0L231.7 215.4L231.8 215.9L232.0 214.1L232.2 215.2L232.3 214.9L232.5 214.2L232.6 214.7L232.8 214.2L233.0 213.9L233.1 214.2L233.3 214.2L233.5 214.2L233.6 214.6L233.8 215.1L234.0 213.4L234.1 213.7L234.3 212.3L234.5 212.0L234.6 211.5L234.8 211.0L235.0 210.2L235.1 210.7L235.3 211.1L235.5 212.0L235.6 212.0L235.8 213.5L236.0 213.9L236.1 213.8L236.3 213.4L236.5 215.0L236.6 214.0L236.8 214.5L237.0 214.1L237.1 214.1L237.3 215.8L237.5 213.8L237.6 215.1L237.8 214.5L237.9 214.3L238.1 213.1L238.3 213.8L238.4 213.2L238.6 212.7L238.8 212.3L238.9 210.6L239.1 208.3L239.3 206.9L239.4 206.4L239.6 204.5L239.8 205.4L239.9 206.2L240.1 208.8L240.3 209.7L240.4 211.1L240.6 212.0L240.8 211.6L240.9 210.7L241.1 209.6L241.3 208.8L241.4 208.0L241.6 208.0L241.8 208.2L241.9 210.0L242.1 211.1L242.3 211.6L242.4 212.5L242.6 213.7L242.8 212.6L242.9 215.0L243.1 213.6L243.2 213.9L243.4 213.7L243.6 213.7L243.7 213.7L243.9 213.4L244.1 213.0L244.2 211.6L244.4 211.3L244.6 209.9L244.7 207.5L244.9 206.6L245.1 204.9L245.2 206.9L245.4 207.5L245.6 208.8L245.7 210.5L245.9 212.2L246.1 213.3L246.2 213.3L246.4 214.3L246.6 213.4L246.7 214.2L246.9 214.9L247.1 215.8L247.2 214.8L247.4 214.3L247.6 214.6L247.7 215.9L247.9 214.6L248.1 214.5L248.2 214.6L248.4 213.7L248.5 214.5L248.7 215.4L248.9 214.5L249.0 214.5L249.2 214.8L249.4 215.4L249.5 213.6L249.7 214.3L249.9 214.9L250.0 214.3L250.2 214.5L250.4 214.4L250.5 214.6L250.7 214.6L250.9 214.5L251.0 214.6L251.2 214.3L251.4 215.1L251.5 215.1L251.7 214.0L251.9 214.6L252.0 214.5L252.2 213.3L252.4 214.1L252.5 214.6L252.7 214.6L252.9 214.6L253.0 213.3L253.2 213.3L253.4 213.0L253.5 212.2L253.7 210.3L253.8 209.8L254.0 208.8L254.2 207.4L254.3 208.1L254.5 208.9L254.7 209.9L254.8 211.5L255.0 211.9L255.2 212.9L255.3 212.8L255.5 213.7L255.7 213.9L255.8 213.6L256.0 214.0L256.2 214.2L256.3 212.6L256.5 214.6L256.7 213.1L256.8 213.9L257.0 213.1L257.2 214.3L257.3 213.4L257.5 214.2L257.7 214.8L257.8 213.7L258.0 213.1L258.2 213.6L258.3 213.5L258.5 213.9L258.7 214.7L258.8 213.2L259.0 213.4L259.1 213.1L259.3 214.7L259.5 214.0L259.6 213.5L259.8 212.9L260.0 213.6L260.1 212.8L260.3 212.2L260.5 212.7L260.6 211.6L260.8 211.5L261.0 211.0L261.1 211.7L261.3 211.3L261.5 211.4L261.6 211.0L261.8 210.2L262.0 208.7L262.1 210.2L262.3 207.3L262.5 206.4L262.6 203.4L262.8 199.4L263.0 188.9L263.1 173.4L263.3 148.0L263.5 110.8L263.6 54.7L263.8 -22.6L264.0 -119.7L264.1 -235.5L264.3 -359.5L264.4 -483.4L264.6 -588.0L264.8 -660.1L264.9 -685.1L265.1 -658.8L265.3 -588.3L265.4 -483.7L265.6 -360.4L265.8 -235.3L265.9 -120.1L266.1 -22.6L266.3 54.2L266.4 109.0L266.6 148.3L266.8 173.1L266.9 189.2L267.1 198.6L267.3 203.1L267.4 206.3L267.6 209.2L267.8 208.4L267.9 210.2L268.1 209.6L268.3 209.9L268.4 210.2L268.6 210.9L268.8 211.2L268.9 211.3L269.1 212.1L269.3 212.1L269.4 211.4L269.6 211.9L269.8 213.2L269.9 211.7L270.1 212.3L270.2 213.1L270.4 214.0L270.6 213.6L270.7 213.5L270.9 213.3L271.1 212.9L271.2 212.6L271.4 213.0L271.6 212.6L271.7 212.9L271.9 213.0L272.1 212.6L272.2 213.3L272.4 212.8L272.6 213.3L272.7 213.3L272.9 212.6L273.1 212.0L273.2 212.8L273.4 212.5L273.6 211.4L273.7 211.0L273.9 209.3L274.1 208.1L274.2 205.2L274.4 202.8L274.6 199.4L274.7 195.4L274.9 189.7L275.1 185.0L275.2 179.1L275.4 174.6L275.5 171.5L275.7 170.4L275.9 171.8L276.0 174.8L276.2 179.9L276.4 184.6L276.5 190.4L276.7 194.5L276.9 198.9L277.0 202.3L277.2 205.7L277.4 207.0L277.5 207.3L277.7 206.8L277.9 205.7L278.0 203.1L278.2 203.7L278.4 202.7L278.5 203.1L278.7 204.4L278.9 206.7L279.0 208.6L279.2 210.4L279.4 212.3L279.5 212.4L279.7 212.2L279.9 213.4L280.0 213.3L280.2 213.3L280.4 213.6L280.5 214.1L280.7 215.2L280.8 213.9L281.0 214.8L281.2 214.0L281.3 214.3L281.5 214.6L281.7 214.6L281.8 214.2L282.0 214.4L282.2 214.6L282.3 214.9L282.5 214.4L282.7 213.7L282.8 213.9L283.0 214.9L283.2 214.8L283.3 214.6L283.5 215.0L283.7 214.8L283.8 215.6L284.0 213.5L284.2 214.1L284.3 212.9L284.5 213.6L284.7 215.2L284.8 215.0L285.0 214.3L285.2 215.2L285.3 213.7L285.5 215.2L285.7 214.6L285.8 214.7L286.0 216.1L286.1 213.8L286.3 214.4L286.5 215.2L286.6 214.7L286.8 214.7L287.0 214.4L287.1 215.4L287.3 215.5L287.5 214.7L287.6 213.9L287.8 214.3L288.0 215.5L288.1 214.9L288.3 215.0L288.5 213.8L288.6 213.6L288.8 213.9L289.0 214.5L289.1 214.1L289.3 215.9L289.5 214.4L289.6 213.9L289.8 214.5L290.0 213.9L290.1 215.4L290.3 213.7L290.5 213.4L290.6 212.2L290.8 211.8L291.0 211.1L291.1 210.0L291.3 207.8L291.4 207.3L291.6 206.8L291.8 209.0L291.9 209.1L292.1 211.2L292.3 212.3L292.4 212.0L292.6 214.4L292.8 214.3L292.9 214.3L293.1 214.1L293.3 215.2L293.4 214.1L293.6 214.4L293.8 214.9L293.9 214.4L294.1 214.2L294.3 215.5L294.4 214.9L294.6 213.0L294.8 214.2L294.9 213.7L295.1 213.9L295.3 213.9L295.4 213.2L295.6 213.3L295.8 211.5L295.9 210.5L296.1 208.3L296.3 206.7L296.4 205.7L296.6 205.2L296.7 205.4L296.9 207.8L297.1 208.5L297.2 211.2L297.4 212.2L297.6 212.8L297.7 213.6L297.9 215.0L298.1 214.6L298.2 215.0L298.4 214.9L298.6 214.0L298.7 213.9L298.9 216.0L299.1 214.7L299.2 214.5L299.4 214.3L299.6 215.2L299.7 215.0L299.9 214.4L300.1 214.1L300.2 213.9L300.4 215.1L300.6 215.3L300.7 214.4L300.9 214.5L301.1 214.7L301.2 215.4L301.4 213.8L301.6 214.6L301.7 214.7L301.9 214.4L302.1 214.4L302.2 214.0L302.4 214.9L302.5 215.0L302.7 214.3L302.9 214.2L303.0 213.3L303.2 212.4L303.4 211.9L303.5 210.7L303.7 210.1L303.9 208.3L304.0 209.1L304.2 210.3L304.4 212.4L304.5 211.7L304.7 213.6L304.9 212.9L305.0 214.2L305.2 214.2L305.4 215.0L305.5 215.3L305.7 215.3L305.9 214.5L306.0 214.7L306.2 214.7L306.4 215.1L306.5 215.4L306.7 214.5L306.9 214.3L307.0 214.7L307.2 215.3L307.4 214.5L307.5 214.9L307.7 215.5L307.8 214.4L308.0 213.6L308.2 212.9L308.3 212.9L308.5 212.4L308.7 211.5L308.8 212.4L309.0 212.3L309.2 213.4L309.3 215.2L309.5 213.8L309.7 213.7L309.8 213.3L310.0 215.5L310.2 214.1L310.3 215.2L310.5 215.0L310.7 214.7L310.8 214.7L311.0 214.0L311.2 215.2L311.3 215.2L311.5 215.0L311.7 214.5L311.8 215.0L312.0 215.2L312.2 215.5L312.3 214.2L312.5 215.2L312.7 214.5L312.8 215.1L313.0 214.6L313.1 215.3L313.3 216.2L313.5 214.5L313.6 215.3L313.8 215.2L314.0 214.3L314.1 215.3L314.3 214.6L314.5 215.0L314.6 214.9L314.8 215.1L315.0 214.7L315.1 215.1L315.3 215.1L315.5 215.0L315.6 214.8L315.8 214.7L316.0 215.1L316.1 214.9L316.3 214.9L316.5 215.5L316.6 215.7L316.8 214.7L317.0 215.2L317.1 214.0L317.3 215.7L317.5 215.6L317.6 215.6L317.8 214.6L318.0 215.3L318.1 214.8L318.3 214.8L318.4 214.6L318.6 214.8L318.8 214.1L318.9 215.0L319.1 215.2L319.3 214.6L319.4 216.3L319.6 215.8L319.8 215.2L319.9 215.2L320.1 214.7L320.3 214.6L320.4 214.5L320.6 214.4L320.8 215.6L320.9 215.0L321.1 215.9L321.3 214.4L321.4 215.3L321.6 215.4L321.8 215.4L321.9 214.0L322.1 214.0L322.3 214.8L322.4 216.0L322.6 214.8L322.8 215.0L322.9 215.4L323.1 215.0L323.3 215.7L323.4 215.0L323.6 214.9L323.7 214.8L323.9 214.3L324.1 214.2L324.2 214.9L324.4 214.1L324.6 212.7L324.7 211.9L324.9 212.3L325.1 209.4L325.2 210.9L325.4 209.0L325.6 210.1L325.7 211.6L325.9 210.9L326.1 212.5L326.2 213.8L326.4 213.9L326.6 215.2L326.7 213.1L326.9 214.8L327.1 214.7L327.2 214.1L327.4 215.2L327.6 215.0L327.7 214.4L327.9 214.6L328.1 215.7L328.2 214.6L328.4 215.2L328.6 213.6L328.7 214.6L328.9 214.9L329.0 214.1L329.2 214.9L329.4 215.8L329.5 213.8L329.7 214.1L329.9 214.9L330.0 213.1L330.2 214.5L330.4 214.1L330.5 212.2L330.7 213.0L330.9 212.8L331.0 212.4L331.2 212.3L331.4 212.8L331.5 213.5L331.7 213.6L331.9 213.4L332.0 213.7L332.2 213.8L332.4 213.7L332.5 214.5L332.7 214.4L332.9 213.1L333.0 213.0L333.2 212.2L333.4 210.7L333.5 209.5L333.7 210.8L333.9 210.5L334.0 211.3L334.2 213.1L334.4 212.5L334.5 213.8L334.7 213.5L334.8 214.8L335.0 214.6L335.2 214.2L335.3 214.3L335.5 214.7L335.7 215.0L335.8 214.4L336.0 216.0L336.2 216.1L336.3 214.7L336.5 215.0L336.7 215.3L336.8 215.3L337.0 214.7L337.2 214.6L337.3 214.8L337.5 214.8L337.7 214.8L337.8 215.4L338.0 214.0L338.2 215.2L338.3 215.9L338.5 215.4L338.7 215.0L338.8 214.7L339.0 214.1L339.2 215.8L339.3 215.4L339.5 215.6L339.7 214.7L339.8 214.9L340.0 214.9L340.1 215.1L340.3 214.4L340.5 216.0L340.6 214.7L340.8 214.3L341.0 215.1L341.1 215.1L341.3 215.5L341.5 215.4L341.6 215.4L341.8 214.0L342.0 214.8L342.1 213.8L342.3 215.0L342.5 214.7L342.6 214.4L342.8 215.3L343.0 214.8L343.1 214.4L343.3 215.1L343.5 215.5L343.6 214.1L343.8 214.8L344.0 215.1L344.1 214.9L344.3 214.0L344.5 214.9L344.6 215.1L344.8 214.6L345.0 214.5L345.1 214.0L345.3 214.8L345.4 213.2L345.6 213.6L345.8 212.6L345.9 213.2L346.1 210.8L346.3 206.8L346.4 200.9L346.6 191.7L346.8 179.9L346.9 169.6L347.1 164.8L347.3 169.1L347.4 180.8L347.6 192.0L347.8 203.2L347.9 207.2L348.1 211.1L348.3 211.9L348.4 212.9L348.6 213.1L348.8 215.0L348.9 213.7L349.1 214.2L349.3 214.6L349.4 214.2L349.6 214.2L349.8 215.2L349.9 215.6L350.1 213.9L350.3 214.7L350.4 215.1L350.6 215.6L350.7 214.7L350.9 214.5L351.1 214.3L351.2 214.6L351.4 214.7L351.6 214.6L351.7 214.6L351.9 216.1L352.1 215.4L352.2 215.1L352.4 215.6L352.6 215.5L352.7 215.7L352.9 214.8L353.1 215.0L353.2 215.2L353.4 214.4L353.6 214.9L353.7 213.7L353.9 216.0L354.1 214.9L354.2 214.6L354.4 214.7L354.6 215.5L354.7 214.8L354.9 215.4L355.1 215.7L355.2 214.9L355.4 215.4L355.6 214.0L355.7 214.7L355.9 214.2L356.0 214.9L356.2 214.6L356.4 213.3L356.5 214.7L356.7 215.0L356.9 215.3L357.0 214.3L357.2 214.6L357.4 214.6L357.5 214.4L357.7 213.7L357.9 215.6L358.0 214.9L358.2 215.5L358.4 214.9L358.5 214.8L358.7 215.5L358.9 215.3L359.0 214.9L359.2 214.9L359.4 214.3L359.5 215.2L359.7 214.9L359.9 214.9L360.0 214.4L360.2 214.9L360.4 215.1L360.5 215.4L360.7 215.1L360.9 215.7L361.0 215.3L361.2 213.5L361.3 214.6L361.5 215.8L361.7 215.2L361.8 214.7L362.0 215.9L362.2 214.9L362.3 215.3L362.5 215.9L362.7 214.6L362.8 215.2L363.0 215.5L363.2 215.4L363.3 215.6L363.5 215.8L363.7 215.0L363.8 214.7L364.0 214.5L364.2 215.3L364.3 214.4L364.5 216.8L364.7 214.4L364.8 214.0L365.0 214.5L365.2 215.2L365.3 215.1L365.5 215.9L365.7 215.7L365.8 214.2L366.0 214.4L366.2 214.1L366.3 214.5L366.5 214.6L366.6 213.8L366.8 215.2L367.0 214.2L367.1 214.5L367.3 213.5L367.5 213.8L367.6 214.9L367.8 214.8L368.0 214.1L368.1 214.4L368.3 214.5L368.5 213.8L368.6 213.4L368.8 213.8L369.0 214.3L369.1 214.2L369.3 214.3L369.5 213.6L369.6 212.9L369.8 212.2L370.0 211.4L370.1 208.8L370.3 205.0L370.5 197.8L370.6 187.6L370.8 175.9L371.0 166.6L371.1 167.1L371.3 175.4L371.5 185.9L371.6 193.2L371.8 198.7L372.0 200.8L372.1 200.0L372.3 200.1L372.4 198.7L372.6 200.4L372.8 202.2L372.9 204.8L373.1 208.1L373.3 209.7L373.4 211.5L373.6 213.3L373.8 213.3L373.9 214.2L374.1 213.9L374.3 214.8L374.4 214.1L374.6 213.7L374.8 213.6L374.9 214.8L375.1 214.0L375.3 215.2L375.4 214.2L375.6 214.6L375.8 214.5L375.9 214.9L376.1 213.9L376.3 214.9L376.4 214.1L376.6 214.6L376.8 214.0L376.9 213.8L377.1 211.6L377.3 210.9L377.4 207.8L377.6 203.7L377.7 196.6L377.9 191.8L378.1 189.4L378.2 191.1L378.4 197.5L378.6 203.1L378.7 207.1L378.9 211.7L379.1 212.7L379.2 214.2L379.4 214.0L379.6 214.7L379.7 214.5L379.9 214.0L380.1 213.7L380.2 214.2L380.4 213.9L380.6 215.0L380.7 214.5L380.9 214.8L381.1 215.0L381.2 214.3L381.4 214.4L381.6 214.7L381.7 214.8L381.9 215.7L382.1 215.2L382.2 215.0L382.4 215.0L382.6 214.4L382.7 214.1L382.9 215.4L383.0 214.5L383.2 214.0L383.4 214.5L383.5 213.9L383.7 214.9L383.9 215.5L384.0 215.5L384.2 214.9L384.4 215.0L384.5 214.7L384.7 214.9L384.9 213.9L385.0 213.1L385.2 212.8L385.4 212.1L385.5 211.5L385.7 211.0L385.9 211.1L386.0 210.6L386.2 211.9L386.4 213.1L386.5 213.9L386.7 213.8L386.9 214.1L387.0 214.8L387.2 213.1L387.4 214.9L387.5 215.3L387.7 214.2L387.9 215.2L388.0 214.8L388.2 214.6L388.3 215.1L388.5 213.9L388.7 214.2L388.8 214.5L389.0 214.8L389.2 215.2L389.3 215.9L389.5 215.2L389.7 214.5L389.8 216.2L390.0 214.5L390.2 215.7L390.3 214.7L390.5 215.1L390.7 214.9L390.8 215.2L391.0 214.8L391.2 215.7L391.3 214.5L391.5 214.6L391.7 214.8L391.8 215.1L392.0 213.8L392.2 214.5L392.3 215.4L392.5 214.8L392.7 215.7L392.8 214.0L393.0 213.6L393.2 213.6L393.3 215.7L393.5 214.7L393.6 214.5L393.8 214.8L394.0 215.2L394.1 213.5L394.3 214.1L394.5 212.6L394.6 213.6L394.8 213.3L395.0 212.8L395.1 210.2L395.3 207.7L395.5 202.9L395.6 194.1L395.8 184.7L396.0 178.9L396.1 177.8L396.3 184.6L396.5 194.0L396.6 202.3L396.8 207.8L397.0 210.8L397.1 213.1L397.3 212.4L397.5 214.1L397.6 214.8L397.8 213.5L398.0 214.4L398.1 214.0L398.3 215.0L398.5 214.6L398.6 214.4L398.8 214.9L398.9 214.5L399.1 215.0L399.3 215.3L399.4 214.9L399.6 215.9L399.8 214.6L399.9 214.7L400.1 215.1L400.3 215.8L400.4 214.8L400.6 214.7L400.8 213.8L400.9 214.5L401.1 214.9L401.3 214.7L401.4 215.0L401.6 213.9L401.8 214.8L401.9 215.5L402.1 214.5L402.3 215.1L402.4 214.3L402.6 213.8L402.8 214.5L402.9 214.7L403.1 216.1L403.3 214.6L403.4 214.8L403.6 214.8L403.8 215.4L403.9 214.0L404.1 215.9L404.3 214.5L404.4 214.8L404.6 213.5L404.7 215.9L404.9 213.6L405.1 215.1L405.2 215.2L405.4 214.4L405.6 214.9L405.7 214.3L405.9 216.0L406.1 215.4L406.2 214.4L406.4 215.3L406.6 214.7L406.7 214.7L406.9 215.5L407.1 215.6L407.2 215.2L407.4 214.7L407.6 214.3L407.7 215.3L407.9 214.7L408.1 216.0L408.2 215.1L408.4 214.8L408.6 215.2L408.7 214.7L408.9 215.1L409.1 214.7L409.2 214.5L409.4 213.8L409.6 214.9L409.7 214.7L409.9 214.7L410.0 215.9L410.2 215.7L410.4 215.6L410.5 214.8L410.7 215.3L410.9 214.0L411.0 215.3L411.2 214.6L411.4 215.5L411.5 215.5L411.7 215.8L411.9 214.8L412.0 214.4L412.2 214.3L412.4 216.2L412.5 214.8L412.7 213.8L412.9 215.4L413.0 214.5L413.2 215.4L413.4 215.7L413.5 214.7L413.7 214.5L413.9 215.1L414.0 215.8L414.2 215.2L414.4 214.4L414.5 214.6L414.7 214.4L414.9 214.6L415.0 214.0L415.2 214.5L415.3 215.0L415.5 214.9L415.7 214.2L415.8 215.2L416.0 215.5L416.2 215.3L416.3 214.2L416.5 215.0L416.7 214.6L416.8 214.9L417.0 215.2L417.2 215.1L417.3 214.5L417.5 214.1L417.7 215.2L417.8 215.7L418.0 213.8L418.2 214.1L418.3 214.5L418.5 214.8L418.7 214.5L418.8 214.5L419.0 215.1L419.2 214.7L419.3 214.6L419.5 215.1L419.7 215.1L419.8 212.2L420.0 213.0L420.2 212.4L420.3 211.0L420.5 209.6L420.6 208.8L420.8 207.0L421.0 207.0L421.1 208.8L421.3 209.2L421.5 209.5L421.6 211.6L421.8 212.1L422.0 211.9L422.1 212.7L422.3 212.4L422.5 211.2L422.6 208.8L422.8 207.0L423.0 202.4L423.1 198.5L423.3 194.8L423.5 193.3L423.6 192.4L423.8 195.2L424.0 199.4L424.1 202.6L424.3 207.6L424.5 209.3L424.6 210.9L424.8 213.4L425.0 213.0L425.1 213.7L425.3 213.9L425.5 214.5L425.6 215.0L425.8 213.2L425.9 214.2L426.1 215.2L426.3 215.0L426.4 215.4L426.6 214.1L426.8 214.4L426.9 215.2L427.1 215.3L427.3 215.1L427.4 215.5L427.6 215.3L427.8 215.0L427.9 214.8L428.1 215.0L428.3 214.9L428.4 215.1L428.6 214.9L428.8 214.8L428.9 214.9L429.1 215.5L429.3 215.5L429.4 215.4L429.6 214.2L429.8 214.7L429.9 214.8L430.1 215.5L430.3 215.4L430.4 215.7L430.6 214.6L430.8 214.9L430.9 215.7L431.1 215.6L431.2 215.2L431.4 214.6L431.6 215.0L431.7 215.6L431.9 214.5L432.1 214.6L432.2 215.6L432.4 215.7L432.6 213.0L432.7 215.7L432.9 215.8L433.1 215.4L433.2 215.4L433.4 214.3L433.6 214.9L433.7 215.0L433.9 215.7L434.1 214.8L434.2 214.3L434.4 215.3L434.6 215.2L434.7 214.9L434.9 214.4L435.1 213.9L435.2 215.0L435.4 215.3L435.6 214.5L435.7 215.0L435.9 214.7L436.1 214.9L436.2 214.9L436.4 215.5L436.5 215.6L436.7 214.6L436.9 215.2L437.0 215.8L437.2 215.0L437.4 214.0L437.5 215.3L437.7 214.6L437.9 214.3L438.0 214.8L438.2 214.4L438.4 214.6L438.5 215.5L438.7 214.2L438.9 215.5L439.0 215.0L439.2 214.3L439.4 214.0L439.5 215.6L439.7 215.4L439.9 214.7L440.0 214.5L440.2 215.2L440.4 213.9L440.5 215.2L440.7 215.4L440.9 214.9L441.0 215.3L441.2 215.1L441.4 215.3L441.5 215.6L441.7 214.9L441.9 214.3L442.0 215.5L442.2 214.8L442.3 215.6L442.5 215.3L442.7 214.2L442.8 214.6L443.0 215.3L443.2 214.7L443.3 215.4L443.5 214.7L443.7 214.9L443.8 214.1L444.0 213.6L444.2 215.9L444.3 215.7L444.5 214.5L444.7 214.6L444.8 215.8L445.0 214.4L445.2 215.5L445.3 215.1L445.5 214.6L445.7 215.1L445.8 215.5L446.0 214.5L446.2 215.1L446.3 215.2L446.5 214.1L446.7 215.1L446.8 214.9L447.0 215.1L447.2 215.5L447.3 215.1L447.5 214.9L447.6 215.0L447.8 215.1L448.0 214.4L448.1 214.9L448.3 215.5L448.5 214.9L448.6 214.3L448.8 215.5L449.0 214.5L449.1 214.2L449.3 214.3L449.5 215.9L449.6 215.4L449.8 216.0L450.0 214.4L450.1 213.8L450.3 215.3L450.5 214.9L450.6 214.0L450.8 214.3L451.0 214.1L451.1 214.1L451.3 214.1L451.5 214.0L451.6 212.7L451.8 213.2L452.0 212.1L452.1 213.0L452.3 212.1L452.5 212.7L452.6 211.7L452.8 212.4L452.9 214.8L453.1 213.2L453.3 214.2L453.4 214.5L453.6 213.6L453.8 214.8L453.9 215.2L454.1 213.9L454.3 214.0L454.4 214.3L454.6 215.9L454.8 214.9L454.9 214.0L455.1 214.8L455.3 214.9L455.4 214.3L455.6 216.0L455.8 213.8L455.9 213.6L456.1 215.0L456.3 214.9L456.4 214.5L456.6 214.6L456.8 213.1L456.9 213.0L457.1 214.1L457.3 213.8L457.4 213.4L457.6 213.5L457.8 212.9L457.9 213.1L458.1 212.4L458.2 212.4L458.4 210.0L458.6 207.7L458.7 203.4L458.9 193.1L459.1 179.1L459.2 161.9L459.4 144.2L459.6 135.4L459.7 142.4L459.9 156.5L460.1 170.5L460.2 177.4L460.4 179.7L460.6 179.4L460.7 182.1L460.9 188.7L461.1 195.5L461.2 203.7L461.4 207.5L461.6 209.9L461.7 211.8L461.9 212.6L462.1 212.2L462.2 212.8L462.4 213.2L462.6 214.2L462.7 213.7L462.9 214.7L463.1 212.8L463.2 212.7L463.4 211.9L463.5 213.1L463.7 212.2L463.9 211.0L464.0 211.4L464.2 210.3L464.4 210.7L464.5 212.3L464.7 212.4L464.9 213.3L465.0 213.4L465.2 213.8L465.4 215.5L465.5 214.8L465.7 213.7L465.9 214.7L466.0 215.6L466.2 214.2L466.4 214.7L466.5 215.2L466.7 214.7L466.9 215.6L467.0 215.0L467.2 215.9L467.4 214.0L467.5 214.0L467.7 215.0L467.9 214.5L468.0 214.5L468.2 213.2L468.4 213.2L468.5 212.0L468.7 211.6L468.8 213.0L469.0 212.2L469.2 212.7L469.3 212.8L469.5 214.3L469.7 214.1L469.8 213.9L470.0 215.5L470.2 214.7L470.3 214.6L470.5 213.9L470.7 214.9L470.8 213.1L471.0 215.6L471.2 214.4L471.3 215.6L471.5 214.5L471.7 214.2L471.8 215.6L472.0 214.6L472.2 215.2L472.3 214.5L472.5 214.8L472.7 215.1L472.8 215.8L473.0 214.8L473.2 215.4L473.3 214.2L473.5 216.2L473.7 215.0L473.8 214.4L474.0 214.7L474.2 214.3L474.3 214.4L474.5 214.5L474.6 215.7L474.8 214.9L475.0 214.9L475.1 215.5L475.3 214.7L475.5 215.1L475.6 214.9L475.8 215.2L476.0 215.5L476.1 214.8L476.3 214.8L476.5 214.9L476.6 215.0L476.8 215.6L477.0 215.1L477.1 214.6L477.3 215.8L477.5 214.0L477.6 214.7L477.8 214.7L478.0 215.1L478.1 215.7L478.3 214.7L478.5 214.8L478.6 215.2L478.8 214.4L479.0 214.9L479.1 215.5L479.3 215.8L479.5 215.0L479.6 215.2L479.8 215.5L479.9 214.5L480.1 215.4L480.3 214.7L480.4 215.7L480.6 214.2L480.8 214.4L480.9 215.9L481.1 215.3L481.3 215.9L481.4 214.6L481.6 214.9L481.8 215.5L481.9 214.5L482.1 215.0L482.3 215.1L482.4 214.7L482.6 215.1L482.8 214.4L482.9 215.4L483.1 214.5L483.3 214.6L483.4 215.3L483.6 214.1L483.8 215.0L483.9 214.6L484.1 215.4L484.3 214.9L484.4 215.0L484.6 215.0L484.8 214.2L484.9 214.2L485.1 215.5L485.2 214.4L485.4 214.9L485.6 215.3L485.7 214.6L485.9 214.8L486.1 215.0L486.2 215.5L486.4 215.4L486.6 214.3L486.7 215.2L486.9 214.3L487.1 214.9L487.2 214.7L487.4 214.1L487.6 215.2L487.7 214.4L487.9 214.6L488.1 216.3L488.2 215.1L488.4 214.5L488.6 215.0L488.7 214.8L488.9 215.4L489.1 215.0L489.2 215.7L489.4 215.2L489.6 214.8L489.7 214.8L489.9 214.5L490.1 215.6L490.2 215.2L490.4 214.0L490.5 214.4L490.7 215.0L490.9 215.4L491.0 214.1L491.2 215.0L491.4 214.3L491.5 215.3L491.7 214.5L491.9 214.7L492.0 216.0L492.2 214.9L492.4 215.1L492.5 215.8L492.7 214.6L492.9 215.3L493.0 214.5L493.2 214.4L493.4 215.5L493.5 214.6L493.7 214.4L493.9 214.7L494.0 214.0L494.2 214.4L494.4 214.5L494.5 215.1L494.7 213.5L494.9 214.5L495.0 214.2L495.2 214.7L495.4 214.8L495.5 215.5L495.7 215.1L495.8 215.2L496.0 214.6L496.2 216.1L496.3 214.9L496.5 215.8L496.7 214.2L496.8 214.7L497.0 214.1L497.2 213.3L497.3 213.1L497.5 211.1L497.7 209.7L497.8 207.0L498.0 202.6L498.2 200.4L498.3 195.0L498.5 194.7L498.7 194.8L498.8 195.8L499.0 199.7L499.2 202.7L499.3 205.9L499.5 210.3L499.7 211.5L499.8 212.5L500.0 213.6L500.2 214.3L500.3 214.4L500.5 213.6L500.7 213.8L500.8 213.9L501.0 214.4L501.1 214.1L501.3 214.4L501.5 214.0L501.6 213.2L501.8 212.0L502.0 211.1L502.1 210.7L502.3 209.2L502.5 208.0L502.6 206.4L502.8 207.4L503.0 207.4L503.1 208.2L503.3 210.2L503.5 211.0L503.6 213.1L503.8 213.6L504.0 214.1L504.1 214.6L504.3 214.4L504.5 214.5L504.6 214.2L504.8 214.3L505.0 214.4L505.1 215.6L505.3 215.6L505.5 215.5L505.6 214.7L505.8 213.9L506.0 215.9L506.1 214.6L506.3 215.7L506.4 215.6L506.6 213.9L506.8 213.8L506.9 214.6L507.1 214.7L507.3 214.5L507.4 214.2L507.6 214.9L507.8 216.1L507.9 214.6L508.1 215.4L508.3 213.9L508.4 214.1L508.6 214.5L508.8 215.0L508.9 215.2L509.1 214.7L509.3 215.9L509.4 214.5L509.6 214.5L509.8 216.3L509.9 214.5L510.1 215.6L510.3 216.1L510.4 214.6L510.6 215.2L510.8 215.0L510.9 214.9L511.1 214.9L511.3 213.8L511.4 215.3L511.6 214.6L511.8 215.0L511.9 214.4L512.1 214.7L512.2 215.1L512.4 214.1L512.6 214.6L512.7 215.8L512.9 215.5L513.1 214.8L513.2 215.0L513.4 214.9L513.6 215.8L513.7 215.2L513.9 214.9L514.1 215.4L514.2 214.2L514.4 214.1L514.6 214.9L514.7 214.8L514.9 213.3L515.1 215.5L515.2 214.9L515.4 215.4L515.6 215.6L515.7 214.0L515.9 215.2L516.1 213.8L516.2 215.2L516.4 214.9L516.6 215.2L516.7 214.2L516.9 214.6L517.1 213.8L517.2 215.1L517.4 215.1L517.5 216.2L517.7 215.5L517.9 214.7L518.0 215.9L518.2 214.2L518.4 216.3L518.5 216.2L518.7 214.7L518.9 215.4L519.0 215.2L519.2 213.8L519.4 213.1L519.5 214.1L519.7 212.6L519.9 211.6L520.0 212.3L520.2 212.3L520.4 212.8L520.5 213.7L520.7 214.0L520.9 214.3L521.0 215.2L521.2 214.8L521.4 214.4L521.5 215.1L521.7 215.1L521.9 215.3L522.0 214.9L522.2 215.7L522.4 215.7L522.5 214.8L522.7 215.5L522.8 215.1L523.0 214.8L523.2 215.0L523.3 215.5L523.5 215.1L523.7 215.0L523.8 214.8L524.0 215.1L524.2 215.0L524.3 215.8L524.5 214.4L524.7 214.5L524.8 213.8L525.0 214.9L525.2 214.9L525.3 215.1L525.5 214.2L525.7 216.5L525.8 215.9L526.0 214.9L526.2 213.1L526.3 213.3L526.5 215.2L526.7 214.5L526.8 214.0L527.0 214.8L527.2 216.1L527.3 214.8L527.5 214.6L527.7 215.3L527.8 215.2L528.0 213.9L528.1 215.0L528.3 214.3L528.5 215.2L528.6 215.1L528.8 215.3L529.0 214.8L529.1 214.5L529.3 214.7L529.5 215.0L529.6 213.9L529.8 215.7L530.0 215.2L530.1 214.5L530.3 215.3L530.5 214.3L530.6 215.8L530.8 215.3L531.0 214.9L531.1 215.2L531.3 215.0L531.5 214.9L531.6 214.8L531.8 214.6L532.0 214.5L532.1 214.3L532.3 216.1L532.5 214.4L532.6 214.9L532.8 215.1L533.0 214.3L533.1 215.7L533.3 215.3L533.4 214.8L533.6 214.7L533.8 215.5L533.9 214.9L534.1 214.6L534.3 214.9L534.4 214.4L534.6 214.7L534.8 216.0L534.9 216.0L535.1 215.4L535.3 214.3L535.4 214.6L535.6 215.2L535.8 214.4L535.9 215.9L536.1 214.8L536.3 215.0L536.4 215.0L536.6 216.3L536.8 214.5L536.9 214.8L537.1 214.7L537.3 214.7L537.4 215.0L537.6 215.5L537.8 214.2L537.9 214.8L538.1 214.0L538.3 215.1L538.4 215.1L538.6 215.0L538.7 213.2L538.9 213.3L539.1 213.9L539.2 213.2L539.4 213.7L539.6 213.3L539.7 212.8L539.9 211.4L540.1 210.8L540.2 206.0L540.4 198.8L540.6 190.2L540.7 174.9L540.9 161.4L541.1 155.3" stroke="#35a869"/></g>
<g stroke="#1e1e1e" stroke-width="1.5" fill="none"><line x1="62.7" y1="32.3" x2="62.7" y2="393.8"/><line x1="59.0" y1="392.9" x2="546.9" y2="392.9"/><line x1="59.2" y1="393.3" x2="62.7" y2="393.3"/><line x1="56.2" y1="349.0" x2="62.7" y2="349.0"/><line x1="59.2" y1="304.7" x2="62.7" y2="304.7"/><line x1="56.2" y1="260.5" x2="62.7" y2="260.5"/><line x1="59.2" y1="216.2" x2="62.7" y2="216.2"/><line x1="56.2" y1="171.9" x2="62.7" y2="171.9"/><line x1="59.2" y1="127.7" x2="62.7" y2="127.7"/><line x1="56.2" y1="83.4" x2="62.7" y2="83.4"/><line x1="59.2" y1="39.1" x2="62.7" y2="39.1"/><line x1="85.9" y1="392.9" x2="85.9" y2="396.7"/><line x1="127.3" y1="392.9" x2="127.3" y2="399.7"/><line x1="168.7" y1="392.9" x2="168.7" y2="396.7"/><line x1="210.1" y1="392.9" x2="210.1" y2="399.7"/><line x1="251.5" y1="392.9" x2="251.5" y2="396.7"/><line x1="292.9" y1="392.9" x2="292.9" y2="399.7"/><line x1="334.4" y1="392.9" x2="334.4" y2="396.7"/><line x1="375.8" y1="392.9" x2="375.8" y2="399.7"/><line x1="417.2" y1="392.9" x2="417.2" y2="396.7"/><line x1="458.6" y1="392.9" x2="458.6" y2="399.7"/><line x1="500.0" y1="392.9" x2="500.0" y2="396.7"/><line x1="541.4" y1="392.9" x2="541.4" y2="399.7"/></g>
<g font-size="16"><text x="51.2" y="353.7" text-anchor="end">0</text><text x="51.2" y="265.2" text-anchor="end">1000</text><text x="51.2" y="176.6" text-anchor="end">2000</text><text x="51.2" y="88.1" text-anchor="end">3000</text><text x="127.9" y="417" text-anchor="middle">10</text><text x="210.7" y="417" text-anchor="middle">20</text><text x="293.5" y="417" text-anchor="middle">30</text><text x="376.4" y="417" text-anchor="middle">40</text><text x="459.2" y="417" text-anchor="middle">50</text><text x="542.0" y="417" text-anchor="middle">60</text><text x="107.2" y="120.3">Il</text><text x="127.6" y="179.8">Cl/Kl</text><text x="185.3" y="190.7">Il</text><text x="206.5" y="67.0">Qtz</text><text x="255.8" y="27.0">Qtz</text><text x="233.6" y="203.5">Pl</text><text x="269.4" y="166.0">Pl</text><text x="293.0" y="203.5">Fl</text><text x="328.0" y="203.5">Il</text><text x="337.5" y="159.2">Qtz</text><text x="416.8" y="176.6">Il</text><text x="451.4" y="130.6">Qtz</text><text x="534.6" y="149.2">Qtz</text><text x="89.0" y="241.5">Cl</text></g>
<g font-size="18.67"><text x="548.6" y="212.9">Metasandstone</text><text x="548.6" y="259.9">Phyllite</text><text x="546.7" y="307.3">Psammitic Phyllite</text><text x="546.5" y="349.6">Gritty Phyllite</text></g>
<text x="243" y="433.5" font-size="18.67">2theta (degree)</text>
<text transform="translate(13.3,267.9) rotate(-90)" font-size="18.67">Intensity (a.u.)</text>
</svg>
</body></html>
